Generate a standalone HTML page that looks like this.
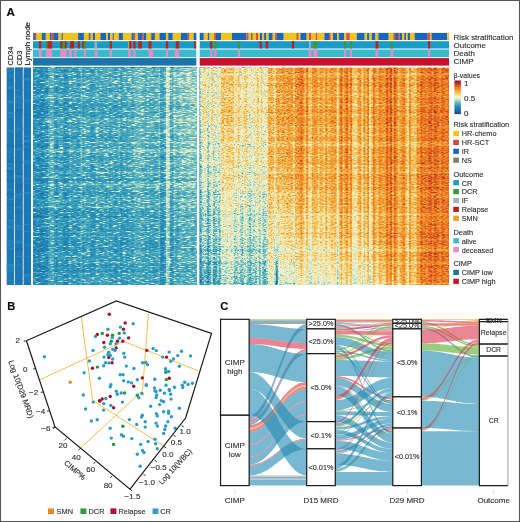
<!DOCTYPE html>
<html><head><meta charset="utf-8"><style>
html,body{margin:0;padding:0;background:#fff;width:520px;height:522px;overflow:hidden;}
svg text{font-family:"Liberation Sans", sans-serif;} .tx{opacity:0.999}
</style></head><body>
<svg width="520" height="522" viewBox="0 0 520 522" style="position:absolute;left:0;top:0" font-family="Liberation Sans, sans-serif">
<rect x="0" y="0" width="520" height="522" fill="#fff"/>
<defs><linearGradient id="l0" x1="0" y1="0" x2="0" y2="1"><stop offset="0" stop-color="#373737"/><stop offset="0.2" stop-color="#353535"/><stop offset="0.4" stop-color="#343434"/><stop offset="0.6" stop-color="#323232"/><stop offset="0.8" stop-color="#313131"/><stop offset="1.0" stop-color="#2f2f2f"/></linearGradient><linearGradient id="l1" x1="0" y1="0" x2="0" y2="1"><stop offset="0" stop-color="#3b3b3b"/><stop offset="0.2" stop-color="#393939"/><stop offset="0.4" stop-color="#383838"/><stop offset="0.6" stop-color="#363636"/><stop offset="0.8" stop-color="#353535"/><stop offset="1.0" stop-color="#333333"/></linearGradient><linearGradient id="l2" x1="0" y1="0" x2="0" y2="1"><stop offset="0" stop-color="#373737"/><stop offset="0.2" stop-color="#353535"/><stop offset="0.4" stop-color="#343434"/><stop offset="0.6" stop-color="#323232"/><stop offset="0.8" stop-color="#313131"/><stop offset="1.0" stop-color="#2f2f2f"/></linearGradient><linearGradient id="l3" x1="0" y1="0" x2="0" y2="1"><stop offset="0" stop-color="#363636"/><stop offset="0.2" stop-color="#353535"/><stop offset="0.4" stop-color="#333333"/><stop offset="0.6" stop-color="#323232"/><stop offset="0.8" stop-color="#303030"/><stop offset="1.0" stop-color="#2f2f2f"/></linearGradient><linearGradient id="l4" x1="0" y1="0" x2="0" y2="1"><stop offset="0" stop-color="#333333"/><stop offset="0.2" stop-color="#323232"/><stop offset="0.4" stop-color="#303030"/><stop offset="0.6" stop-color="#2f2f2f"/><stop offset="0.8" stop-color="#2d2d2d"/><stop offset="1.0" stop-color="#2c2c2c"/></linearGradient><linearGradient id="l5" x1="0" y1="0" x2="0" y2="1"><stop offset="0" stop-color="#373737"/><stop offset="0.2" stop-color="#353535"/><stop offset="0.4" stop-color="#343434"/><stop offset="0.6" stop-color="#323232"/><stop offset="0.8" stop-color="#313131"/><stop offset="1.0" stop-color="#2f2f2f"/></linearGradient><linearGradient id="l6" x1="0" y1="0" x2="0" y2="1"><stop offset="0" stop-color="#3e3e3e"/><stop offset="0.2" stop-color="#3c3c3c"/><stop offset="0.4" stop-color="#3b3b3b"/><stop offset="0.6" stop-color="#393939"/><stop offset="0.8" stop-color="#383838"/><stop offset="1.0" stop-color="#363636"/></linearGradient><linearGradient id="l7" x1="0" y1="0" x2="0" y2="1"><stop offset="0" stop-color="#3a3a3a"/><stop offset="0.2" stop-color="#393939"/><stop offset="0.4" stop-color="#373737"/><stop offset="0.6" stop-color="#363636"/><stop offset="0.8" stop-color="#343434"/><stop offset="1.0" stop-color="#333333"/></linearGradient><linearGradient id="l8" x1="0" y1="0" x2="0" y2="1"><stop offset="0" stop-color="#4d4d4d"/><stop offset="0.2" stop-color="#4b4b4b"/><stop offset="0.4" stop-color="#4a4a4a"/><stop offset="0.6" stop-color="#484848"/><stop offset="0.8" stop-color="#474747"/><stop offset="1.0" stop-color="#454545"/></linearGradient><linearGradient id="l9" x1="0" y1="0" x2="0" y2="1"><stop offset="0" stop-color="#535353"/><stop offset="0.2" stop-color="#515151"/><stop offset="0.4" stop-color="#505050"/><stop offset="0.6" stop-color="#4e4e4e"/><stop offset="0.8" stop-color="#4d4d4d"/><stop offset="1.0" stop-color="#4b4b4b"/></linearGradient><linearGradient id="l10" x1="0" y1="0" x2="0" y2="1"><stop offset="0" stop-color="#545454"/><stop offset="0.2" stop-color="#525252"/><stop offset="0.4" stop-color="#515151"/><stop offset="0.6" stop-color="#4f4f4f"/><stop offset="0.8" stop-color="#4d4d4d"/><stop offset="1.0" stop-color="#4c4c4c"/></linearGradient><linearGradient id="l11" x1="0" y1="0" x2="0" y2="1"><stop offset="0" stop-color="#454545"/><stop offset="0.2" stop-color="#434343"/><stop offset="0.4" stop-color="#414141"/><stop offset="0.6" stop-color="#404040"/><stop offset="0.8" stop-color="#3e3e3e"/><stop offset="1.0" stop-color="#3d3d3d"/></linearGradient><linearGradient id="l12" x1="0" y1="0" x2="0" y2="1"><stop offset="0" stop-color="#3b3b3b"/><stop offset="0.2" stop-color="#3a3a3a"/><stop offset="0.4" stop-color="#383838"/><stop offset="0.6" stop-color="#363636"/><stop offset="0.8" stop-color="#353535"/><stop offset="1.0" stop-color="#333333"/></linearGradient><linearGradient id="l13" x1="0" y1="0" x2="0" y2="1"><stop offset="0" stop-color="#484848"/><stop offset="0.2" stop-color="#464646"/><stop offset="0.4" stop-color="#454545"/><stop offset="0.6" stop-color="#434343"/><stop offset="0.8" stop-color="#424242"/><stop offset="1.0" stop-color="#404040"/></linearGradient><linearGradient id="l14" x1="0" y1="0" x2="0" y2="1"><stop offset="0" stop-color="#464646"/><stop offset="0.2" stop-color="#454545"/><stop offset="0.4" stop-color="#434343"/><stop offset="0.6" stop-color="#424242"/><stop offset="0.8" stop-color="#404040"/><stop offset="1.0" stop-color="#3f3f3f"/></linearGradient><linearGradient id="l15" x1="0" y1="0" x2="0" y2="1"><stop offset="0" stop-color="#464646"/><stop offset="0.2" stop-color="#454545"/><stop offset="0.4" stop-color="#434343"/><stop offset="0.6" stop-color="#424242"/><stop offset="0.8" stop-color="#404040"/><stop offset="1.0" stop-color="#3e3e3e"/></linearGradient><linearGradient id="l16" x1="0" y1="0" x2="0" y2="1"><stop offset="0" stop-color="#3b3b3b"/><stop offset="0.2" stop-color="#393939"/><stop offset="0.4" stop-color="#383838"/><stop offset="0.6" stop-color="#363636"/><stop offset="0.8" stop-color="#353535"/><stop offset="1.0" stop-color="#333333"/></linearGradient><linearGradient id="l17" x1="0" y1="0" x2="0" y2="1"><stop offset="0" stop-color="#3b3b3b"/><stop offset="0.2" stop-color="#393939"/><stop offset="0.4" stop-color="#383838"/><stop offset="0.6" stop-color="#363636"/><stop offset="0.8" stop-color="#353535"/><stop offset="1.0" stop-color="#333333"/></linearGradient><linearGradient id="l18" x1="0" y1="0" x2="0" y2="1"><stop offset="0" stop-color="#3f3f3f"/><stop offset="0.2" stop-color="#3e3e3e"/><stop offset="0.4" stop-color="#3c3c3c"/><stop offset="0.6" stop-color="#3a3a3a"/><stop offset="0.8" stop-color="#393939"/><stop offset="1.0" stop-color="#373737"/></linearGradient><linearGradient id="l19" x1="0" y1="0" x2="0" y2="1"><stop offset="0" stop-color="#4d4d4d"/><stop offset="0.2" stop-color="#4b4b4b"/><stop offset="0.4" stop-color="#4a4a4a"/><stop offset="0.6" stop-color="#484848"/><stop offset="0.8" stop-color="#474747"/><stop offset="1.0" stop-color="#454545"/></linearGradient><linearGradient id="l20" x1="0" y1="0" x2="0" y2="1"><stop offset="0" stop-color="#454545"/><stop offset="0.2" stop-color="#444444"/><stop offset="0.4" stop-color="#424242"/><stop offset="0.6" stop-color="#414141"/><stop offset="0.8" stop-color="#3f3f3f"/><stop offset="1.0" stop-color="#3d3d3d"/></linearGradient><linearGradient id="l21" x1="0" y1="0" x2="0" y2="1"><stop offset="0" stop-color="#434343"/><stop offset="0.2" stop-color="#424242"/><stop offset="0.4" stop-color="#404040"/><stop offset="0.6" stop-color="#3f3f3f"/><stop offset="0.8" stop-color="#3d3d3d"/><stop offset="1.0" stop-color="#3c3c3c"/></linearGradient><linearGradient id="l22" x1="0" y1="0" x2="0" y2="1"><stop offset="0" stop-color="#464646"/><stop offset="0.2" stop-color="#454545"/><stop offset="0.4" stop-color="#434343"/><stop offset="0.6" stop-color="#424242"/><stop offset="0.8" stop-color="#404040"/><stop offset="1.0" stop-color="#3f3f3f"/></linearGradient><linearGradient id="l23" x1="0" y1="0" x2="0" y2="1"><stop offset="0" stop-color="#404040"/><stop offset="0.2" stop-color="#3f3f3f"/><stop offset="0.4" stop-color="#3d3d3d"/><stop offset="0.6" stop-color="#3c3c3c"/><stop offset="0.8" stop-color="#3a3a3a"/><stop offset="1.0" stop-color="#393939"/></linearGradient><linearGradient id="l24" x1="0" y1="0" x2="0" y2="1"><stop offset="0" stop-color="#454545"/><stop offset="0.2" stop-color="#444444"/><stop offset="0.4" stop-color="#424242"/><stop offset="0.6" stop-color="#414141"/><stop offset="0.8" stop-color="#3f3f3f"/><stop offset="1.0" stop-color="#3d3d3d"/></linearGradient><linearGradient id="l25" x1="0" y1="0" x2="0" y2="1"><stop offset="0" stop-color="#545454"/><stop offset="0.2" stop-color="#525252"/><stop offset="0.4" stop-color="#515151"/><stop offset="0.6" stop-color="#4f4f4f"/><stop offset="0.8" stop-color="#4d4d4d"/><stop offset="1.0" stop-color="#4c4c4c"/></linearGradient><linearGradient id="l26" x1="0" y1="0" x2="0" y2="1"><stop offset="0" stop-color="#414141"/><stop offset="0.2" stop-color="#404040"/><stop offset="0.4" stop-color="#3e3e3e"/><stop offset="0.6" stop-color="#3d3d3d"/><stop offset="0.8" stop-color="#3b3b3b"/><stop offset="1.0" stop-color="#3a3a3a"/></linearGradient><linearGradient id="l27" x1="0" y1="0" x2="0" y2="1"><stop offset="0" stop-color="#4e4e4e"/><stop offset="0.2" stop-color="#4c4c4c"/><stop offset="0.4" stop-color="#4b4b4b"/><stop offset="0.6" stop-color="#494949"/><stop offset="0.8" stop-color="#474747"/><stop offset="1.0" stop-color="#464646"/></linearGradient><linearGradient id="l28" x1="0" y1="0" x2="0" y2="1"><stop offset="0" stop-color="#484848"/><stop offset="0.2" stop-color="#464646"/><stop offset="0.4" stop-color="#454545"/><stop offset="0.6" stop-color="#434343"/><stop offset="0.8" stop-color="#424242"/><stop offset="1.0" stop-color="#404040"/></linearGradient><linearGradient id="l29" x1="0" y1="0" x2="0" y2="1"><stop offset="0" stop-color="#4b4b4b"/><stop offset="0.2" stop-color="#494949"/><stop offset="0.4" stop-color="#484848"/><stop offset="0.6" stop-color="#464646"/><stop offset="0.8" stop-color="#454545"/><stop offset="1.0" stop-color="#434343"/></linearGradient><linearGradient id="l30" x1="0" y1="0" x2="0" y2="1"><stop offset="0" stop-color="#424242"/><stop offset="0.2" stop-color="#404040"/><stop offset="0.4" stop-color="#3f3f3f"/><stop offset="0.6" stop-color="#3d3d3d"/><stop offset="0.8" stop-color="#3c3c3c"/><stop offset="1.0" stop-color="#3a3a3a"/></linearGradient><linearGradient id="l31" x1="0" y1="0" x2="0" y2="1"><stop offset="0" stop-color="#414141"/><stop offset="0.2" stop-color="#404040"/><stop offset="0.4" stop-color="#3e3e3e"/><stop offset="0.6" stop-color="#3c3c3c"/><stop offset="0.8" stop-color="#3b3b3b"/><stop offset="1.0" stop-color="#393939"/></linearGradient><linearGradient id="l32" x1="0" y1="0" x2="0" y2="1"><stop offset="0" stop-color="#434343"/><stop offset="0.2" stop-color="#424242"/><stop offset="0.4" stop-color="#404040"/><stop offset="0.6" stop-color="#3f3f3f"/><stop offset="0.8" stop-color="#3d3d3d"/><stop offset="1.0" stop-color="#3b3b3b"/></linearGradient><linearGradient id="l33" x1="0" y1="0" x2="0" y2="1"><stop offset="0" stop-color="#515151"/><stop offset="0.2" stop-color="#505050"/><stop offset="0.4" stop-color="#4e4e4e"/><stop offset="0.6" stop-color="#4c4c4c"/><stop offset="0.8" stop-color="#4b4b4b"/><stop offset="1.0" stop-color="#494949"/></linearGradient><linearGradient id="l34" x1="0" y1="0" x2="0" y2="1"><stop offset="0" stop-color="#494949"/><stop offset="0.2" stop-color="#484848"/><stop offset="0.4" stop-color="#464646"/><stop offset="0.6" stop-color="#454545"/><stop offset="0.8" stop-color="#434343"/><stop offset="1.0" stop-color="#424242"/></linearGradient><linearGradient id="l35" x1="0" y1="0" x2="0" y2="1"><stop offset="0" stop-color="#474747"/><stop offset="0.2" stop-color="#464646"/><stop offset="0.4" stop-color="#444444"/><stop offset="0.6" stop-color="#434343"/><stop offset="0.8" stop-color="#414141"/><stop offset="1.0" stop-color="#404040"/></linearGradient><linearGradient id="l36" x1="0" y1="0" x2="0" y2="1"><stop offset="0" stop-color="#444444"/><stop offset="0.2" stop-color="#434343"/><stop offset="0.4" stop-color="#414141"/><stop offset="0.6" stop-color="#3f3f3f"/><stop offset="0.8" stop-color="#3e3e3e"/><stop offset="1.0" stop-color="#3c3c3c"/></linearGradient><linearGradient id="l37" x1="0" y1="0" x2="0" y2="1"><stop offset="0" stop-color="#4e4e4e"/><stop offset="0.2" stop-color="#4c4c4c"/><stop offset="0.4" stop-color="#4a4a4a"/><stop offset="0.6" stop-color="#484848"/><stop offset="0.8" stop-color="#474747"/><stop offset="1.0" stop-color="#454545"/></linearGradient><linearGradient id="l38" x1="0" y1="0" x2="0" y2="1"><stop offset="0" stop-color="#464646"/><stop offset="0.2" stop-color="#444444"/><stop offset="0.4" stop-color="#424242"/><stop offset="0.6" stop-color="#414141"/><stop offset="0.8" stop-color="#3f3f3f"/><stop offset="1.0" stop-color="#3d3d3d"/></linearGradient><linearGradient id="l39" x1="0" y1="0" x2="0" y2="1"><stop offset="0" stop-color="#4f4f4f"/><stop offset="0.2" stop-color="#4d4d4d"/><stop offset="0.4" stop-color="#4b4b4b"/><stop offset="0.6" stop-color="#4a4a4a"/><stop offset="0.8" stop-color="#484848"/><stop offset="1.0" stop-color="#464646"/></linearGradient><linearGradient id="l40" x1="0" y1="0" x2="0" y2="1"><stop offset="0" stop-color="#454545"/><stop offset="0.2" stop-color="#434343"/><stop offset="0.4" stop-color="#414141"/><stop offset="0.6" stop-color="#3f3f3f"/><stop offset="0.8" stop-color="#3e3e3e"/><stop offset="1.0" stop-color="#3c3c3c"/></linearGradient><linearGradient id="l41" x1="0" y1="0" x2="0" y2="1"><stop offset="0" stop-color="#4b4b4b"/><stop offset="0.2" stop-color="#494949"/><stop offset="0.4" stop-color="#474747"/><stop offset="0.6" stop-color="#454545"/><stop offset="0.8" stop-color="#434343"/><stop offset="1.0" stop-color="#414141"/></linearGradient><linearGradient id="l42" x1="0" y1="0" x2="0" y2="1"><stop offset="0" stop-color="#4c4c4c"/><stop offset="0.2" stop-color="#4a4a4a"/><stop offset="0.4" stop-color="#484848"/><stop offset="0.6" stop-color="#464646"/><stop offset="0.8" stop-color="#444444"/><stop offset="1.0" stop-color="#424242"/></linearGradient><linearGradient id="l43" x1="0" y1="0" x2="0" y2="1"><stop offset="0" stop-color="#434343"/><stop offset="0.2" stop-color="#414141"/><stop offset="0.4" stop-color="#3e3e3e"/><stop offset="0.6" stop-color="#3c3c3c"/><stop offset="0.8" stop-color="#3a3a3a"/><stop offset="1.0" stop-color="#383838"/></linearGradient><linearGradient id="l44" x1="0" y1="0" x2="0" y2="1"><stop offset="0" stop-color="#4b4b4b"/><stop offset="0.2" stop-color="#494949"/><stop offset="0.4" stop-color="#474747"/><stop offset="0.6" stop-color="#444444"/><stop offset="0.8" stop-color="#424242"/><stop offset="1.0" stop-color="#404040"/></linearGradient><linearGradient id="l45" x1="0" y1="0" x2="0" y2="1"><stop offset="0" stop-color="#525252"/><stop offset="0.2" stop-color="#4f4f4f"/><stop offset="0.4" stop-color="#4d4d4d"/><stop offset="0.6" stop-color="#4b4b4b"/><stop offset="0.8" stop-color="#494949"/><stop offset="1.0" stop-color="#464646"/></linearGradient><linearGradient id="l46" x1="0" y1="0" x2="0" y2="1"><stop offset="0" stop-color="#414141"/><stop offset="0.2" stop-color="#3f3f3f"/><stop offset="0.4" stop-color="#3c3c3c"/><stop offset="0.6" stop-color="#3a3a3a"/><stop offset="0.8" stop-color="#383838"/><stop offset="1.0" stop-color="#353535"/></linearGradient><linearGradient id="l47" x1="0" y1="0" x2="0" y2="1"><stop offset="0" stop-color="#4a4a4a"/><stop offset="0.2" stop-color="#484848"/><stop offset="0.4" stop-color="#454545"/><stop offset="0.6" stop-color="#434343"/><stop offset="0.8" stop-color="#414141"/><stop offset="1.0" stop-color="#3e3e3e"/></linearGradient><linearGradient id="l48" x1="0" y1="0" x2="0" y2="1"><stop offset="0" stop-color="#4c4c4c"/><stop offset="0.2" stop-color="#494949"/><stop offset="0.4" stop-color="#474747"/><stop offset="0.6" stop-color="#444444"/><stop offset="0.8" stop-color="#424242"/><stop offset="1.0" stop-color="#3f3f3f"/></linearGradient><linearGradient id="l49" x1="0" y1="0" x2="0" y2="1"><stop offset="0" stop-color="#484848"/><stop offset="0.2" stop-color="#464646"/><stop offset="0.4" stop-color="#434343"/><stop offset="0.6" stop-color="#414141"/><stop offset="0.8" stop-color="#3e3e3e"/><stop offset="1.0" stop-color="#3c3c3c"/></linearGradient><linearGradient id="l50" x1="0" y1="0" x2="0" y2="1"><stop offset="0" stop-color="#4f4f4f"/><stop offset="0.2" stop-color="#4d4d4d"/><stop offset="0.4" stop-color="#4a4a4a"/><stop offset="0.6" stop-color="#474747"/><stop offset="0.8" stop-color="#454545"/><stop offset="1.0" stop-color="#424242"/></linearGradient><linearGradient id="l51" x1="0" y1="0" x2="0" y2="1"><stop offset="0" stop-color="#515151"/><stop offset="0.2" stop-color="#4e4e4e"/><stop offset="0.4" stop-color="#4b4b4b"/><stop offset="0.6" stop-color="#494949"/><stop offset="0.8" stop-color="#464646"/><stop offset="1.0" stop-color="#434343"/></linearGradient><linearGradient id="l52" x1="0" y1="0" x2="0" y2="1"><stop offset="0" stop-color="#4a4a4a"/><stop offset="0.2" stop-color="#474747"/><stop offset="0.4" stop-color="#444444"/><stop offset="0.6" stop-color="#424242"/><stop offset="0.8" stop-color="#3f3f3f"/><stop offset="1.0" stop-color="#3c3c3c"/></linearGradient><linearGradient id="l53" x1="0" y1="0" x2="0" y2="1"><stop offset="0" stop-color="#565656"/><stop offset="0.2" stop-color="#535353"/><stop offset="0.4" stop-color="#505050"/><stop offset="0.6" stop-color="#4d4d4d"/><stop offset="0.8" stop-color="#4b4b4b"/><stop offset="1.0" stop-color="#484848"/></linearGradient><linearGradient id="l54" x1="0" y1="0" x2="0" y2="1"><stop offset="0" stop-color="#555555"/><stop offset="0.2" stop-color="#535353"/><stop offset="0.4" stop-color="#505050"/><stop offset="0.6" stop-color="#4d4d4d"/><stop offset="0.8" stop-color="#4a4a4a"/><stop offset="1.0" stop-color="#474747"/></linearGradient><linearGradient id="l55" x1="0" y1="0" x2="0" y2="1"><stop offset="0" stop-color="#575757"/><stop offset="0.2" stop-color="#545454"/><stop offset="0.4" stop-color="#515151"/><stop offset="0.6" stop-color="#4e4e4e"/><stop offset="0.8" stop-color="#4b4b4b"/><stop offset="1.0" stop-color="#484848"/></linearGradient><linearGradient id="l56" x1="0" y1="0" x2="0" y2="1"><stop offset="0" stop-color="#5a5a5a"/><stop offset="0.2" stop-color="#575757"/><stop offset="0.4" stop-color="#545454"/><stop offset="0.6" stop-color="#515151"/><stop offset="0.8" stop-color="#4e4e4e"/><stop offset="1.0" stop-color="#4b4b4b"/></linearGradient><linearGradient id="l57" x1="0" y1="0" x2="0" y2="1"><stop offset="0" stop-color="#555555"/><stop offset="0.2" stop-color="#525252"/><stop offset="0.4" stop-color="#4f4f4f"/><stop offset="0.6" stop-color="#4c4c4c"/><stop offset="0.8" stop-color="#494949"/><stop offset="1.0" stop-color="#454545"/></linearGradient><linearGradient id="l58" x1="0" y1="0" x2="0" y2="1"><stop offset="0" stop-color="#545454"/><stop offset="0.2" stop-color="#515151"/><stop offset="0.4" stop-color="#4e4e4e"/><stop offset="0.6" stop-color="#4b4b4b"/><stop offset="0.8" stop-color="#474747"/><stop offset="1.0" stop-color="#444444"/></linearGradient><linearGradient id="l59" x1="0" y1="0" x2="0" y2="1"><stop offset="0" stop-color="#4d4d4d"/><stop offset="0.2" stop-color="#4a4a4a"/><stop offset="0.4" stop-color="#474747"/><stop offset="0.6" stop-color="#434343"/><stop offset="0.8" stop-color="#404040"/><stop offset="1.0" stop-color="#3d3d3d"/></linearGradient><linearGradient id="l60" x1="0" y1="0" x2="0" y2="1"><stop offset="0" stop-color="#575757"/><stop offset="0.2" stop-color="#545454"/><stop offset="0.4" stop-color="#515151"/><stop offset="0.6" stop-color="#4d4d4d"/><stop offset="0.8" stop-color="#4a4a4a"/><stop offset="1.0" stop-color="#474747"/></linearGradient><linearGradient id="l61" x1="0" y1="0" x2="0" y2="1"><stop offset="0" stop-color="#515151"/><stop offset="0.2" stop-color="#4e4e4e"/><stop offset="0.4" stop-color="#4b4b4b"/><stop offset="0.6" stop-color="#474747"/><stop offset="0.8" stop-color="#444444"/><stop offset="1.0" stop-color="#404040"/></linearGradient><linearGradient id="l62" x1="0" y1="0" x2="0" y2="1"><stop offset="0" stop-color="#535353"/><stop offset="0.2" stop-color="#4f4f4f"/><stop offset="0.4" stop-color="#4c4c4c"/><stop offset="0.6" stop-color="#484848"/><stop offset="0.8" stop-color="#454545"/><stop offset="1.0" stop-color="#414141"/></linearGradient><linearGradient id="l63" x1="0" y1="0" x2="0" y2="1"><stop offset="0" stop-color="#4f4f4f"/><stop offset="0.2" stop-color="#4b4b4b"/><stop offset="0.4" stop-color="#484848"/><stop offset="0.6" stop-color="#444444"/><stop offset="0.8" stop-color="#414141"/><stop offset="1.0" stop-color="#3d3d3d"/></linearGradient><linearGradient id="l64" x1="0" y1="0" x2="0" y2="1"><stop offset="0" stop-color="#515151"/><stop offset="0.2" stop-color="#4d4d4d"/><stop offset="0.4" stop-color="#494949"/><stop offset="0.6" stop-color="#464646"/><stop offset="0.8" stop-color="#424242"/><stop offset="1.0" stop-color="#3f3f3f"/></linearGradient><linearGradient id="l65" x1="0" y1="0" x2="0" y2="1"><stop offset="0" stop-color="#535353"/><stop offset="0.2" stop-color="#505050"/><stop offset="0.4" stop-color="#4c4c4c"/><stop offset="0.6" stop-color="#484848"/><stop offset="0.8" stop-color="#454545"/><stop offset="1.0" stop-color="#414141"/></linearGradient><linearGradient id="l66" x1="0" y1="0" x2="0" y2="1"><stop offset="0" stop-color="#5d5d5d"/><stop offset="0.2" stop-color="#595959"/><stop offset="0.4" stop-color="#555555"/><stop offset="0.6" stop-color="#525252"/><stop offset="0.8" stop-color="#4e4e4e"/><stop offset="1.0" stop-color="#4a4a4a"/></linearGradient><linearGradient id="l67" x1="0" y1="0" x2="0" y2="1"><stop offset="0" stop-color="#434343"/><stop offset="0.2" stop-color="#404040"/><stop offset="0.4" stop-color="#3c3c3c"/><stop offset="0.6" stop-color="#383838"/><stop offset="0.8" stop-color="#343434"/><stop offset="1.0" stop-color="#303030"/></linearGradient><linearGradient id="l68" x1="0" y1="0" x2="0" y2="1"><stop offset="0" stop-color="#474747"/><stop offset="0.2" stop-color="#434343"/><stop offset="0.4" stop-color="#3f3f3f"/><stop offset="0.6" stop-color="#3b3b3b"/><stop offset="0.8" stop-color="#373737"/><stop offset="1.0" stop-color="#333333"/></linearGradient><linearGradient id="l69" x1="0" y1="0" x2="0" y2="1"><stop offset="0" stop-color="#505050"/><stop offset="0.2" stop-color="#4c4c4c"/><stop offset="0.4" stop-color="#484848"/><stop offset="0.6" stop-color="#444444"/><stop offset="0.8" stop-color="#404040"/><stop offset="1.0" stop-color="#3c3c3c"/></linearGradient><linearGradient id="l70" x1="0" y1="0" x2="0" y2="1"><stop offset="0" stop-color="#777777"/><stop offset="0.2" stop-color="#737373"/><stop offset="0.4" stop-color="#6f6f6f"/><stop offset="0.6" stop-color="#6b6b6b"/><stop offset="0.8" stop-color="#676767"/><stop offset="1.0" stop-color="#636363"/></linearGradient><linearGradient id="l71" x1="0" y1="0" x2="0" y2="1"><stop offset="0" stop-color="#737373"/><stop offset="0.2" stop-color="#6f6f6f"/><stop offset="0.4" stop-color="#6b6b6b"/><stop offset="0.6" stop-color="#676767"/><stop offset="0.8" stop-color="#636363"/><stop offset="1.0" stop-color="#5f5f5f"/></linearGradient><linearGradient id="l72" x1="0" y1="0" x2="0" y2="1"><stop offset="0" stop-color="#505050"/><stop offset="0.2" stop-color="#4c4c4c"/><stop offset="0.4" stop-color="#484848"/><stop offset="0.6" stop-color="#434343"/><stop offset="0.8" stop-color="#3f3f3f"/><stop offset="1.0" stop-color="#3b3b3b"/></linearGradient><linearGradient id="l73" x1="0" y1="0" x2="0" y2="1"><stop offset="0" stop-color="#4d4d4d"/><stop offset="0.2" stop-color="#494949"/><stop offset="0.4" stop-color="#454545"/><stop offset="0.6" stop-color="#404040"/><stop offset="0.8" stop-color="#3c3c3c"/><stop offset="1.0" stop-color="#383838"/></linearGradient><linearGradient id="l74" x1="0" y1="0" x2="0" y2="1"><stop offset="0" stop-color="#646464"/><stop offset="0.2" stop-color="#606060"/><stop offset="0.4" stop-color="#5b5b5b"/><stop offset="0.6" stop-color="#575757"/><stop offset="0.8" stop-color="#535353"/><stop offset="1.0" stop-color="#4e4e4e"/></linearGradient><linearGradient id="l75" x1="0" y1="0" x2="0" y2="1"><stop offset="0" stop-color="#595959"/><stop offset="0.2" stop-color="#555555"/><stop offset="0.4" stop-color="#515151"/><stop offset="0.6" stop-color="#4c4c4c"/><stop offset="0.8" stop-color="#484848"/><stop offset="1.0" stop-color="#444444"/></linearGradient><linearGradient id="l76" x1="0" y1="0" x2="0" y2="1"><stop offset="0" stop-color="#585858"/><stop offset="0.2" stop-color="#535353"/><stop offset="0.4" stop-color="#4f4f4f"/><stop offset="0.6" stop-color="#4b4b4b"/><stop offset="0.8" stop-color="#464646"/><stop offset="1.0" stop-color="#424242"/></linearGradient><linearGradient id="l77" x1="0" y1="0" x2="0" y2="1"><stop offset="0" stop-color="#636363"/><stop offset="0.2" stop-color="#5e5e5e"/><stop offset="0.4" stop-color="#5a5a5a"/><stop offset="0.6" stop-color="#555555"/><stop offset="0.8" stop-color="#515151"/><stop offset="1.0" stop-color="#4c4c4c"/></linearGradient><linearGradient id="l78" x1="0" y1="0" x2="0" y2="1"><stop offset="0" stop-color="#646464"/><stop offset="0.2" stop-color="#5f5f5f"/><stop offset="0.4" stop-color="#5b5b5b"/><stop offset="0.6" stop-color="#565656"/><stop offset="0.8" stop-color="#525252"/><stop offset="1.0" stop-color="#4d4d4d"/></linearGradient><linearGradient id="l79" x1="0" y1="0" x2="0" y2="1"><stop offset="0" stop-color="#5f5f5f"/><stop offset="0.2" stop-color="#5b5b5b"/><stop offset="0.4" stop-color="#565656"/><stop offset="0.6" stop-color="#525252"/><stop offset="0.8" stop-color="#4d4d4d"/><stop offset="1.0" stop-color="#484848"/></linearGradient><linearGradient id="l80" x1="0" y1="0" x2="0" y2="1"><stop offset="0" stop-color="#606060"/><stop offset="0.2" stop-color="#5c5c5c"/><stop offset="0.4" stop-color="#575757"/><stop offset="0.6" stop-color="#525252"/><stop offset="0.8" stop-color="#4d4d4d"/><stop offset="1.0" stop-color="#494949"/></linearGradient><linearGradient id="l81" x1="0" y1="0" x2="0" y2="1"><stop offset="0" stop-color="#626262"/><stop offset="0.2" stop-color="#5d5d5d"/><stop offset="0.4" stop-color="#585858"/><stop offset="0.6" stop-color="#535353"/><stop offset="0.8" stop-color="#4e4e4e"/><stop offset="1.0" stop-color="#4a4a4a"/></linearGradient><linearGradient id="l82" x1="0" y1="0" x2="0" y2="1"><stop offset="0" stop-color="#686868"/><stop offset="0.2" stop-color="#636363"/><stop offset="0.4" stop-color="#5e5e5e"/><stop offset="0.6" stop-color="#595959"/><stop offset="0.8" stop-color="#545454"/><stop offset="1.0" stop-color="#505050"/></linearGradient><linearGradient id="l83" x1="0" y1="0" x2="0" y2="1"><stop offset="0" stop-color="#636363"/><stop offset="0.2" stop-color="#5e5e5e"/><stop offset="0.4" stop-color="#595959"/><stop offset="0.6" stop-color="#545454"/><stop offset="0.8" stop-color="#4f4f4f"/><stop offset="1.0" stop-color="#4b4b4b"/></linearGradient><linearGradient id="l84" x1="0" y1="0" x2="0" y2="1"><stop offset="0" stop-color="#636363"/><stop offset="0.2" stop-color="#5e5e5e"/><stop offset="0.4" stop-color="#595959"/><stop offset="0.6" stop-color="#545454"/><stop offset="0.8" stop-color="#4f4f4f"/><stop offset="1.0" stop-color="#4a4a4a"/></linearGradient><linearGradient id="l85" x1="0" y1="0" x2="0" y2="1"><stop offset="0" stop-color="#646464"/><stop offset="0.2" stop-color="#5e5e5e"/><stop offset="0.4" stop-color="#595959"/><stop offset="0.6" stop-color="#545454"/><stop offset="0.8" stop-color="#4f4f4f"/><stop offset="1.0" stop-color="#4a4a4a"/></linearGradient><linearGradient id="r0" x1="0" y1="0" x2="0" y2="1"><stop offset="0" stop-color="#6c6c6c"/><stop offset="0.2" stop-color="#6a6a6a"/><stop offset="0.4" stop-color="#5c5c5c"/><stop offset="0.6" stop-color="#4e4e4e"/><stop offset="0.8" stop-color="#3f3f3f"/><stop offset="1.0" stop-color="#313131"/></linearGradient><linearGradient id="r1" x1="0" y1="0" x2="0" y2="1"><stop offset="0" stop-color="#909090"/><stop offset="0.2" stop-color="#8f8f8f"/><stop offset="0.4" stop-color="#818181"/><stop offset="0.6" stop-color="#727272"/><stop offset="0.8" stop-color="#646464"/><stop offset="1.0" stop-color="#565656"/></linearGradient><linearGradient id="r2" x1="0" y1="0" x2="0" y2="1"><stop offset="0" stop-color="#939393"/><stop offset="0.2" stop-color="#939393"/><stop offset="0.4" stop-color="#858585"/><stop offset="0.6" stop-color="#767676"/><stop offset="0.8" stop-color="#686868"/><stop offset="1.0" stop-color="#5a5a5a"/></linearGradient><linearGradient id="r3" x1="0" y1="0" x2="0" y2="1"><stop offset="0" stop-color="#8e8e8e"/><stop offset="0.2" stop-color="#8e8e8e"/><stop offset="0.4" stop-color="#808080"/><stop offset="0.6" stop-color="#717171"/><stop offset="0.8" stop-color="#636363"/><stop offset="1.0" stop-color="#555555"/></linearGradient><linearGradient id="r4" x1="0" y1="0" x2="0" y2="1"><stop offset="0" stop-color="#6e6e6e"/><stop offset="0.2" stop-color="#6e6e6e"/><stop offset="0.4" stop-color="#606060"/><stop offset="0.6" stop-color="#525252"/><stop offset="0.8" stop-color="#444444"/><stop offset="1.0" stop-color="#353535"/></linearGradient><linearGradient id="r5" x1="0" y1="0" x2="0" y2="1"><stop offset="0" stop-color="#898989"/><stop offset="0.2" stop-color="#898989"/><stop offset="0.4" stop-color="#7c7c7c"/><stop offset="0.6" stop-color="#6e6e6e"/><stop offset="0.8" stop-color="#5f5f5f"/><stop offset="1.0" stop-color="#515151"/></linearGradient><linearGradient id="r6" x1="0" y1="0" x2="0" y2="1"><stop offset="0" stop-color="#9c9c9c"/><stop offset="0.2" stop-color="#9c9c9c"/><stop offset="0.4" stop-color="#8f8f8f"/><stop offset="0.6" stop-color="#818181"/><stop offset="0.8" stop-color="#737373"/><stop offset="1.0" stop-color="#646464"/></linearGradient><linearGradient id="r7" x1="0" y1="0" x2="0" y2="1"><stop offset="0" stop-color="#7a7a7a"/><stop offset="0.2" stop-color="#7a7a7a"/><stop offset="0.4" stop-color="#6e6e6e"/><stop offset="0.6" stop-color="#5f5f5f"/><stop offset="0.8" stop-color="#515151"/><stop offset="1.0" stop-color="#434343"/></linearGradient><linearGradient id="r8" x1="0" y1="0" x2="0" y2="1"><stop offset="0" stop-color="#808080"/><stop offset="0.2" stop-color="#808080"/><stop offset="0.4" stop-color="#737373"/><stop offset="0.6" stop-color="#656565"/><stop offset="0.8" stop-color="#575757"/><stop offset="1.0" stop-color="#494949"/></linearGradient><linearGradient id="r9" x1="0" y1="0" x2="0" y2="1"><stop offset="0" stop-color="#8f8f8f"/><stop offset="0.2" stop-color="#8f8f8f"/><stop offset="0.4" stop-color="#838383"/><stop offset="0.6" stop-color="#757575"/><stop offset="0.8" stop-color="#676767"/><stop offset="1.0" stop-color="#595959"/></linearGradient><linearGradient id="r10" x1="0" y1="0" x2="0" y2="1"><stop offset="0" stop-color="#7c7c7c"/><stop offset="0.2" stop-color="#7c7c7c"/><stop offset="0.4" stop-color="#707070"/><stop offset="0.6" stop-color="#626262"/><stop offset="0.8" stop-color="#545454"/><stop offset="1.0" stop-color="#454545"/></linearGradient><linearGradient id="r11" x1="0" y1="0" x2="0" y2="1"><stop offset="0" stop-color="#a1a1a1"/><stop offset="0.2" stop-color="#a1a1a1"/><stop offset="0.4" stop-color="#969696"/><stop offset="0.6" stop-color="#888888"/><stop offset="0.8" stop-color="#797979"/><stop offset="1.0" stop-color="#6b6b6b"/></linearGradient><linearGradient id="r12" x1="0" y1="0" x2="0" y2="1"><stop offset="0" stop-color="#a5a5a5"/><stop offset="0.2" stop-color="#a5a5a5"/><stop offset="0.4" stop-color="#9b9b9b"/><stop offset="0.6" stop-color="#8c8c8c"/><stop offset="0.8" stop-color="#7e7e7e"/><stop offset="1.0" stop-color="#707070"/></linearGradient><linearGradient id="r13" x1="0" y1="0" x2="0" y2="1"><stop offset="0" stop-color="#9c9c9c"/><stop offset="0.2" stop-color="#9c9c9c"/><stop offset="0.4" stop-color="#929292"/><stop offset="0.6" stop-color="#848484"/><stop offset="0.8" stop-color="#767676"/><stop offset="1.0" stop-color="#676767"/></linearGradient><linearGradient id="r14" x1="0" y1="0" x2="0" y2="1"><stop offset="0" stop-color="#a2a2a2"/><stop offset="0.2" stop-color="#a2a2a2"/><stop offset="0.4" stop-color="#999999"/><stop offset="0.6" stop-color="#8a8a8a"/><stop offset="0.8" stop-color="#7c7c7c"/><stop offset="1.0" stop-color="#6e6e6e"/></linearGradient><linearGradient id="r15" x1="0" y1="0" x2="0" y2="1"><stop offset="0" stop-color="#a6a6a6"/><stop offset="0.2" stop-color="#a6a6a6"/><stop offset="0.4" stop-color="#9d9d9d"/><stop offset="0.6" stop-color="#8f8f8f"/><stop offset="0.8" stop-color="#818181"/><stop offset="1.0" stop-color="#737373"/></linearGradient><linearGradient id="r16" x1="0" y1="0" x2="0" y2="1"><stop offset="0" stop-color="#a0a0a0"/><stop offset="0.2" stop-color="#a0a0a0"/><stop offset="0.4" stop-color="#979797"/><stop offset="0.6" stop-color="#898989"/><stop offset="0.8" stop-color="#7a7a7a"/><stop offset="1.0" stop-color="#6c6c6c"/></linearGradient><linearGradient id="r17" x1="0" y1="0" x2="0" y2="1"><stop offset="0" stop-color="#a3a3a3"/><stop offset="0.2" stop-color="#a3a3a3"/><stop offset="0.4" stop-color="#9a9a9a"/><stop offset="0.6" stop-color="#8c8c8c"/><stop offset="0.8" stop-color="#7e7e7e"/><stop offset="1.0" stop-color="#707070"/></linearGradient><linearGradient id="r18" x1="0" y1="0" x2="0" y2="1"><stop offset="0" stop-color="#8b8b8b"/><stop offset="0.2" stop-color="#8b8b8b"/><stop offset="0.4" stop-color="#838383"/><stop offset="0.6" stop-color="#757575"/><stop offset="0.8" stop-color="#676767"/><stop offset="1.0" stop-color="#595959"/></linearGradient><linearGradient id="r19" x1="0" y1="0" x2="0" y2="1"><stop offset="0" stop-color="#8f8f8f"/><stop offset="0.2" stop-color="#8f8f8f"/><stop offset="0.4" stop-color="#878787"/><stop offset="0.6" stop-color="#797979"/><stop offset="0.8" stop-color="#6b6b6b"/><stop offset="1.0" stop-color="#5c5c5c"/></linearGradient><linearGradient id="r20" x1="0" y1="0" x2="0" y2="1"><stop offset="0" stop-color="#a1a1a1"/><stop offset="0.2" stop-color="#a1a1a1"/><stop offset="0.4" stop-color="#9a9a9a"/><stop offset="0.6" stop-color="#8c8c8c"/><stop offset="0.8" stop-color="#7e7e7e"/><stop offset="1.0" stop-color="#6f6f6f"/></linearGradient><linearGradient id="r21" x1="0" y1="0" x2="0" y2="1"><stop offset="0" stop-color="#8d8d8d"/><stop offset="0.2" stop-color="#8d8d8d"/><stop offset="0.4" stop-color="#868686"/><stop offset="0.6" stop-color="#787878"/><stop offset="0.8" stop-color="#696969"/><stop offset="1.0" stop-color="#5b5b5b"/></linearGradient><linearGradient id="r22" x1="0" y1="0" x2="0" y2="1"><stop offset="0" stop-color="#818181"/><stop offset="0.2" stop-color="#818181"/><stop offset="0.4" stop-color="#7b7b7b"/><stop offset="0.6" stop-color="#6c6c6c"/><stop offset="0.8" stop-color="#5e5e5e"/><stop offset="1.0" stop-color="#505050"/></linearGradient><linearGradient id="r23" x1="0" y1="0" x2="0" y2="1"><stop offset="0" stop-color="#989898"/><stop offset="0.2" stop-color="#989898"/><stop offset="0.4" stop-color="#929292"/><stop offset="0.6" stop-color="#848484"/><stop offset="0.8" stop-color="#767676"/><stop offset="1.0" stop-color="#686868"/></linearGradient><linearGradient id="r24" x1="0" y1="0" x2="0" y2="1"><stop offset="0" stop-color="#9f9f9f"/><stop offset="0.2" stop-color="#9f9f9f"/><stop offset="0.4" stop-color="#999999"/><stop offset="0.6" stop-color="#8b8b8b"/><stop offset="0.8" stop-color="#7d7d7d"/><stop offset="1.0" stop-color="#6f6f6f"/></linearGradient><linearGradient id="r25" x1="0" y1="0" x2="0" y2="1"><stop offset="0" stop-color="#878787"/><stop offset="0.2" stop-color="#878787"/><stop offset="0.4" stop-color="#818181"/><stop offset="0.6" stop-color="#737373"/><stop offset="0.8" stop-color="#656565"/><stop offset="1.0" stop-color="#575757"/></linearGradient><linearGradient id="r26" x1="0" y1="0" x2="0" y2="1"><stop offset="0" stop-color="#7b7b7b"/><stop offset="0.2" stop-color="#7b7b7b"/><stop offset="0.4" stop-color="#767676"/><stop offset="0.6" stop-color="#686868"/><stop offset="0.8" stop-color="#5a5a5a"/><stop offset="1.0" stop-color="#4c4c4c"/></linearGradient><linearGradient id="r27" x1="0" y1="0" x2="0" y2="1"><stop offset="0" stop-color="#8b8b8b"/><stop offset="0.2" stop-color="#8b8b8b"/><stop offset="0.4" stop-color="#868686"/><stop offset="0.6" stop-color="#787878"/><stop offset="0.8" stop-color="#6a6a6a"/><stop offset="1.0" stop-color="#5c5c5c"/></linearGradient><linearGradient id="r28" x1="0" y1="0" x2="0" y2="1"><stop offset="0" stop-color="#8a8a8a"/><stop offset="0.2" stop-color="#8a8a8a"/><stop offset="0.4" stop-color="#868686"/><stop offset="0.6" stop-color="#787878"/><stop offset="0.8" stop-color="#6a6a6a"/><stop offset="1.0" stop-color="#5c5c5c"/></linearGradient><linearGradient id="r29" x1="0" y1="0" x2="0" y2="1"><stop offset="0" stop-color="#888888"/><stop offset="0.2" stop-color="#888888"/><stop offset="0.4" stop-color="#858585"/><stop offset="0.6" stop-color="#777777"/><stop offset="0.8" stop-color="#696969"/><stop offset="1.0" stop-color="#5b5b5b"/></linearGradient><linearGradient id="r30" x1="0" y1="0" x2="0" y2="1"><stop offset="0" stop-color="#9e9e9e"/><stop offset="0.2" stop-color="#9e9e9e"/><stop offset="0.4" stop-color="#9b9b9b"/><stop offset="0.6" stop-color="#8d8d8d"/><stop offset="0.8" stop-color="#7f7f7f"/><stop offset="1.0" stop-color="#717171"/></linearGradient><linearGradient id="r31" x1="0" y1="0" x2="0" y2="1"><stop offset="0" stop-color="#7f7f7f"/><stop offset="0.2" stop-color="#7f7f7f"/><stop offset="0.4" stop-color="#7c7c7c"/><stop offset="0.6" stop-color="#6e6e6e"/><stop offset="0.8" stop-color="#606060"/><stop offset="1.0" stop-color="#525252"/></linearGradient><linearGradient id="r32" x1="0" y1="0" x2="0" y2="1"><stop offset="0" stop-color="#9c9c9c"/><stop offset="0.2" stop-color="#9c9c9c"/><stop offset="0.4" stop-color="#9a9a9a"/><stop offset="0.6" stop-color="#8c8c8c"/><stop offset="0.8" stop-color="#7e7e7e"/><stop offset="1.0" stop-color="#707070"/></linearGradient><linearGradient id="r33" x1="0" y1="0" x2="0" y2="1"><stop offset="0" stop-color="#7c7c7c"/><stop offset="0.2" stop-color="#7c7c7c"/><stop offset="0.4" stop-color="#7a7a7a"/><stop offset="0.6" stop-color="#6c6c6c"/><stop offset="0.8" stop-color="#5e5e5e"/><stop offset="1.0" stop-color="#505050"/></linearGradient><linearGradient id="r34" x1="0" y1="0" x2="0" y2="1"><stop offset="0" stop-color="#828282"/><stop offset="0.2" stop-color="#828282"/><stop offset="0.4" stop-color="#818181"/><stop offset="0.6" stop-color="#737373"/><stop offset="0.8" stop-color="#656565"/><stop offset="1.0" stop-color="#575757"/></linearGradient><linearGradient id="r35" x1="0" y1="0" x2="0" y2="1"><stop offset="0" stop-color="#8f8f8f"/><stop offset="0.2" stop-color="#8f8f8f"/><stop offset="0.4" stop-color="#8e8e8e"/><stop offset="0.6" stop-color="#808080"/><stop offset="0.8" stop-color="#727272"/><stop offset="1.0" stop-color="#646464"/></linearGradient><linearGradient id="r36" x1="0" y1="0" x2="0" y2="1"><stop offset="0" stop-color="#b2b2b2"/><stop offset="0.2" stop-color="#b2b2b2"/><stop offset="0.4" stop-color="#b1b1b1"/><stop offset="0.6" stop-color="#a3a3a3"/><stop offset="0.8" stop-color="#959595"/><stop offset="1.0" stop-color="#878787"/></linearGradient><linearGradient id="r37" x1="0" y1="0" x2="0" y2="1"><stop offset="0" stop-color="#aeaeae"/><stop offset="0.2" stop-color="#aeaeae"/><stop offset="0.4" stop-color="#aeaeae"/><stop offset="0.6" stop-color="#a0a0a0"/><stop offset="0.8" stop-color="#929292"/><stop offset="1.0" stop-color="#848484"/></linearGradient><linearGradient id="r38" x1="0" y1="0" x2="0" y2="1"><stop offset="0" stop-color="#a8a8a8"/><stop offset="0.2" stop-color="#a8a8a8"/><stop offset="0.4" stop-color="#a8a8a8"/><stop offset="0.6" stop-color="#9a9a9a"/><stop offset="0.8" stop-color="#8c8c8c"/><stop offset="1.0" stop-color="#7e7e7e"/></linearGradient><linearGradient id="r39" x1="0" y1="0" x2="0" y2="1"><stop offset="0" stop-color="#969696"/><stop offset="0.2" stop-color="#969696"/><stop offset="0.4" stop-color="#969696"/><stop offset="0.6" stop-color="#888888"/><stop offset="0.8" stop-color="#7a7a7a"/><stop offset="1.0" stop-color="#6c6c6c"/></linearGradient><linearGradient id="r40" x1="0" y1="0" x2="0" y2="1"><stop offset="0" stop-color="#b7b7b7"/><stop offset="0.2" stop-color="#b2b2b2"/><stop offset="0.4" stop-color="#aeaeae"/><stop offset="0.6" stop-color="#9c9c9c"/><stop offset="0.8" stop-color="#787878"/><stop offset="1.0" stop-color="#1e1e1e"/></linearGradient><linearGradient id="r41" x1="0" y1="0" x2="0" y2="1"><stop offset="0" stop-color="#bcbcbc"/><stop offset="0.2" stop-color="#b8b8b8"/><stop offset="0.4" stop-color="#b3b3b3"/><stop offset="0.6" stop-color="#a2a2a2"/><stop offset="0.8" stop-color="#8f8f8f"/><stop offset="1.0" stop-color="#7d7d7d"/></linearGradient><linearGradient id="r42" x1="0" y1="0" x2="0" y2="1"><stop offset="0" stop-color="#b3b3b3"/><stop offset="0.2" stop-color="#aeaeae"/><stop offset="0.4" stop-color="#aaaaaa"/><stop offset="0.6" stop-color="#999999"/><stop offset="0.8" stop-color="#868686"/><stop offset="1.0" stop-color="#747474"/></linearGradient><linearGradient id="r43" x1="0" y1="0" x2="0" y2="1"><stop offset="0" stop-color="#b9b9b9"/><stop offset="0.2" stop-color="#b4b4b4"/><stop offset="0.4" stop-color="#afafaf"/><stop offset="0.6" stop-color="#9f9f9f"/><stop offset="0.8" stop-color="#8c8c8c"/><stop offset="1.0" stop-color="#7a7a7a"/></linearGradient><linearGradient id="r44" x1="0" y1="0" x2="0" y2="1"><stop offset="0" stop-color="#bcbcbc"/><stop offset="0.2" stop-color="#b8b8b8"/><stop offset="0.4" stop-color="#b3b3b3"/><stop offset="0.6" stop-color="#a3a3a3"/><stop offset="0.8" stop-color="#919191"/><stop offset="1.0" stop-color="#7e7e7e"/></linearGradient><linearGradient id="r45" x1="0" y1="0" x2="0" y2="1"><stop offset="0" stop-color="#b5b5b5"/><stop offset="0.2" stop-color="#b0b0b0"/><stop offset="0.4" stop-color="#acacac"/><stop offset="0.6" stop-color="#9c9c9c"/><stop offset="0.8" stop-color="#8a8a8a"/><stop offset="1.0" stop-color="#777777"/></linearGradient><linearGradient id="r46" x1="0" y1="0" x2="0" y2="1"><stop offset="0" stop-color="#bfbfbf"/><stop offset="0.2" stop-color="#bababa"/><stop offset="0.4" stop-color="#b6b6b6"/><stop offset="0.6" stop-color="#a6a6a6"/><stop offset="0.8" stop-color="#949494"/><stop offset="1.0" stop-color="#818181"/></linearGradient><linearGradient id="r47" x1="0" y1="0" x2="0" y2="1"><stop offset="0" stop-color="#bcbcbc"/><stop offset="0.2" stop-color="#b8b8b8"/><stop offset="0.4" stop-color="#b3b3b3"/><stop offset="0.6" stop-color="#a4a4a4"/><stop offset="0.8" stop-color="#929292"/><stop offset="1.0" stop-color="#7f7f7f"/></linearGradient><linearGradient id="r48" x1="0" y1="0" x2="0" y2="1"><stop offset="0" stop-color="#bdbdbd"/><stop offset="0.2" stop-color="#b8b8b8"/><stop offset="0.4" stop-color="#b4b4b4"/><stop offset="0.6" stop-color="#a5a5a5"/><stop offset="0.8" stop-color="#939393"/><stop offset="1.0" stop-color="#808080"/></linearGradient><linearGradient id="r49" x1="0" y1="0" x2="0" y2="1"><stop offset="0" stop-color="#a7a7a7"/><stop offset="0.2" stop-color="#a3a3a3"/><stop offset="0.4" stop-color="#9e9e9e"/><stop offset="0.6" stop-color="#909090"/><stop offset="0.8" stop-color="#7e7e7e"/><stop offset="1.0" stop-color="#6b6b6b"/></linearGradient><linearGradient id="r50" x1="0" y1="0" x2="0" y2="1"><stop offset="0" stop-color="#c1c1c1"/><stop offset="0.2" stop-color="#bdbdbd"/><stop offset="0.4" stop-color="#b8b8b8"/><stop offset="0.6" stop-color="#ababab"/><stop offset="0.8" stop-color="#989898"/><stop offset="1.0" stop-color="#868686"/></linearGradient><linearGradient id="r51" x1="0" y1="0" x2="0" y2="1"><stop offset="0" stop-color="#c2c2c2"/><stop offset="0.2" stop-color="#bebebe"/><stop offset="0.4" stop-color="#b9b9b9"/><stop offset="0.6" stop-color="#acacac"/><stop offset="0.8" stop-color="#999999"/><stop offset="1.0" stop-color="#878787"/></linearGradient><linearGradient id="r52" x1="0" y1="0" x2="0" y2="1"><stop offset="0" stop-color="#c7c7c7"/><stop offset="0.2" stop-color="#c2c2c2"/><stop offset="0.4" stop-color="#bebebe"/><stop offset="0.6" stop-color="#b1b1b1"/><stop offset="0.8" stop-color="#9e9e9e"/><stop offset="1.0" stop-color="#8c8c8c"/></linearGradient><linearGradient id="r53" x1="0" y1="0" x2="0" y2="1"><stop offset="0" stop-color="#d6d6d6"/><stop offset="0.2" stop-color="#d1d1d1"/><stop offset="0.4" stop-color="#cdcdcd"/><stop offset="0.6" stop-color="#c0c0c0"/><stop offset="0.8" stop-color="#aeaeae"/><stop offset="1.0" stop-color="#9c9c9c"/></linearGradient><linearGradient id="r54" x1="0" y1="0" x2="0" y2="1"><stop offset="0" stop-color="#c1c1c1"/><stop offset="0.2" stop-color="#bdbdbd"/><stop offset="0.4" stop-color="#b8b8b8"/><stop offset="0.6" stop-color="#acacac"/><stop offset="0.8" stop-color="#9a9a9a"/><stop offset="1.0" stop-color="#888888"/></linearGradient><linearGradient id="r55" x1="0" y1="0" x2="0" y2="1"><stop offset="0" stop-color="#acacac"/><stop offset="0.2" stop-color="#a7a7a7"/><stop offset="0.4" stop-color="#a3a3a3"/><stop offset="0.6" stop-color="#979797"/><stop offset="0.8" stop-color="#858585"/><stop offset="1.0" stop-color="#737373"/></linearGradient><linearGradient id="r56" x1="0" y1="0" x2="0" y2="1"><stop offset="0" stop-color="#cfcfcf"/><stop offset="0.2" stop-color="#cacaca"/><stop offset="0.4" stop-color="#c5c5c5"/><stop offset="0.6" stop-color="#bababa"/><stop offset="0.8" stop-color="#a8a8a8"/><stop offset="1.0" stop-color="#969696"/></linearGradient><linearGradient id="r57" x1="0" y1="0" x2="0" y2="1"><stop offset="0" stop-color="#a6a6a6"/><stop offset="0.2" stop-color="#a1a1a1"/><stop offset="0.4" stop-color="#9d9d9d"/><stop offset="0.6" stop-color="#929292"/><stop offset="0.8" stop-color="#7f7f7f"/><stop offset="1.0" stop-color="#6d6d6d"/></linearGradient><linearGradient id="r58" x1="0" y1="0" x2="0" y2="1"><stop offset="0" stop-color="#a8a8a8"/><stop offset="0.2" stop-color="#a3a3a3"/><stop offset="0.4" stop-color="#9f9f9f"/><stop offset="0.6" stop-color="#949494"/><stop offset="0.8" stop-color="#828282"/><stop offset="1.0" stop-color="#707070"/></linearGradient><linearGradient id="r59" x1="0" y1="0" x2="0" y2="1"><stop offset="0" stop-color="#bebebe"/><stop offset="0.2" stop-color="#bababa"/><stop offset="0.4" stop-color="#b5b5b5"/><stop offset="0.6" stop-color="#ababab"/><stop offset="0.8" stop-color="#999999"/><stop offset="1.0" stop-color="#878787"/></linearGradient><linearGradient id="r60" x1="0" y1="0" x2="0" y2="1"><stop offset="0" stop-color="#c1c1c1"/><stop offset="0.2" stop-color="#bcbcbc"/><stop offset="0.4" stop-color="#b7b7b7"/><stop offset="0.6" stop-color="#aeaeae"/><stop offset="0.8" stop-color="#9c9c9c"/><stop offset="1.0" stop-color="#898989"/></linearGradient><linearGradient id="r61" x1="0" y1="0" x2="0" y2="1"><stop offset="0" stop-color="#bebebe"/><stop offset="0.2" stop-color="#b9b9b9"/><stop offset="0.4" stop-color="#b5b5b5"/><stop offset="0.6" stop-color="#acacac"/><stop offset="0.8" stop-color="#999999"/><stop offset="1.0" stop-color="#878787"/></linearGradient><linearGradient id="r62" x1="0" y1="0" x2="0" y2="1"><stop offset="0" stop-color="#ababab"/><stop offset="0.2" stop-color="#a7a7a7"/><stop offset="0.4" stop-color="#a2a2a2"/><stop offset="0.6" stop-color="#999999"/><stop offset="0.8" stop-color="#878787"/><stop offset="1.0" stop-color="#757575"/></linearGradient><linearGradient id="r63" x1="0" y1="0" x2="0" y2="1"><stop offset="0" stop-color="#bdbdbd"/><stop offset="0.2" stop-color="#b9b9b9"/><stop offset="0.4" stop-color="#b4b4b4"/><stop offset="0.6" stop-color="#acacac"/><stop offset="0.8" stop-color="#999999"/><stop offset="1.0" stop-color="#878787"/></linearGradient><linearGradient id="r64" x1="0" y1="0" x2="0" y2="1"><stop offset="0" stop-color="#b7b7b7"/><stop offset="0.2" stop-color="#b3b3b3"/><stop offset="0.4" stop-color="#aeaeae"/><stop offset="0.6" stop-color="#a6a6a6"/><stop offset="0.8" stop-color="#949494"/><stop offset="1.0" stop-color="#828282"/></linearGradient><linearGradient id="r65" x1="0" y1="0" x2="0" y2="1"><stop offset="0" stop-color="#aaaaaa"/><stop offset="0.2" stop-color="#a5a5a5"/><stop offset="0.4" stop-color="#a1a1a1"/><stop offset="0.6" stop-color="#999999"/><stop offset="0.8" stop-color="#878787"/><stop offset="1.0" stop-color="#757575"/></linearGradient><linearGradient id="r66" x1="0" y1="0" x2="0" y2="1"><stop offset="0" stop-color="#c7c7c7"/><stop offset="0.2" stop-color="#c2c2c2"/><stop offset="0.4" stop-color="#bebebe"/><stop offset="0.6" stop-color="#b6b6b6"/><stop offset="0.8" stop-color="#a4a4a4"/><stop offset="1.0" stop-color="#929292"/></linearGradient><linearGradient id="r67" x1="0" y1="0" x2="0" y2="1"><stop offset="0" stop-color="#aeaeae"/><stop offset="0.2" stop-color="#aaaaaa"/><stop offset="0.4" stop-color="#a5a5a5"/><stop offset="0.6" stop-color="#9e9e9e"/><stop offset="0.8" stop-color="#8c8c8c"/><stop offset="1.0" stop-color="#7a7a7a"/></linearGradient><linearGradient id="r68" x1="0" y1="0" x2="0" y2="1"><stop offset="0" stop-color="#b9b9b9"/><stop offset="0.2" stop-color="#b4b4b4"/><stop offset="0.4" stop-color="#b0b0b0"/><stop offset="0.6" stop-color="#a9a9a9"/><stop offset="0.8" stop-color="#979797"/><stop offset="1.0" stop-color="#858585"/></linearGradient><linearGradient id="r69" x1="0" y1="0" x2="0" y2="1"><stop offset="0" stop-color="#c0c0c0"/><stop offset="0.2" stop-color="#bcbcbc"/><stop offset="0.4" stop-color="#b7b7b7"/><stop offset="0.6" stop-color="#b1b1b1"/><stop offset="0.8" stop-color="#9f9f9f"/><stop offset="1.0" stop-color="#8d8d8d"/></linearGradient><linearGradient id="r70" x1="0" y1="0" x2="0" y2="1"><stop offset="0" stop-color="#bebebe"/><stop offset="0.2" stop-color="#bababa"/><stop offset="0.4" stop-color="#b5b5b5"/><stop offset="0.6" stop-color="#afafaf"/><stop offset="0.8" stop-color="#9d9d9d"/><stop offset="1.0" stop-color="#8b8b8b"/></linearGradient><linearGradient id="r71" x1="0" y1="0" x2="0" y2="1"><stop offset="0" stop-color="#c1c1c1"/><stop offset="0.2" stop-color="#bcbcbc"/><stop offset="0.4" stop-color="#b8b8b8"/><stop offset="0.6" stop-color="#b2b2b2"/><stop offset="0.8" stop-color="#a0a0a0"/><stop offset="1.0" stop-color="#8e8e8e"/></linearGradient><linearGradient id="r72" x1="0" y1="0" x2="0" y2="1"><stop offset="0" stop-color="#999999"/><stop offset="0.2" stop-color="#8f8f8f"/><stop offset="0.4" stop-color="#8b8b8b"/><stop offset="0.6" stop-color="#868686"/><stop offset="0.8" stop-color="#747474"/><stop offset="1.0" stop-color="#626262"/></linearGradient><linearGradient id="r73" x1="0" y1="0" x2="0" y2="1"><stop offset="0" stop-color="#bfbfbf"/><stop offset="0.2" stop-color="#bababa"/><stop offset="0.4" stop-color="#b6b6b6"/><stop offset="0.6" stop-color="#b1b1b1"/><stop offset="0.8" stop-color="#9f9f9f"/><stop offset="1.0" stop-color="#8d8d8d"/></linearGradient><linearGradient id="r74" x1="0" y1="0" x2="0" y2="1"><stop offset="0" stop-color="#d7d7d7"/><stop offset="0.2" stop-color="#d3d3d3"/><stop offset="0.4" stop-color="#cecece"/><stop offset="0.6" stop-color="#cacaca"/><stop offset="0.8" stop-color="#b8b8b8"/><stop offset="1.0" stop-color="#a6a6a6"/></linearGradient><linearGradient id="r75" x1="0" y1="0" x2="0" y2="1"><stop offset="0" stop-color="#b4b4b4"/><stop offset="0.2" stop-color="#afafaf"/><stop offset="0.4" stop-color="#ababab"/><stop offset="0.6" stop-color="#a6a6a6"/><stop offset="0.8" stop-color="#959595"/><stop offset="1.0" stop-color="#838383"/></linearGradient><linearGradient id="r76" x1="0" y1="0" x2="0" y2="1"><stop offset="0" stop-color="#c6c6c6"/><stop offset="0.2" stop-color="#c1c1c1"/><stop offset="0.4" stop-color="#bdbdbd"/><stop offset="0.6" stop-color="#b8b8b8"/><stop offset="0.8" stop-color="#a7a7a7"/><stop offset="1.0" stop-color="#969696"/></linearGradient><linearGradient id="r77" x1="0" y1="0" x2="0" y2="1"><stop offset="0" stop-color="#d6d6d6"/><stop offset="0.2" stop-color="#d2d2d2"/><stop offset="0.4" stop-color="#cdcdcd"/><stop offset="0.6" stop-color="#c9c9c9"/><stop offset="0.8" stop-color="#b8b8b8"/><stop offset="1.0" stop-color="#a7a7a7"/></linearGradient><linearGradient id="r78" x1="0" y1="0" x2="0" y2="1"><stop offset="0" stop-color="#b6b6b6"/><stop offset="0.2" stop-color="#b2b2b2"/><stop offset="0.4" stop-color="#adadad"/><stop offset="0.6" stop-color="#a9a9a9"/><stop offset="0.8" stop-color="#999999"/><stop offset="1.0" stop-color="#878787"/></linearGradient><linearGradient id="r79" x1="0" y1="0" x2="0" y2="1"><stop offset="0" stop-color="#cfcfcf"/><stop offset="0.2" stop-color="#cacaca"/><stop offset="0.4" stop-color="#c5c5c5"/><stop offset="0.6" stop-color="#c1c1c1"/><stop offset="0.8" stop-color="#b1b1b1"/><stop offset="1.0" stop-color="#a0a0a0"/></linearGradient><linearGradient id="r80" x1="0" y1="0" x2="0" y2="1"><stop offset="0" stop-color="#a6a6a6"/><stop offset="0.2" stop-color="#a1a1a1"/><stop offset="0.4" stop-color="#9d9d9d"/><stop offset="0.6" stop-color="#989898"/><stop offset="0.8" stop-color="#898989"/><stop offset="1.0" stop-color="#777777"/></linearGradient><linearGradient id="r81" x1="0" y1="0" x2="0" y2="1"><stop offset="0" stop-color="#a3a3a3"/><stop offset="0.2" stop-color="#9e9e9e"/><stop offset="0.4" stop-color="#999999"/><stop offset="0.6" stop-color="#959595"/><stop offset="0.8" stop-color="#868686"/><stop offset="1.0" stop-color="#757575"/></linearGradient><linearGradient id="r82" x1="0" y1="0" x2="0" y2="1"><stop offset="0" stop-color="#a3a3a3"/><stop offset="0.2" stop-color="#9e9e9e"/><stop offset="0.4" stop-color="#9a9a9a"/><stop offset="0.6" stop-color="#959595"/><stop offset="0.8" stop-color="#878787"/><stop offset="1.0" stop-color="#757575"/></linearGradient><linearGradient id="r83" x1="0" y1="0" x2="0" y2="1"><stop offset="0" stop-color="#bababa"/><stop offset="0.2" stop-color="#b6b6b6"/><stop offset="0.4" stop-color="#b1b1b1"/><stop offset="0.6" stop-color="#acacac"/><stop offset="0.8" stop-color="#9f9f9f"/><stop offset="1.0" stop-color="#8d8d8d"/></linearGradient><linearGradient id="r84" x1="0" y1="0" x2="0" y2="1"><stop offset="0" stop-color="#c2c2c2"/><stop offset="0.2" stop-color="#bdbdbd"/><stop offset="0.4" stop-color="#b9b9b9"/><stop offset="0.6" stop-color="#b4b4b4"/><stop offset="0.8" stop-color="#a7a7a7"/><stop offset="1.0" stop-color="#959595"/></linearGradient><linearGradient id="r85" x1="0" y1="0" x2="0" y2="1"><stop offset="0" stop-color="#9c9c9c"/><stop offset="0.2" stop-color="#979797"/><stop offset="0.4" stop-color="#929292"/><stop offset="0.6" stop-color="#8e8e8e"/><stop offset="0.8" stop-color="#818181"/><stop offset="1.0" stop-color="#6f6f6f"/></linearGradient><linearGradient id="r86" x1="0" y1="0" x2="0" y2="1"><stop offset="0" stop-color="#c4c4c4"/><stop offset="0.2" stop-color="#c0c0c0"/><stop offset="0.4" stop-color="#bbbbbb"/><stop offset="0.6" stop-color="#b6b6b6"/><stop offset="0.8" stop-color="#aaaaaa"/><stop offset="1.0" stop-color="#989898"/></linearGradient><linearGradient id="r87" x1="0" y1="0" x2="0" y2="1"><stop offset="0" stop-color="#adadad"/><stop offset="0.2" stop-color="#a9a9a9"/><stop offset="0.4" stop-color="#a4a4a4"/><stop offset="0.6" stop-color="#a0a0a0"/><stop offset="0.8" stop-color="#939393"/><stop offset="1.0" stop-color="#828282"/></linearGradient><linearGradient id="r88" x1="0" y1="0" x2="0" y2="1"><stop offset="0" stop-color="#cdcdcd"/><stop offset="0.2" stop-color="#c8c8c8"/><stop offset="0.4" stop-color="#c4c4c4"/><stop offset="0.6" stop-color="#bfbfbf"/><stop offset="0.8" stop-color="#b3b3b3"/><stop offset="1.0" stop-color="#a2a2a2"/></linearGradient><linearGradient id="r89" x1="0" y1="0" x2="0" y2="1"><stop offset="0" stop-color="#999999"/><stop offset="0.2" stop-color="#929292"/><stop offset="0.4" stop-color="#8d8d8d"/><stop offset="0.6" stop-color="#898989"/><stop offset="0.8" stop-color="#7d7d7d"/><stop offset="1.0" stop-color="#6c6c6c"/></linearGradient><linearGradient id="r90" x1="0" y1="0" x2="0" y2="1"><stop offset="0" stop-color="#aeaeae"/><stop offset="0.2" stop-color="#a9a9a9"/><stop offset="0.4" stop-color="#a5a5a5"/><stop offset="0.6" stop-color="#a0a0a0"/><stop offset="0.8" stop-color="#959595"/><stop offset="1.0" stop-color="#848484"/></linearGradient><linearGradient id="r91" x1="0" y1="0" x2="0" y2="1"><stop offset="0" stop-color="#d3d3d3"/><stop offset="0.2" stop-color="#cecece"/><stop offset="0.4" stop-color="#cacaca"/><stop offset="0.6" stop-color="#c6c6c6"/><stop offset="0.8" stop-color="#bbbbbb"/><stop offset="1.0" stop-color="#ababab"/></linearGradient><linearGradient id="r92" x1="0" y1="0" x2="0" y2="1"><stop offset="0" stop-color="#bdbdbd"/><stop offset="0.2" stop-color="#b9b9b9"/><stop offset="0.4" stop-color="#b5b5b5"/><stop offset="0.6" stop-color="#b0b0b0"/><stop offset="0.8" stop-color="#a6a6a6"/><stop offset="1.0" stop-color="#969696"/></linearGradient><linearGradient id="r93" x1="0" y1="0" x2="0" y2="1"><stop offset="0" stop-color="#aeaeae"/><stop offset="0.2" stop-color="#aaaaaa"/><stop offset="0.4" stop-color="#a6a6a6"/><stop offset="0.6" stop-color="#a2a2a2"/><stop offset="0.8" stop-color="#999999"/><stop offset="1.0" stop-color="#888888"/></linearGradient><linearGradient id="r94" x1="0" y1="0" x2="0" y2="1"><stop offset="0" stop-color="#cccccc"/><stop offset="0.2" stop-color="#c8c8c8"/><stop offset="0.4" stop-color="#c5c5c5"/><stop offset="0.6" stop-color="#c1c1c1"/><stop offset="0.8" stop-color="#b8b8b8"/><stop offset="1.0" stop-color="#a8a8a8"/></linearGradient><linearGradient id="r95" x1="0" y1="0" x2="0" y2="1"><stop offset="0" stop-color="#c2c2c2"/><stop offset="0.2" stop-color="#bebebe"/><stop offset="0.4" stop-color="#bababa"/><stop offset="0.6" stop-color="#b6b6b6"/><stop offset="0.8" stop-color="#aeaeae"/><stop offset="1.0" stop-color="#9e9e9e"/></linearGradient><linearGradient id="r96" x1="0" y1="0" x2="0" y2="1"><stop offset="0" stop-color="#bebebe"/><stop offset="0.2" stop-color="#bababa"/><stop offset="0.4" stop-color="#b7b7b7"/><stop offset="0.6" stop-color="#b3b3b3"/><stop offset="0.8" stop-color="#ababab"/><stop offset="1.0" stop-color="#9b9b9b"/></linearGradient><linearGradient id="r97" x1="0" y1="0" x2="0" y2="1"><stop offset="0" stop-color="#bfbfbf"/><stop offset="0.2" stop-color="#bcbcbc"/><stop offset="0.4" stop-color="#b8b8b8"/><stop offset="0.6" stop-color="#b5b5b5"/><stop offset="0.8" stop-color="#aeaeae"/><stop offset="1.0" stop-color="#9e9e9e"/></linearGradient><linearGradient id="r98" x1="0" y1="0" x2="0" y2="1"><stop offset="0" stop-color="#dddddd"/><stop offset="0.2" stop-color="#dadada"/><stop offset="0.4" stop-color="#d7d7d7"/><stop offset="0.6" stop-color="#d3d3d3"/><stop offset="0.8" stop-color="#cdcdcd"/><stop offset="1.0" stop-color="#bdbdbd"/></linearGradient><linearGradient id="r99" x1="0" y1="0" x2="0" y2="1"><stop offset="0" stop-color="#c7c7c7"/><stop offset="0.2" stop-color="#c4c4c4"/><stop offset="0.4" stop-color="#c1c1c1"/><stop offset="0.6" stop-color="#bebebe"/><stop offset="0.8" stop-color="#b8b8b8"/><stop offset="1.0" stop-color="#a8a8a8"/></linearGradient><linearGradient id="r100" x1="0" y1="0" x2="0" y2="1"><stop offset="0" stop-color="#e0e0e0"/><stop offset="0.2" stop-color="#dddddd"/><stop offset="0.4" stop-color="#dadada"/><stop offset="0.6" stop-color="#d7d7d7"/><stop offset="0.8" stop-color="#d2d2d2"/><stop offset="1.0" stop-color="#c3c3c3"/></linearGradient><linearGradient id="r101" x1="0" y1="0" x2="0" y2="1"><stop offset="0" stop-color="#b9b9b9"/><stop offset="0.2" stop-color="#b6b6b6"/><stop offset="0.4" stop-color="#b4b4b4"/><stop offset="0.6" stop-color="#b1b1b1"/><stop offset="0.8" stop-color="#acacac"/><stop offset="1.0" stop-color="#9d9d9d"/></linearGradient><linearGradient id="r102" x1="0" y1="0" x2="0" y2="1"><stop offset="0" stop-color="#dbdbdb"/><stop offset="0.2" stop-color="#d8d8d8"/><stop offset="0.4" stop-color="#d6d6d6"/><stop offset="0.6" stop-color="#d3d3d3"/><stop offset="0.8" stop-color="#cecece"/><stop offset="1.0" stop-color="#c0c0c0"/></linearGradient><linearGradient id="r103" x1="0" y1="0" x2="0" y2="1"><stop offset="0" stop-color="#c8c8c8"/><stop offset="0.2" stop-color="#c5c5c5"/><stop offset="0.4" stop-color="#c3c3c3"/><stop offset="0.6" stop-color="#c0c0c0"/><stop offset="0.8" stop-color="#bcbcbc"/><stop offset="1.0" stop-color="#adadad"/></linearGradient><linearGradient id="r104" x1="0" y1="0" x2="0" y2="1"><stop offset="0" stop-color="#adadad"/><stop offset="0.2" stop-color="#ababab"/><stop offset="0.4" stop-color="#a8a8a8"/><stop offset="0.6" stop-color="#a6a6a6"/><stop offset="0.8" stop-color="#a2a2a2"/><stop offset="1.0" stop-color="#949494"/></linearGradient><linearGradient id="r105" x1="0" y1="0" x2="0" y2="1"><stop offset="0" stop-color="#b6b6b6"/><stop offset="0.2" stop-color="#b4b4b4"/><stop offset="0.4" stop-color="#b2b2b2"/><stop offset="0.6" stop-color="#b0b0b0"/><stop offset="0.8" stop-color="#adadad"/><stop offset="1.0" stop-color="#ababab"/></linearGradient><linearGradient id="r106" x1="0" y1="0" x2="0" y2="1"><stop offset="0" stop-color="#c3c3c3"/><stop offset="0.2" stop-color="#c1c1c1"/><stop offset="0.4" stop-color="#bfbfbf"/><stop offset="0.6" stop-color="#bdbdbd"/><stop offset="0.8" stop-color="#bababa"/><stop offset="1.0" stop-color="#b8b8b8"/></linearGradient><linearGradient id="r107" x1="0" y1="0" x2="0" y2="1"><stop offset="0" stop-color="#cacaca"/><stop offset="0.2" stop-color="#c8c8c8"/><stop offset="0.4" stop-color="#c6c6c6"/><stop offset="0.6" stop-color="#c4c4c4"/><stop offset="0.8" stop-color="#c2c2c2"/><stop offset="1.0" stop-color="#c0c0c0"/></linearGradient><linearGradient id="r108" x1="0" y1="0" x2="0" y2="1"><stop offset="0" stop-color="#ababab"/><stop offset="0.2" stop-color="#a9a9a9"/><stop offset="0.4" stop-color="#a7a7a7"/><stop offset="0.6" stop-color="#a5a5a5"/><stop offset="0.8" stop-color="#a4a4a4"/><stop offset="1.0" stop-color="#a2a2a2"/></linearGradient><linearGradient id="r109" x1="0" y1="0" x2="0" y2="1"><stop offset="0" stop-color="#999999"/><stop offset="0.2" stop-color="#979797"/><stop offset="0.4" stop-color="#969696"/><stop offset="0.6" stop-color="#949494"/><stop offset="0.8" stop-color="#929292"/><stop offset="1.0" stop-color="#919191"/></linearGradient><linearGradient id="r110" x1="0" y1="0" x2="0" y2="1"><stop offset="0" stop-color="#c2c2c2"/><stop offset="0.2" stop-color="#c0c0c0"/><stop offset="0.4" stop-color="#bfbfbf"/><stop offset="0.6" stop-color="#bdbdbd"/><stop offset="0.8" stop-color="#bcbcbc"/><stop offset="1.0" stop-color="#bababa"/></linearGradient><linearGradient id="r111" x1="0" y1="0" x2="0" y2="1"><stop offset="0" stop-color="#a8a8a8"/><stop offset="0.2" stop-color="#a6a6a6"/><stop offset="0.4" stop-color="#a5a5a5"/><stop offset="0.6" stop-color="#a4a4a4"/><stop offset="0.8" stop-color="#a2a2a2"/><stop offset="1.0" stop-color="#a1a1a1"/></linearGradient><linearGradient id="r112" x1="0" y1="0" x2="0" y2="1"><stop offset="0" stop-color="#a7a7a7"/><stop offset="0.2" stop-color="#a6a6a6"/><stop offset="0.4" stop-color="#a4a4a4"/><stop offset="0.6" stop-color="#a3a3a3"/><stop offset="0.8" stop-color="#a2a2a2"/><stop offset="1.0" stop-color="#a1a1a1"/></linearGradient><linearGradient id="r113" x1="0" y1="0" x2="0" y2="1"><stop offset="0" stop-color="#a3a3a3"/><stop offset="0.2" stop-color="#a2a2a2"/><stop offset="0.4" stop-color="#a1a1a1"/><stop offset="0.6" stop-color="#a0a0a0"/><stop offset="0.8" stop-color="#9f9f9f"/><stop offset="1.0" stop-color="#9e9e9e"/></linearGradient><linearGradient id="r114" x1="0" y1="0" x2="0" y2="1"><stop offset="0" stop-color="#c2c2c2"/><stop offset="0.2" stop-color="#c1c1c1"/><stop offset="0.4" stop-color="#c0c0c0"/><stop offset="0.6" stop-color="#bfbfbf"/><stop offset="0.8" stop-color="#bebebe"/><stop offset="1.0" stop-color="#bdbdbd"/></linearGradient><linearGradient id="r115" x1="0" y1="0" x2="0" y2="1"><stop offset="0" stop-color="#bababa"/><stop offset="0.2" stop-color="#b9b9b9"/><stop offset="0.4" stop-color="#b8b8b8"/><stop offset="0.6" stop-color="#b7b7b7"/><stop offset="0.8" stop-color="#b6b6b6"/><stop offset="1.0" stop-color="#b6b6b6"/></linearGradient><linearGradient id="r116" x1="0" y1="0" x2="0" y2="1"><stop offset="0" stop-color="#d5d5d5"/><stop offset="0.2" stop-color="#d5d5d5"/><stop offset="0.4" stop-color="#d5d5d5"/><stop offset="0.6" stop-color="#d5d5d5"/><stop offset="0.8" stop-color="#d5d5d5"/><stop offset="1.0" stop-color="#d5d5d5"/></linearGradient><linearGradient id="r117" x1="0" y1="0" x2="0" y2="1"><stop offset="0" stop-color="#c6c6c6"/><stop offset="0.2" stop-color="#c6c6c6"/><stop offset="0.4" stop-color="#c6c6c6"/><stop offset="0.6" stop-color="#c6c6c6"/><stop offset="0.8" stop-color="#c6c6c6"/><stop offset="1.0" stop-color="#c6c6c6"/></linearGradient><linearGradient id="r118" x1="0" y1="0" x2="0" y2="1"><stop offset="0" stop-color="#cccccc"/><stop offset="0.2" stop-color="#cccccc"/><stop offset="0.4" stop-color="#cccccc"/><stop offset="0.6" stop-color="#cccccc"/><stop offset="0.8" stop-color="#cccccc"/><stop offset="1.0" stop-color="#cccccc"/></linearGradient><linearGradient id="r119" x1="0" y1="0" x2="0" y2="1"><stop offset="0" stop-color="#c5c5c5"/><stop offset="0.2" stop-color="#c5c5c5"/><stop offset="0.4" stop-color="#c5c5c5"/><stop offset="0.6" stop-color="#c5c5c5"/><stop offset="0.8" stop-color="#c5c5c5"/><stop offset="1.0" stop-color="#c5c5c5"/></linearGradient><linearGradient id="r120" x1="0" y1="0" x2="0" y2="1"><stop offset="0" stop-color="#d1d1d1"/><stop offset="0.2" stop-color="#d1d1d1"/><stop offset="0.4" stop-color="#d1d1d1"/><stop offset="0.6" stop-color="#d1d1d1"/><stop offset="0.8" stop-color="#d1d1d1"/><stop offset="1.0" stop-color="#d1d1d1"/></linearGradient><linearGradient id="r121" x1="0" y1="0" x2="0" y2="1"><stop offset="0" stop-color="#d6d6d6"/><stop offset="0.2" stop-color="#d6d6d6"/><stop offset="0.4" stop-color="#d6d6d6"/><stop offset="0.6" stop-color="#d6d6d6"/><stop offset="0.8" stop-color="#d6d6d6"/><stop offset="1.0" stop-color="#d6d6d6"/></linearGradient><linearGradient id="r122" x1="0" y1="0" x2="0" y2="1"><stop offset="0" stop-color="#c7c7c7"/><stop offset="0.2" stop-color="#c7c7c7"/><stop offset="0.4" stop-color="#c7c7c7"/><stop offset="0.6" stop-color="#c7c7c7"/><stop offset="0.8" stop-color="#c7c7c7"/><stop offset="1.0" stop-color="#c7c7c7"/></linearGradient><linearGradient id="r123" x1="0" y1="0" x2="0" y2="1"><stop offset="0" stop-color="#d6d6d6"/><stop offset="0.2" stop-color="#d6d6d6"/><stop offset="0.4" stop-color="#d6d6d6"/><stop offset="0.6" stop-color="#d6d6d6"/><stop offset="0.8" stop-color="#d6d6d6"/><stop offset="1.0" stop-color="#d6d6d6"/></linearGradient><linearGradient id="r124" x1="0" y1="0" x2="0" y2="1"><stop offset="0" stop-color="#d2d2d2"/><stop offset="0.2" stop-color="#d2d2d2"/><stop offset="0.4" stop-color="#d2d2d2"/><stop offset="0.6" stop-color="#d2d2d2"/><stop offset="0.8" stop-color="#d2d2d2"/><stop offset="1.0" stop-color="#d2d2d2"/></linearGradient><linearGradient id="r125" x1="0" y1="0" x2="0" y2="1"><stop offset="0" stop-color="#cbcbcb"/><stop offset="0.2" stop-color="#cbcbcb"/><stop offset="0.4" stop-color="#cbcbcb"/><stop offset="0.6" stop-color="#cbcbcb"/><stop offset="0.8" stop-color="#cbcbcb"/><stop offset="1.0" stop-color="#cbcbcb"/></linearGradient><linearGradient id="r126" x1="0" y1="0" x2="0" y2="1"><stop offset="0" stop-color="#c0c0c0"/><stop offset="0.2" stop-color="#c0c0c0"/><stop offset="0.4" stop-color="#c0c0c0"/><stop offset="0.6" stop-color="#c0c0c0"/><stop offset="0.8" stop-color="#c0c0c0"/><stop offset="1.0" stop-color="#c0c0c0"/></linearGradient><linearGradient id="r127" x1="0" y1="0" x2="0" y2="1"><stop offset="0" stop-color="#d5d5d5"/><stop offset="0.2" stop-color="#d5d5d5"/><stop offset="0.4" stop-color="#d5d5d5"/><stop offset="0.6" stop-color="#d5d5d5"/><stop offset="0.8" stop-color="#d5d5d5"/><stop offset="1.0" stop-color="#d5d5d5"/></linearGradient><linearGradient id="r128" x1="0" y1="0" x2="0" y2="1"><stop offset="0" stop-color="#cbcbcb"/><stop offset="0.2" stop-color="#cbcbcb"/><stop offset="0.4" stop-color="#cbcbcb"/><stop offset="0.6" stop-color="#cbcbcb"/><stop offset="0.8" stop-color="#cbcbcb"/><stop offset="1.0" stop-color="#cbcbcb"/></linearGradient><linearGradient id="r129" x1="0" y1="0" x2="0" y2="1"><stop offset="0" stop-color="#c8c8c8"/><stop offset="0.2" stop-color="#c8c8c8"/><stop offset="0.4" stop-color="#c8c8c8"/><stop offset="0.6" stop-color="#c8c8c8"/><stop offset="0.8" stop-color="#c8c8c8"/><stop offset="1.0" stop-color="#c8c8c8"/></linearGradient><linearGradient id="r130" x1="0" y1="0" x2="0" y2="1"><stop offset="0" stop-color="#cecece"/><stop offset="0.2" stop-color="#cecece"/><stop offset="0.4" stop-color="#cecece"/><stop offset="0.6" stop-color="#cecece"/><stop offset="0.8" stop-color="#cecece"/><stop offset="1.0" stop-color="#cecece"/></linearGradient><filter id="hmL" filterUnits="userSpaceOnUse" x="33.0" y="67.5" width="163.3" height="217.5" color-interpolation-filters="sRGB"><feTurbulence type="fractalNoise" baseFrequency="0.22 1.2" numOctaves="2" seed="3" result="n"/><feColorMatrix in="n" type="matrix" values="1 0 0 0 0  1 0 0 0 0  1 0 0 0 0  0 0 0 0 1" result="ng"/><feComponentTransfer in="ng" result="ng2"><feFuncR type="table" tableValues="0.3 0.33 0.37 0.5 0.8 1"/><feFuncG type="table" tableValues="0.3 0.33 0.37 0.5 0.8 1"/><feFuncB type="table" tableValues="0.3 0.33 0.37 0.5 0.8 1"/></feComponentTransfer><feComposite in="SourceGraphic" in2="ng2" operator="arithmetic" k1="0" k2="1" k3="0.6" k4="-0.252" result="s"/><feComponentTransfer in="s"><feFuncR type="table" tableValues="0.188 0.165 0.141 0.114 0.118 0.122 0.129 0.153 0.188 0.247 0.322 0.412 0.541 0.671 0.784 0.875 0.949 0.957 0.965 0.969 0.965 0.961 0.953 0.945 0.941 0.922 0.894 0.863 0.808 0.749 0.675 0.604 0.529"/><feFuncG type="table" tableValues="0.204 0.271 0.333 0.400 0.439 0.475 0.510 0.553 0.596 0.639 0.686 0.737 0.792 0.847 0.898 0.933 0.957 0.925 0.886 0.835 0.776 0.718 0.659 0.604 0.549 0.486 0.420 0.349 0.271 0.196 0.149 0.106 0.059"/><feFuncB type="table" tableValues="0.541 0.573 0.608 0.639 0.667 0.690 0.714 0.729 0.737 0.741 0.745 0.753 0.765 0.780 0.808 0.820 0.824 0.722 0.616 0.510 0.400 0.302 0.239 0.192 0.157 0.141 0.133 0.125 0.133 0.145 0.161 0.180 0.196"/></feComponentTransfer><feGaussianBlur stdDeviation="0.45 0.3"/></filter><filter id="hmR" filterUnits="userSpaceOnUse" x="300.0" y="67.5" width="149.0" height="217.5" color-interpolation-filters="sRGB"><feTurbulence type="fractalNoise" baseFrequency="0.35 1.1" numOctaves="2" seed="9" result="n"/><feColorMatrix in="n" type="matrix" values="1 0 0 0 0  1 0 0 0 0  1 0 0 0 0  0 0 0 0 1" result="ng"/><feComposite in="SourceGraphic" in2="ng" operator="arithmetic" k1="0" k2="1" k3="0.36" k4="-0.18" result="s"/><feComponentTransfer in="s"><feFuncR type="table" tableValues="0.188 0.165 0.141 0.114 0.118 0.122 0.129 0.153 0.188 0.247 0.322 0.412 0.541 0.671 0.784 0.875 0.949 0.957 0.965 0.969 0.965 0.961 0.953 0.945 0.941 0.922 0.894 0.863 0.808 0.749 0.675 0.604 0.529"/><feFuncG type="table" tableValues="0.204 0.271 0.333 0.400 0.439 0.475 0.510 0.553 0.596 0.639 0.686 0.737 0.792 0.847 0.898 0.933 0.957 0.925 0.886 0.835 0.776 0.718 0.659 0.604 0.549 0.486 0.420 0.349 0.271 0.196 0.149 0.106 0.059"/><feFuncB type="table" tableValues="0.541 0.573 0.608 0.639 0.667 0.690 0.714 0.729 0.737 0.741 0.745 0.753 0.765 0.780 0.808 0.820 0.824 0.722 0.616 0.510 0.400 0.302 0.239 0.192 0.157 0.141 0.133 0.125 0.133 0.145 0.161 0.180 0.196"/></feComponentTransfer><feGaussianBlur stdDeviation="0.45 0.3"/></filter><filter id="hmR1" filterUnits="userSpaceOnUse" x="199.7" y="67.5" width="100.30000000000001" height="217.5" color-interpolation-filters="sRGB"><feTurbulence type="fractalNoise" baseFrequency="0.45 1.1" numOctaves="2" seed="4" result="n"/><feColorMatrix in="n" type="matrix" values="1 0 0 0 0  1 0 0 0 0  1 0 0 0 0  0 0 0 0 1" result="ng"/><feComposite in="SourceGraphic" in2="ng" operator="arithmetic" k1="0" k2="1" k3="0.48" k4="-0.24" result="s"/><feComponentTransfer in="s"><feFuncR type="table" tableValues="0.188 0.165 0.141 0.114 0.118 0.122 0.129 0.153 0.188 0.247 0.322 0.412 0.541 0.671 0.784 0.875 0.949 0.957 0.965 0.969 0.965 0.961 0.953 0.945 0.941 0.922 0.894 0.863 0.808 0.749 0.675 0.604 0.529"/><feFuncG type="table" tableValues="0.204 0.271 0.333 0.400 0.439 0.475 0.510 0.553 0.596 0.639 0.686 0.737 0.792 0.847 0.898 0.933 0.957 0.925 0.886 0.835 0.776 0.718 0.659 0.604 0.549 0.486 0.420 0.349 0.271 0.196 0.149 0.106 0.059"/><feFuncB type="table" tableValues="0.541 0.573 0.608 0.639 0.667 0.690 0.714 0.729 0.737 0.741 0.745 0.753 0.765 0.780 0.808 0.820 0.824 0.722 0.616 0.510 0.400 0.302 0.239 0.192 0.157 0.141 0.133 0.125 0.133 0.145 0.161 0.180 0.196"/></feComponentTransfer><feGaussianBlur stdDeviation="0.45 0.3"/></filter></defs>
<g filter="url(#hmL)"><rect x="33.00" y="67.5" width="2.90" height="217.5" fill="url(#l0)"/><rect x="34.90" y="67.5" width="2.90" height="217.5" fill="url(#l1)"/><rect x="36.80" y="67.5" width="2.90" height="217.5" fill="url(#l2)"/><rect x="38.70" y="67.5" width="2.90" height="217.5" fill="url(#l3)"/><rect x="40.60" y="67.5" width="2.90" height="217.5" fill="url(#l4)"/><rect x="42.49" y="67.5" width="2.90" height="217.5" fill="url(#l5)"/><rect x="44.39" y="67.5" width="2.90" height="217.5" fill="url(#l6)"/><rect x="46.29" y="67.5" width="2.90" height="217.5" fill="url(#l7)"/><rect x="48.19" y="67.5" width="2.90" height="217.5" fill="url(#l8)"/><rect x="50.09" y="67.5" width="2.90" height="217.5" fill="url(#l9)"/><rect x="51.99" y="67.5" width="2.90" height="217.5" fill="url(#l10)"/><rect x="53.89" y="67.5" width="2.90" height="217.5" fill="url(#l11)"/><rect x="55.79" y="67.5" width="2.90" height="217.5" fill="url(#l12)"/><rect x="57.68" y="67.5" width="2.90" height="217.5" fill="url(#l13)"/><rect x="59.58" y="67.5" width="2.90" height="217.5" fill="url(#l14)"/><rect x="61.48" y="67.5" width="2.90" height="217.5" fill="url(#l15)"/><rect x="63.38" y="67.5" width="2.90" height="217.5" fill="url(#l16)"/><rect x="65.28" y="67.5" width="2.90" height="217.5" fill="url(#l17)"/><rect x="67.18" y="67.5" width="2.90" height="217.5" fill="url(#l18)"/><rect x="69.08" y="67.5" width="2.90" height="217.5" fill="url(#l19)"/><rect x="70.98" y="67.5" width="2.90" height="217.5" fill="url(#l20)"/><rect x="72.88" y="67.5" width="2.90" height="217.5" fill="url(#l21)"/><rect x="74.77" y="67.5" width="2.90" height="217.5" fill="url(#l22)"/><rect x="76.67" y="67.5" width="2.90" height="217.5" fill="url(#l23)"/><rect x="78.57" y="67.5" width="2.90" height="217.5" fill="url(#l24)"/><rect x="80.47" y="67.5" width="2.90" height="217.5" fill="url(#l25)"/><rect x="82.37" y="67.5" width="2.90" height="217.5" fill="url(#l26)"/><rect x="84.27" y="67.5" width="2.90" height="217.5" fill="url(#l27)"/><rect x="86.17" y="67.5" width="2.90" height="217.5" fill="url(#l28)"/><rect x="88.07" y="67.5" width="2.90" height="217.5" fill="url(#l29)"/><rect x="89.97" y="67.5" width="2.90" height="217.5" fill="url(#l30)"/><rect x="91.86" y="67.5" width="2.90" height="217.5" fill="url(#l31)"/><rect x="93.76" y="67.5" width="2.90" height="217.5" fill="url(#l32)"/><rect x="95.66" y="67.5" width="2.90" height="217.5" fill="url(#l33)"/><rect x="97.56" y="67.5" width="2.90" height="217.5" fill="url(#l34)"/><rect x="99.46" y="67.5" width="2.90" height="217.5" fill="url(#l35)"/><rect x="101.36" y="67.5" width="2.90" height="217.5" fill="url(#l36)"/><rect x="103.26" y="67.5" width="2.90" height="217.5" fill="url(#l37)"/><rect x="105.16" y="67.5" width="2.90" height="217.5" fill="url(#l38)"/><rect x="107.05" y="67.5" width="2.90" height="217.5" fill="url(#l39)"/><rect x="108.95" y="67.5" width="2.90" height="217.5" fill="url(#l40)"/><rect x="110.85" y="67.5" width="2.90" height="217.5" fill="url(#l41)"/><rect x="112.75" y="67.5" width="2.90" height="217.5" fill="url(#l42)"/><rect x="114.65" y="67.5" width="2.90" height="217.5" fill="url(#l43)"/><rect x="116.55" y="67.5" width="2.90" height="217.5" fill="url(#l44)"/><rect x="118.45" y="67.5" width="2.90" height="217.5" fill="url(#l45)"/><rect x="120.35" y="67.5" width="2.90" height="217.5" fill="url(#l46)"/><rect x="122.25" y="67.5" width="2.90" height="217.5" fill="url(#l47)"/><rect x="124.14" y="67.5" width="2.90" height="217.5" fill="url(#l48)"/><rect x="126.04" y="67.5" width="2.90" height="217.5" fill="url(#l49)"/><rect x="127.94" y="67.5" width="2.90" height="217.5" fill="url(#l50)"/><rect x="129.84" y="67.5" width="2.90" height="217.5" fill="url(#l51)"/><rect x="131.74" y="67.5" width="2.90" height="217.5" fill="url(#l52)"/><rect x="133.64" y="67.5" width="2.90" height="217.5" fill="url(#l53)"/><rect x="135.54" y="67.5" width="2.90" height="217.5" fill="url(#l54)"/><rect x="137.44" y="67.5" width="2.90" height="217.5" fill="url(#l55)"/><rect x="139.33" y="67.5" width="2.90" height="217.5" fill="url(#l56)"/><rect x="141.23" y="67.5" width="2.90" height="217.5" fill="url(#l57)"/><rect x="143.13" y="67.5" width="2.90" height="217.5" fill="url(#l58)"/><rect x="145.03" y="67.5" width="2.90" height="217.5" fill="url(#l59)"/><rect x="146.93" y="67.5" width="2.90" height="217.5" fill="url(#l60)"/><rect x="148.83" y="67.5" width="2.90" height="217.5" fill="url(#l61)"/><rect x="150.73" y="67.5" width="2.90" height="217.5" fill="url(#l62)"/><rect x="152.63" y="67.5" width="2.90" height="217.5" fill="url(#l63)"/><rect x="154.53" y="67.5" width="2.90" height="217.5" fill="url(#l64)"/><rect x="156.42" y="67.5" width="2.90" height="217.5" fill="url(#l65)"/><rect x="158.32" y="67.5" width="2.90" height="217.5" fill="url(#l66)"/><rect x="160.22" y="67.5" width="2.90" height="217.5" fill="url(#l67)"/><rect x="162.12" y="67.5" width="2.90" height="217.5" fill="url(#l68)"/><rect x="164.02" y="67.5" width="2.90" height="217.5" fill="url(#l69)"/><rect x="165.92" y="67.5" width="2.90" height="217.5" fill="url(#l70)"/><rect x="167.82" y="67.5" width="2.90" height="217.5" fill="url(#l71)"/><rect x="169.72" y="67.5" width="2.90" height="217.5" fill="url(#l72)"/><rect x="171.62" y="67.5" width="2.90" height="217.5" fill="url(#l73)"/><rect x="173.51" y="67.5" width="2.90" height="217.5" fill="url(#l74)"/><rect x="175.41" y="67.5" width="2.90" height="217.5" fill="url(#l75)"/><rect x="177.31" y="67.5" width="2.90" height="217.5" fill="url(#l76)"/><rect x="179.21" y="67.5" width="2.90" height="217.5" fill="url(#l77)"/><rect x="181.11" y="67.5" width="2.90" height="217.5" fill="url(#l78)"/><rect x="183.01" y="67.5" width="2.90" height="217.5" fill="url(#l79)"/><rect x="184.91" y="67.5" width="2.90" height="217.5" fill="url(#l80)"/><rect x="186.81" y="67.5" width="2.90" height="217.5" fill="url(#l81)"/><rect x="188.70" y="67.5" width="2.90" height="217.5" fill="url(#l82)"/><rect x="190.60" y="67.5" width="2.90" height="217.5" fill="url(#l83)"/><rect x="192.50" y="67.5" width="2.90" height="217.5" fill="url(#l84)"/><rect x="194.40" y="67.5" width="2.90" height="217.5" fill="url(#l85)"/><rect x="33.0" y="67.5" width="163.30" height="2" fill="#fff" fill-opacity="0.025"/><rect x="33.0" y="69.5" width="163.30" height="1" fill="#000" fill-opacity="0.062"/><rect x="33.0" y="70.5" width="163.30" height="2" fill="#000" fill-opacity="0.052"/><rect x="33.0" y="72.5" width="163.30" height="1" fill="#fff" fill-opacity="0.042"/><rect x="33.0" y="73.5" width="163.30" height="1" fill="#fff" fill-opacity="0.063"/><rect x="33.0" y="74.5" width="163.30" height="1" fill="#fff" fill-opacity="0.029"/><rect x="33.0" y="75.5" width="163.30" height="1" fill="#000" fill-opacity="0.092"/><rect x="33.0" y="76.5" width="163.30" height="1" fill="#000" fill-opacity="0.111"/><rect x="33.0" y="77.5" width="163.30" height="1" fill="#fff" fill-opacity="0.049"/><rect x="33.0" y="79.5" width="163.30" height="1" fill="#fff" fill-opacity="0.050"/><rect x="33.0" y="81.5" width="163.30" height="1" fill="#fff" fill-opacity="0.062"/><rect x="33.0" y="82.5" width="163.30" height="1" fill="#fff" fill-opacity="0.047"/><rect x="33.0" y="83.5" width="163.30" height="2" fill="#000" fill-opacity="0.030"/><rect x="33.0" y="85.5" width="163.30" height="2" fill="#fff" fill-opacity="0.057"/><rect x="33.0" y="87.5" width="163.30" height="1" fill="#000" fill-opacity="0.109"/><rect x="33.0" y="88.5" width="163.30" height="1" fill="#000" fill-opacity="0.012"/><rect x="33.0" y="91.5" width="163.30" height="1" fill="#000" fill-opacity="0.081"/><rect x="33.0" y="92.5" width="163.30" height="1" fill="#000" fill-opacity="0.065"/><rect x="33.0" y="93.5" width="163.30" height="1" fill="#fff" fill-opacity="0.053"/><rect x="33.0" y="94.5" width="163.30" height="1" fill="#fff" fill-opacity="0.065"/><rect x="33.0" y="95.5" width="163.30" height="1" fill="#000" fill-opacity="0.033"/><rect x="33.0" y="96.5" width="163.30" height="2" fill="#fff" fill-opacity="0.064"/><rect x="33.0" y="98.5" width="163.30" height="1" fill="#fff" fill-opacity="0.015"/><rect x="33.0" y="99.5" width="163.30" height="1" fill="#000" fill-opacity="0.014"/><rect x="33.0" y="100.5" width="163.30" height="1" fill="#fff" fill-opacity="0.026"/><rect x="33.0" y="104.5" width="163.30" height="2" fill="#000" fill-opacity="0.120"/><rect x="33.0" y="106.5" width="163.30" height="1" fill="#000" fill-opacity="0.054"/><rect x="33.0" y="107.5" width="163.30" height="1" fill="#000" fill-opacity="0.046"/><rect x="33.0" y="108.5" width="163.30" height="1" fill="#000" fill-opacity="0.071"/><rect x="33.0" y="109.5" width="163.30" height="2" fill="#fff" fill-opacity="0.022"/><rect x="33.0" y="111.5" width="163.30" height="1" fill="#000" fill-opacity="0.038"/><rect x="33.0" y="112.5" width="163.30" height="1" fill="#000" fill-opacity="0.117"/><rect x="33.0" y="113.5" width="163.30" height="1" fill="#fff" fill-opacity="0.017"/><rect x="33.0" y="114.5" width="163.30" height="1" fill="#000" fill-opacity="0.028"/><rect x="33.0" y="115.5" width="163.30" height="2" fill="#000" fill-opacity="0.022"/><rect x="33.0" y="118.5" width="163.30" height="2" fill="#fff" fill-opacity="0.080"/><rect x="33.0" y="120.5" width="163.30" height="1" fill="#fff" fill-opacity="0.040"/><rect x="33.0" y="121.5" width="163.30" height="1" fill="#fff" fill-opacity="0.080"/><rect x="33.0" y="122.5" width="163.30" height="1" fill="#000" fill-opacity="0.032"/><rect x="33.0" y="124.5" width="163.30" height="2" fill="#fff" fill-opacity="0.033"/><rect x="33.0" y="127.5" width="163.30" height="2" fill="#000" fill-opacity="0.027"/><rect x="33.0" y="129.5" width="163.30" height="1" fill="#fff" fill-opacity="0.113"/><rect x="33.0" y="131.5" width="163.30" height="2" fill="#fff" fill-opacity="0.061"/><rect x="33.0" y="135.5" width="163.30" height="1" fill="#000" fill-opacity="0.016"/><rect x="33.0" y="136.5" width="163.30" height="1" fill="#fff" fill-opacity="0.021"/><rect x="33.0" y="137.5" width="163.30" height="1" fill="#000" fill-opacity="0.035"/><rect x="33.0" y="138.5" width="163.30" height="1" fill="#fff" fill-opacity="0.057"/><rect x="33.0" y="139.5" width="163.30" height="2" fill="#000" fill-opacity="0.041"/><rect x="33.0" y="141.5" width="163.30" height="1" fill="#fff" fill-opacity="0.073"/><rect x="33.0" y="142.5" width="163.30" height="1" fill="#fff" fill-opacity="0.105"/><rect x="33.0" y="145.5" width="163.30" height="1" fill="#fff" fill-opacity="0.017"/><rect x="33.0" y="147.5" width="163.30" height="1" fill="#000" fill-opacity="0.111"/><rect x="33.0" y="148.5" width="163.30" height="2" fill="#fff" fill-opacity="0.080"/><rect x="33.0" y="150.5" width="163.30" height="2" fill="#fff" fill-opacity="0.109"/><rect x="33.0" y="152.5" width="163.30" height="1" fill="#fff" fill-opacity="0.017"/><rect x="33.0" y="153.5" width="163.30" height="1" fill="#fff" fill-opacity="0.011"/><rect x="33.0" y="154.5" width="163.30" height="2" fill="#fff" fill-opacity="0.038"/><rect x="33.0" y="156.5" width="163.30" height="1" fill="#000" fill-opacity="0.029"/><rect x="33.0" y="158.5" width="163.30" height="1" fill="#000" fill-opacity="0.024"/><rect x="33.0" y="160.5" width="163.30" height="1" fill="#fff" fill-opacity="0.030"/><rect x="33.0" y="161.5" width="163.30" height="1" fill="#fff" fill-opacity="0.062"/><rect x="33.0" y="163.5" width="163.30" height="1" fill="#fff" fill-opacity="0.091"/><rect x="33.0" y="164.5" width="163.30" height="1" fill="#fff" fill-opacity="0.025"/><rect x="33.0" y="166.5" width="163.30" height="1" fill="#fff" fill-opacity="0.038"/><rect x="33.0" y="167.5" width="163.30" height="1" fill="#000" fill-opacity="0.040"/><rect x="33.0" y="170.5" width="163.30" height="1" fill="#000" fill-opacity="0.014"/><rect x="33.0" y="171.5" width="163.30" height="1" fill="#fff" fill-opacity="0.107"/><rect x="33.0" y="172.5" width="163.30" height="1" fill="#fff" fill-opacity="0.097"/><rect x="33.0" y="176.5" width="163.30" height="2" fill="#fff" fill-opacity="0.065"/><rect x="33.0" y="178.5" width="163.30" height="2" fill="#000" fill-opacity="0.120"/><rect x="33.0" y="180.5" width="163.30" height="1" fill="#000" fill-opacity="0.036"/><rect x="33.0" y="181.5" width="163.30" height="1" fill="#fff" fill-opacity="0.055"/><rect x="33.0" y="183.5" width="163.30" height="2" fill="#fff" fill-opacity="0.120"/><rect x="33.0" y="185.5" width="163.30" height="1" fill="#000" fill-opacity="0.011"/><rect x="33.0" y="186.5" width="163.30" height="1" fill="#fff" fill-opacity="0.089"/><rect x="33.0" y="187.5" width="163.30" height="1" fill="#fff" fill-opacity="0.042"/><rect x="33.0" y="188.5" width="163.30" height="2" fill="#fff" fill-opacity="0.013"/><rect x="33.0" y="190.5" width="163.30" height="2" fill="#fff" fill-opacity="0.022"/><rect x="33.0" y="192.5" width="163.30" height="1" fill="#000" fill-opacity="0.075"/><rect x="33.0" y="193.5" width="163.30" height="1" fill="#000" fill-opacity="0.054"/><rect x="33.0" y="194.5" width="163.30" height="2" fill="#fff" fill-opacity="0.019"/><rect x="33.0" y="196.5" width="163.30" height="1" fill="#fff" fill-opacity="0.044"/><rect x="33.0" y="197.5" width="163.30" height="1" fill="#000" fill-opacity="0.035"/><rect x="33.0" y="198.5" width="163.30" height="1" fill="#fff" fill-opacity="0.040"/><rect x="33.0" y="199.5" width="163.30" height="1" fill="#fff" fill-opacity="0.120"/><rect x="33.0" y="200.5" width="163.30" height="1" fill="#fff" fill-opacity="0.027"/><rect x="33.0" y="201.5" width="163.30" height="1" fill="#fff" fill-opacity="0.022"/><rect x="33.0" y="202.5" width="163.30" height="1" fill="#fff" fill-opacity="0.049"/><rect x="33.0" y="203.5" width="163.30" height="2" fill="#000" fill-opacity="0.016"/><rect x="33.0" y="205.5" width="163.30" height="1" fill="#fff" fill-opacity="0.086"/><rect x="33.0" y="206.5" width="163.30" height="1" fill="#fff" fill-opacity="0.093"/><rect x="33.0" y="207.5" width="163.30" height="1" fill="#fff" fill-opacity="0.060"/><rect x="33.0" y="208.5" width="163.30" height="2" fill="#000" fill-opacity="0.051"/><rect x="33.0" y="210.5" width="163.30" height="1" fill="#000" fill-opacity="0.031"/><rect x="33.0" y="211.5" width="163.30" height="1" fill="#000" fill-opacity="0.017"/><rect x="33.0" y="212.5" width="163.30" height="1" fill="#000" fill-opacity="0.018"/><rect x="33.0" y="215.5" width="163.30" height="2" fill="#000" fill-opacity="0.095"/><rect x="33.0" y="217.5" width="163.30" height="1" fill="#000" fill-opacity="0.018"/><rect x="33.0" y="218.5" width="163.30" height="1" fill="#fff" fill-opacity="0.081"/><rect x="33.0" y="219.5" width="163.30" height="1" fill="#fff" fill-opacity="0.043"/><rect x="33.0" y="220.5" width="163.30" height="2" fill="#000" fill-opacity="0.085"/><rect x="33.0" y="222.5" width="163.30" height="1" fill="#fff" fill-opacity="0.085"/><rect x="33.0" y="223.5" width="163.30" height="1" fill="#000" fill-opacity="0.054"/><rect x="33.0" y="224.5" width="163.30" height="1" fill="#fff" fill-opacity="0.015"/><rect x="33.0" y="226.5" width="163.30" height="1" fill="#000" fill-opacity="0.047"/><rect x="33.0" y="227.5" width="163.30" height="1" fill="#fff" fill-opacity="0.046"/><rect x="33.0" y="228.5" width="163.30" height="1" fill="#000" fill-opacity="0.064"/><rect x="33.0" y="229.5" width="163.30" height="2" fill="#000" fill-opacity="0.065"/><rect x="33.0" y="231.5" width="163.30" height="1" fill="#fff" fill-opacity="0.107"/><rect x="33.0" y="234.5" width="163.30" height="1" fill="#000" fill-opacity="0.068"/><rect x="33.0" y="236.5" width="163.30" height="1" fill="#fff" fill-opacity="0.100"/><rect x="33.0" y="237.5" width="163.30" height="2" fill="#000" fill-opacity="0.059"/><rect x="33.0" y="242.5" width="163.30" height="1" fill="#000" fill-opacity="0.083"/><rect x="33.0" y="243.5" width="163.30" height="1" fill="#000" fill-opacity="0.044"/><rect x="33.0" y="244.5" width="163.30" height="1" fill="#000" fill-opacity="0.032"/><rect x="33.0" y="245.5" width="163.30" height="1" fill="#fff" fill-opacity="0.021"/><rect x="33.0" y="247.5" width="163.30" height="1" fill="#000" fill-opacity="0.032"/><rect x="33.0" y="248.5" width="163.30" height="1" fill="#000" fill-opacity="0.084"/><rect x="33.0" y="249.5" width="163.30" height="1" fill="#000" fill-opacity="0.066"/><rect x="33.0" y="250.5" width="163.30" height="1" fill="#fff" fill-opacity="0.015"/><rect x="33.0" y="252.5" width="163.30" height="2" fill="#fff" fill-opacity="0.024"/><rect x="33.0" y="255.5" width="163.30" height="2" fill="#fff" fill-opacity="0.023"/><rect x="33.0" y="257.5" width="163.30" height="1" fill="#000" fill-opacity="0.101"/><rect x="33.0" y="258.5" width="163.30" height="1" fill="#fff" fill-opacity="0.087"/><rect x="33.0" y="259.5" width="163.30" height="1" fill="#000" fill-opacity="0.029"/><rect x="33.0" y="260.5" width="163.30" height="1" fill="#000" fill-opacity="0.016"/><rect x="33.0" y="261.5" width="163.30" height="1" fill="#fff" fill-opacity="0.075"/><rect x="33.0" y="262.5" width="163.30" height="1" fill="#fff" fill-opacity="0.082"/><rect x="33.0" y="263.5" width="163.30" height="1" fill="#000" fill-opacity="0.013"/><rect x="33.0" y="264.5" width="163.30" height="2" fill="#000" fill-opacity="0.042"/><rect x="33.0" y="270.5" width="163.30" height="2" fill="#000" fill-opacity="0.080"/><rect x="33.0" y="272.5" width="163.30" height="2" fill="#fff" fill-opacity="0.054"/><rect x="33.0" y="274.5" width="163.30" height="1" fill="#000" fill-opacity="0.022"/><rect x="33.0" y="275.5" width="163.30" height="1" fill="#fff" fill-opacity="0.021"/><rect x="33.0" y="276.5" width="163.30" height="1" fill="#000" fill-opacity="0.025"/><rect x="33.0" y="277.5" width="163.30" height="2" fill="#fff" fill-opacity="0.049"/><rect x="33.0" y="279.5" width="163.30" height="1" fill="#fff" fill-opacity="0.037"/><rect x="33.0" y="280.5" width="163.30" height="1" fill="#000" fill-opacity="0.015"/><rect x="33.0" y="282.5" width="163.30" height="2" fill="#fff" fill-opacity="0.022"/><rect x="33.0" y="284.5" width="163.30" height="1" fill="#000" fill-opacity="0.041"/></g>
<g filter="url(#hmR1)"><rect x="199.70" y="67.5" width="2.90" height="217.5" fill="url(#r0)"/><rect x="201.60" y="67.5" width="2.90" height="217.5" fill="url(#r1)"/><rect x="203.51" y="67.5" width="2.90" height="217.5" fill="url(#r2)"/><rect x="205.41" y="67.5" width="2.90" height="217.5" fill="url(#r3)"/><rect x="207.31" y="67.5" width="2.90" height="217.5" fill="url(#r4)"/><rect x="209.22" y="67.5" width="2.90" height="217.5" fill="url(#r5)"/><rect x="211.12" y="67.5" width="2.90" height="217.5" fill="url(#r6)"/><rect x="213.02" y="67.5" width="2.90" height="217.5" fill="url(#r7)"/><rect x="214.92" y="67.5" width="2.90" height="217.5" fill="url(#r8)"/><rect x="216.83" y="67.5" width="2.90" height="217.5" fill="url(#r9)"/><rect x="218.73" y="67.5" width="2.90" height="217.5" fill="url(#r10)"/><rect x="220.63" y="67.5" width="2.90" height="217.5" fill="url(#r11)"/><rect x="222.54" y="67.5" width="2.90" height="217.5" fill="url(#r12)"/><rect x="224.44" y="67.5" width="2.90" height="217.5" fill="url(#r13)"/><rect x="226.34" y="67.5" width="2.90" height="217.5" fill="url(#r14)"/><rect x="228.25" y="67.5" width="2.90" height="217.5" fill="url(#r15)"/><rect x="230.15" y="67.5" width="2.90" height="217.5" fill="url(#r16)"/><rect x="232.05" y="67.5" width="2.90" height="217.5" fill="url(#r17)"/><rect x="233.95" y="67.5" width="2.90" height="217.5" fill="url(#r18)"/><rect x="235.86" y="67.5" width="2.90" height="217.5" fill="url(#r19)"/><rect x="237.76" y="67.5" width="2.90" height="217.5" fill="url(#r20)"/><rect x="239.66" y="67.5" width="2.90" height="217.5" fill="url(#r21)"/><rect x="241.57" y="67.5" width="2.90" height="217.5" fill="url(#r22)"/><rect x="243.47" y="67.5" width="2.90" height="217.5" fill="url(#r23)"/><rect x="245.37" y="67.5" width="2.90" height="217.5" fill="url(#r24)"/><rect x="247.28" y="67.5" width="2.90" height="217.5" fill="url(#r25)"/><rect x="249.18" y="67.5" width="2.90" height="217.5" fill="url(#r26)"/><rect x="251.08" y="67.5" width="2.90" height="217.5" fill="url(#r27)"/><rect x="252.99" y="67.5" width="2.90" height="217.5" fill="url(#r28)"/><rect x="254.89" y="67.5" width="2.90" height="217.5" fill="url(#r29)"/><rect x="256.79" y="67.5" width="2.90" height="217.5" fill="url(#r30)"/><rect x="258.69" y="67.5" width="2.90" height="217.5" fill="url(#r31)"/><rect x="260.60" y="67.5" width="2.90" height="217.5" fill="url(#r32)"/><rect x="262.50" y="67.5" width="2.90" height="217.5" fill="url(#r33)"/><rect x="264.40" y="67.5" width="2.90" height="217.5" fill="url(#r34)"/><rect x="266.31" y="67.5" width="2.90" height="217.5" fill="url(#r35)"/><rect x="268.21" y="67.5" width="2.90" height="217.5" fill="url(#r36)"/><rect x="270.11" y="67.5" width="2.90" height="217.5" fill="url(#r37)"/><rect x="272.02" y="67.5" width="2.90" height="217.5" fill="url(#r38)"/><rect x="273.92" y="67.5" width="2.90" height="217.5" fill="url(#r39)"/><rect x="275.82" y="67.5" width="2.90" height="217.5" fill="url(#r40)"/><rect x="277.73" y="67.5" width="2.90" height="217.5" fill="url(#r41)"/><rect x="279.63" y="67.5" width="2.90" height="217.5" fill="url(#r42)"/><rect x="281.53" y="67.5" width="2.90" height="217.5" fill="url(#r43)"/><rect x="283.43" y="67.5" width="2.90" height="217.5" fill="url(#r44)"/><rect x="285.34" y="67.5" width="2.90" height="217.5" fill="url(#r45)"/><rect x="287.24" y="67.5" width="2.90" height="217.5" fill="url(#r46)"/><rect x="289.14" y="67.5" width="2.90" height="217.5" fill="url(#r47)"/><rect x="291.05" y="67.5" width="2.90" height="217.5" fill="url(#r48)"/><rect x="292.95" y="67.5" width="2.90" height="217.5" fill="url(#r49)"/><rect x="294.85" y="67.5" width="2.90" height="217.5" fill="url(#r50)"/><rect x="296.76" y="67.5" width="2.90" height="217.5" fill="url(#r51)"/><rect x="298.66" y="67.5" width="2.90" height="217.5" fill="url(#r52)"/><rect x="300.56" y="67.5" width="2.90" height="217.5" fill="url(#r53)"/><rect x="302.46" y="67.5" width="2.90" height="217.5" fill="url(#r54)"/><rect x="304.37" y="67.5" width="2.90" height="217.5" fill="url(#r55)"/><rect x="306.27" y="67.5" width="2.90" height="217.5" fill="url(#r56)"/><rect x="308.17" y="67.5" width="2.90" height="217.5" fill="url(#r57)"/><rect x="310.08" y="67.5" width="2.90" height="217.5" fill="url(#r58)"/><rect x="311.98" y="67.5" width="2.90" height="217.5" fill="url(#r59)"/><rect x="313.88" y="67.5" width="2.90" height="217.5" fill="url(#r60)"/><rect x="315.79" y="67.5" width="2.90" height="217.5" fill="url(#r61)"/><rect x="317.69" y="67.5" width="2.90" height="217.5" fill="url(#r62)"/><rect x="319.59" y="67.5" width="2.90" height="217.5" fill="url(#r63)"/><rect x="321.50" y="67.5" width="2.90" height="217.5" fill="url(#r64)"/><rect x="323.40" y="67.5" width="2.90" height="217.5" fill="url(#r65)"/><rect x="325.30" y="67.5" width="2.90" height="217.5" fill="url(#r66)"/><rect x="327.20" y="67.5" width="2.90" height="217.5" fill="url(#r67)"/><rect x="329.11" y="67.5" width="2.90" height="217.5" fill="url(#r68)"/><rect x="331.01" y="67.5" width="2.90" height="217.5" fill="url(#r69)"/><rect x="332.91" y="67.5" width="2.90" height="217.5" fill="url(#r70)"/><rect x="334.82" y="67.5" width="2.90" height="217.5" fill="url(#r71)"/><rect x="336.72" y="67.5" width="2.90" height="217.5" fill="url(#r72)"/><rect x="338.62" y="67.5" width="2.90" height="217.5" fill="url(#r73)"/><rect x="340.53" y="67.5" width="2.90" height="217.5" fill="url(#r74)"/><rect x="342.43" y="67.5" width="2.90" height="217.5" fill="url(#r75)"/><rect x="344.33" y="67.5" width="2.90" height="217.5" fill="url(#r76)"/><rect x="346.24" y="67.5" width="2.90" height="217.5" fill="url(#r77)"/><rect x="348.14" y="67.5" width="2.90" height="217.5" fill="url(#r78)"/><rect x="350.04" y="67.5" width="2.90" height="217.5" fill="url(#r79)"/><rect x="351.94" y="67.5" width="2.90" height="217.5" fill="url(#r80)"/><rect x="353.85" y="67.5" width="2.90" height="217.5" fill="url(#r81)"/><rect x="355.75" y="67.5" width="2.90" height="217.5" fill="url(#r82)"/><rect x="357.65" y="67.5" width="2.90" height="217.5" fill="url(#r83)"/><rect x="359.56" y="67.5" width="2.90" height="217.5" fill="url(#r84)"/><rect x="361.46" y="67.5" width="2.90" height="217.5" fill="url(#r85)"/><rect x="363.36" y="67.5" width="2.90" height="217.5" fill="url(#r86)"/><rect x="365.27" y="67.5" width="2.90" height="217.5" fill="url(#r87)"/><rect x="367.17" y="67.5" width="2.90" height="217.5" fill="url(#r88)"/><rect x="369.07" y="67.5" width="2.90" height="217.5" fill="url(#r89)"/><rect x="370.97" y="67.5" width="2.90" height="217.5" fill="url(#r90)"/><rect x="372.88" y="67.5" width="2.90" height="217.5" fill="url(#r91)"/><rect x="374.78" y="67.5" width="2.90" height="217.5" fill="url(#r92)"/><rect x="376.68" y="67.5" width="2.90" height="217.5" fill="url(#r93)"/><rect x="378.59" y="67.5" width="2.90" height="217.5" fill="url(#r94)"/><rect x="380.49" y="67.5" width="2.90" height="217.5" fill="url(#r95)"/><rect x="382.39" y="67.5" width="2.90" height="217.5" fill="url(#r96)"/><rect x="384.30" y="67.5" width="2.90" height="217.5" fill="url(#r97)"/><rect x="386.20" y="67.5" width="2.90" height="217.5" fill="url(#r98)"/><rect x="388.10" y="67.5" width="2.90" height="217.5" fill="url(#r99)"/><rect x="390.01" y="67.5" width="2.90" height="217.5" fill="url(#r100)"/><rect x="391.91" y="67.5" width="2.90" height="217.5" fill="url(#r101)"/><rect x="393.81" y="67.5" width="2.90" height="217.5" fill="url(#r102)"/><rect x="395.71" y="67.5" width="2.90" height="217.5" fill="url(#r103)"/><rect x="397.62" y="67.5" width="2.90" height="217.5" fill="url(#r104)"/><rect x="399.52" y="67.5" width="2.90" height="217.5" fill="url(#r105)"/><rect x="401.42" y="67.5" width="2.90" height="217.5" fill="url(#r106)"/><rect x="403.33" y="67.5" width="2.90" height="217.5" fill="url(#r107)"/><rect x="405.23" y="67.5" width="2.90" height="217.5" fill="url(#r108)"/><rect x="407.13" y="67.5" width="2.90" height="217.5" fill="url(#r109)"/><rect x="409.04" y="67.5" width="2.90" height="217.5" fill="url(#r110)"/><rect x="410.94" y="67.5" width="2.90" height="217.5" fill="url(#r111)"/><rect x="412.84" y="67.5" width="2.90" height="217.5" fill="url(#r112)"/><rect x="414.75" y="67.5" width="2.90" height="217.5" fill="url(#r113)"/><rect x="416.65" y="67.5" width="2.90" height="217.5" fill="url(#r114)"/><rect x="418.55" y="67.5" width="2.90" height="217.5" fill="url(#r115)"/><rect x="420.45" y="67.5" width="2.90" height="217.5" fill="url(#r116)"/><rect x="422.36" y="67.5" width="2.90" height="217.5" fill="url(#r117)"/><rect x="424.26" y="67.5" width="2.90" height="217.5" fill="url(#r118)"/><rect x="426.16" y="67.5" width="2.90" height="217.5" fill="url(#r119)"/><rect x="428.07" y="67.5" width="2.90" height="217.5" fill="url(#r120)"/><rect x="429.97" y="67.5" width="2.90" height="217.5" fill="url(#r121)"/><rect x="431.87" y="67.5" width="2.90" height="217.5" fill="url(#r122)"/><rect x="433.78" y="67.5" width="2.90" height="217.5" fill="url(#r123)"/><rect x="435.68" y="67.5" width="2.90" height="217.5" fill="url(#r124)"/><rect x="437.58" y="67.5" width="2.90" height="217.5" fill="url(#r125)"/><rect x="439.48" y="67.5" width="2.90" height="217.5" fill="url(#r126)"/><rect x="441.39" y="67.5" width="2.90" height="217.5" fill="url(#r127)"/><rect x="443.29" y="67.5" width="2.90" height="217.5" fill="url(#r128)"/><rect x="445.19" y="67.5" width="2.90" height="217.5" fill="url(#r129)"/><rect x="447.10" y="67.5" width="2.90" height="217.5" fill="url(#r130)"/><rect x="199.7" y="67.5" width="249.30" height="1" fill="#fff" fill-opacity="0.049"/><rect x="199.7" y="69.5" width="249.30" height="1" fill="#fff" fill-opacity="0.019"/><rect x="199.7" y="71.5" width="249.30" height="1" fill="#fff" fill-opacity="0.047"/><rect x="199.7" y="72.5" width="249.30" height="1" fill="#fff" fill-opacity="0.015"/><rect x="199.7" y="73.5" width="249.30" height="2" fill="#000" fill-opacity="0.104"/><rect x="199.7" y="75.5" width="249.30" height="1" fill="#fff" fill-opacity="0.032"/><rect x="199.7" y="76.5" width="249.30" height="1" fill="#000" fill-opacity="0.078"/><rect x="199.7" y="77.5" width="249.30" height="1" fill="#fff" fill-opacity="0.093"/><rect x="199.7" y="78.5" width="249.30" height="2" fill="#fff" fill-opacity="0.030"/><rect x="199.7" y="80.5" width="249.30" height="1" fill="#000" fill-opacity="0.030"/><rect x="199.7" y="81.5" width="249.30" height="1" fill="#000" fill-opacity="0.039"/><rect x="199.7" y="82.5" width="249.30" height="1" fill="#fff" fill-opacity="0.030"/><rect x="199.7" y="83.5" width="249.30" height="1" fill="#fff" fill-opacity="0.055"/><rect x="199.7" y="85.5" width="249.30" height="1" fill="#fff" fill-opacity="0.098"/><rect x="199.7" y="86.5" width="249.30" height="2" fill="#000" fill-opacity="0.028"/><rect x="199.7" y="88.5" width="249.30" height="2" fill="#000" fill-opacity="0.042"/><rect x="199.7" y="90.5" width="249.30" height="1" fill="#fff" fill-opacity="0.018"/><rect x="199.7" y="91.5" width="249.30" height="1" fill="#fff" fill-opacity="0.031"/><rect x="199.7" y="92.5" width="249.30" height="2" fill="#000" fill-opacity="0.063"/><rect x="199.7" y="94.5" width="249.30" height="1" fill="#000" fill-opacity="0.021"/><rect x="199.7" y="95.5" width="249.30" height="2" fill="#000" fill-opacity="0.068"/><rect x="199.7" y="97.5" width="249.30" height="1" fill="#fff" fill-opacity="0.033"/><rect x="199.7" y="98.5" width="249.30" height="1" fill="#fff" fill-opacity="0.035"/><rect x="199.7" y="99.5" width="249.30" height="1" fill="#fff" fill-opacity="0.068"/><rect x="199.7" y="100.5" width="249.30" height="1" fill="#000" fill-opacity="0.074"/><rect x="199.7" y="101.5" width="249.30" height="1" fill="#fff" fill-opacity="0.080"/><rect x="199.7" y="103.5" width="249.30" height="2" fill="#000" fill-opacity="0.062"/><rect x="199.7" y="105.5" width="249.30" height="1" fill="#000" fill-opacity="0.039"/><rect x="199.7" y="106.5" width="249.30" height="1" fill="#fff" fill-opacity="0.038"/><rect x="199.7" y="107.5" width="249.30" height="2" fill="#000" fill-opacity="0.027"/><rect x="199.7" y="109.5" width="249.30" height="1" fill="#fff" fill-opacity="0.120"/><rect x="199.7" y="110.5" width="249.30" height="1" fill="#fff" fill-opacity="0.107"/><rect x="199.7" y="111.5" width="249.30" height="2" fill="#fff" fill-opacity="0.070"/><rect x="199.7" y="113.5" width="249.30" height="2" fill="#000" fill-opacity="0.039"/><rect x="199.7" y="115.5" width="249.30" height="1" fill="#000" fill-opacity="0.051"/><rect x="199.7" y="116.5" width="249.30" height="1" fill="#fff" fill-opacity="0.044"/><rect x="199.7" y="117.5" width="249.30" height="2" fill="#fff" fill-opacity="0.045"/><rect x="199.7" y="119.5" width="249.30" height="2" fill="#fff" fill-opacity="0.060"/><rect x="199.7" y="125.5" width="249.30" height="1" fill="#fff" fill-opacity="0.029"/><rect x="199.7" y="126.5" width="249.30" height="1" fill="#000" fill-opacity="0.090"/><rect x="199.7" y="127.5" width="249.30" height="2" fill="#000" fill-opacity="0.013"/><rect x="199.7" y="129.5" width="249.30" height="1" fill="#000" fill-opacity="0.016"/><rect x="199.7" y="131.5" width="249.30" height="1" fill="#000" fill-opacity="0.015"/><rect x="199.7" y="133.5" width="249.30" height="1" fill="#000" fill-opacity="0.052"/><rect x="199.7" y="134.5" width="249.30" height="2" fill="#000" fill-opacity="0.052"/><rect x="199.7" y="136.5" width="249.30" height="1" fill="#fff" fill-opacity="0.041"/><rect x="199.7" y="137.5" width="249.30" height="1" fill="#fff" fill-opacity="0.030"/><rect x="199.7" y="140.5" width="249.30" height="1" fill="#fff" fill-opacity="0.106"/><rect x="199.7" y="141.5" width="249.30" height="1" fill="#000" fill-opacity="0.120"/><rect x="199.7" y="142.5" width="249.30" height="1" fill="#000" fill-opacity="0.047"/><rect x="199.7" y="143.5" width="249.30" height="1" fill="#000" fill-opacity="0.077"/><rect x="199.7" y="144.5" width="249.30" height="2" fill="#000" fill-opacity="0.098"/><rect x="199.7" y="146.5" width="249.30" height="1" fill="#000" fill-opacity="0.014"/><rect x="199.7" y="149.5" width="249.30" height="1" fill="#fff" fill-opacity="0.037"/><rect x="199.7" y="150.5" width="249.30" height="2" fill="#fff" fill-opacity="0.013"/><rect x="199.7" y="153.5" width="249.30" height="1" fill="#fff" fill-opacity="0.089"/><rect x="199.7" y="154.5" width="249.30" height="1" fill="#000" fill-opacity="0.092"/><rect x="199.7" y="157.5" width="249.30" height="1" fill="#000" fill-opacity="0.016"/><rect x="199.7" y="158.5" width="249.30" height="1" fill="#000" fill-opacity="0.036"/><rect x="199.7" y="159.5" width="249.30" height="1" fill="#fff" fill-opacity="0.044"/><rect x="199.7" y="160.5" width="249.30" height="1" fill="#fff" fill-opacity="0.120"/><rect x="199.7" y="162.5" width="249.30" height="1" fill="#fff" fill-opacity="0.042"/><rect x="199.7" y="163.5" width="249.30" height="1" fill="#fff" fill-opacity="0.067"/><rect x="199.7" y="164.5" width="249.30" height="1" fill="#000" fill-opacity="0.021"/><rect x="199.7" y="165.5" width="249.30" height="1" fill="#000" fill-opacity="0.120"/><rect x="199.7" y="166.5" width="249.30" height="1" fill="#fff" fill-opacity="0.012"/><rect x="199.7" y="167.5" width="249.30" height="1" fill="#fff" fill-opacity="0.018"/><rect x="199.7" y="169.5" width="249.30" height="1" fill="#000" fill-opacity="0.081"/><rect x="199.7" y="170.5" width="249.30" height="1" fill="#fff" fill-opacity="0.048"/><rect x="199.7" y="171.5" width="249.30" height="2" fill="#000" fill-opacity="0.090"/><rect x="199.7" y="173.5" width="249.30" height="1" fill="#fff" fill-opacity="0.029"/><rect x="199.7" y="174.5" width="249.30" height="1" fill="#fff" fill-opacity="0.120"/><rect x="199.7" y="176.5" width="249.30" height="1" fill="#fff" fill-opacity="0.055"/><rect x="199.7" y="177.5" width="249.30" height="2" fill="#fff" fill-opacity="0.120"/><rect x="199.7" y="179.5" width="249.30" height="1" fill="#000" fill-opacity="0.037"/><rect x="199.7" y="180.5" width="249.30" height="1" fill="#fff" fill-opacity="0.089"/><rect x="199.7" y="181.5" width="249.30" height="1" fill="#000" fill-opacity="0.027"/><rect x="199.7" y="182.5" width="249.30" height="1" fill="#fff" fill-opacity="0.010"/><rect x="199.7" y="183.5" width="249.30" height="1" fill="#fff" fill-opacity="0.055"/><rect x="199.7" y="184.5" width="249.30" height="1" fill="#fff" fill-opacity="0.030"/><rect x="199.7" y="185.5" width="249.30" height="1" fill="#000" fill-opacity="0.075"/><rect x="199.7" y="186.5" width="249.30" height="1" fill="#fff" fill-opacity="0.070"/><rect x="199.7" y="187.5" width="249.30" height="2" fill="#fff" fill-opacity="0.080"/><rect x="199.7" y="189.5" width="249.30" height="1" fill="#fff" fill-opacity="0.049"/><rect x="199.7" y="190.5" width="249.30" height="1" fill="#000" fill-opacity="0.063"/><rect x="199.7" y="191.5" width="249.30" height="1" fill="#000" fill-opacity="0.017"/><rect x="199.7" y="193.5" width="249.30" height="2" fill="#000" fill-opacity="0.068"/><rect x="199.7" y="195.5" width="249.30" height="1" fill="#fff" fill-opacity="0.039"/><rect x="199.7" y="196.5" width="249.30" height="1" fill="#000" fill-opacity="0.095"/><rect x="199.7" y="197.5" width="249.30" height="2" fill="#fff" fill-opacity="0.021"/><rect x="199.7" y="201.5" width="249.30" height="1" fill="#fff" fill-opacity="0.020"/><rect x="199.7" y="202.5" width="249.30" height="1" fill="#000" fill-opacity="0.021"/><rect x="199.7" y="203.5" width="249.30" height="1" fill="#fff" fill-opacity="0.120"/><rect x="199.7" y="205.5" width="249.30" height="1" fill="#000" fill-opacity="0.092"/><rect x="199.7" y="206.5" width="249.30" height="1" fill="#fff" fill-opacity="0.101"/><rect x="199.7" y="208.5" width="249.30" height="1" fill="#fff" fill-opacity="0.013"/><rect x="199.7" y="209.5" width="249.30" height="2" fill="#000" fill-opacity="0.025"/><rect x="199.7" y="211.5" width="249.30" height="2" fill="#fff" fill-opacity="0.033"/><rect x="199.7" y="213.5" width="249.30" height="2" fill="#000" fill-opacity="0.120"/><rect x="199.7" y="215.5" width="249.30" height="1" fill="#fff" fill-opacity="0.034"/><rect x="199.7" y="216.5" width="249.30" height="1" fill="#000" fill-opacity="0.017"/><rect x="199.7" y="217.5" width="249.30" height="1" fill="#000" fill-opacity="0.042"/><rect x="199.7" y="218.5" width="249.30" height="1" fill="#000" fill-opacity="0.033"/><rect x="199.7" y="219.5" width="249.30" height="2" fill="#000" fill-opacity="0.068"/><rect x="199.7" y="221.5" width="249.30" height="1" fill="#fff" fill-opacity="0.080"/><rect x="199.7" y="222.5" width="249.30" height="1" fill="#000" fill-opacity="0.028"/><rect x="199.7" y="223.5" width="249.30" height="2" fill="#fff" fill-opacity="0.022"/><rect x="199.7" y="225.5" width="249.30" height="1" fill="#000" fill-opacity="0.041"/><rect x="199.7" y="226.5" width="249.30" height="1" fill="#000" fill-opacity="0.056"/><rect x="199.7" y="227.5" width="249.30" height="1" fill="#fff" fill-opacity="0.120"/><rect x="199.7" y="228.5" width="249.30" height="1" fill="#000" fill-opacity="0.015"/><rect x="199.7" y="229.5" width="249.30" height="1" fill="#000" fill-opacity="0.029"/><rect x="199.7" y="230.5" width="249.30" height="2" fill="#000" fill-opacity="0.029"/><rect x="199.7" y="232.5" width="249.30" height="2" fill="#fff" fill-opacity="0.120"/><rect x="199.7" y="234.5" width="249.30" height="1" fill="#000" fill-opacity="0.012"/><rect x="199.7" y="235.5" width="249.30" height="1" fill="#fff" fill-opacity="0.045"/><rect x="199.7" y="236.5" width="249.30" height="1" fill="#fff" fill-opacity="0.049"/><rect x="199.7" y="238.5" width="249.30" height="1" fill="#000" fill-opacity="0.049"/><rect x="199.7" y="239.5" width="249.30" height="1" fill="#000" fill-opacity="0.069"/><rect x="199.7" y="240.5" width="249.30" height="1" fill="#fff" fill-opacity="0.070"/><rect x="199.7" y="243.5" width="249.30" height="1" fill="#fff" fill-opacity="0.045"/><rect x="199.7" y="244.5" width="249.30" height="1" fill="#fff" fill-opacity="0.059"/><rect x="199.7" y="245.5" width="249.30" height="1" fill="#000" fill-opacity="0.052"/><rect x="199.7" y="246.5" width="249.30" height="1" fill="#000" fill-opacity="0.120"/><rect x="199.7" y="247.5" width="249.30" height="1" fill="#fff" fill-opacity="0.114"/><rect x="199.7" y="248.5" width="249.30" height="1" fill="#000" fill-opacity="0.105"/><rect x="199.7" y="249.5" width="249.30" height="1" fill="#000" fill-opacity="0.120"/><rect x="199.7" y="250.5" width="249.30" height="1" fill="#000" fill-opacity="0.110"/><rect x="199.7" y="251.5" width="249.30" height="2" fill="#fff" fill-opacity="0.018"/><rect x="199.7" y="253.5" width="249.30" height="1" fill="#fff" fill-opacity="0.048"/><rect x="199.7" y="254.5" width="249.30" height="1" fill="#fff" fill-opacity="0.013"/><rect x="199.7" y="255.5" width="249.30" height="1" fill="#fff" fill-opacity="0.060"/><rect x="199.7" y="256.5" width="249.30" height="1" fill="#fff" fill-opacity="0.120"/><rect x="199.7" y="257.5" width="249.30" height="1" fill="#000" fill-opacity="0.084"/><rect x="199.7" y="258.5" width="249.30" height="2" fill="#fff" fill-opacity="0.087"/><rect x="199.7" y="260.5" width="249.30" height="1" fill="#fff" fill-opacity="0.014"/><rect x="199.7" y="261.5" width="249.30" height="1" fill="#000" fill-opacity="0.088"/><rect x="199.7" y="262.5" width="249.30" height="1" fill="#000" fill-opacity="0.061"/><rect x="199.7" y="263.5" width="249.30" height="1" fill="#000" fill-opacity="0.072"/><rect x="199.7" y="264.5" width="249.30" height="1" fill="#fff" fill-opacity="0.053"/><rect x="199.7" y="265.5" width="249.30" height="1" fill="#fff" fill-opacity="0.013"/><rect x="199.7" y="266.5" width="249.30" height="1" fill="#fff" fill-opacity="0.017"/><rect x="199.7" y="268.5" width="249.30" height="1" fill="#fff" fill-opacity="0.026"/><rect x="199.7" y="269.5" width="249.30" height="1" fill="#000" fill-opacity="0.056"/><rect x="199.7" y="270.5" width="249.30" height="1" fill="#000" fill-opacity="0.018"/><rect x="199.7" y="271.5" width="249.30" height="1" fill="#000" fill-opacity="0.017"/><rect x="199.7" y="272.5" width="249.30" height="2" fill="#000" fill-opacity="0.021"/><rect x="199.7" y="275.5" width="249.30" height="2" fill="#000" fill-opacity="0.018"/><rect x="199.7" y="277.5" width="249.30" height="1" fill="#000" fill-opacity="0.030"/><rect x="199.7" y="278.5" width="249.30" height="1" fill="#000" fill-opacity="0.038"/><rect x="199.7" y="279.5" width="249.30" height="1" fill="#fff" fill-opacity="0.029"/><rect x="199.7" y="280.5" width="249.30" height="1" fill="#000" fill-opacity="0.017"/><rect x="199.7" y="282.5" width="249.30" height="2" fill="#000" fill-opacity="0.104"/><rect x="199.7" y="284.5" width="249.30" height="1" fill="#fff" fill-opacity="0.060"/></g>
<g filter="url(#hmR)"><rect x="199.70" y="67.5" width="2.90" height="217.5" fill="url(#r0)"/><rect x="201.60" y="67.5" width="2.90" height="217.5" fill="url(#r1)"/><rect x="203.51" y="67.5" width="2.90" height="217.5" fill="url(#r2)"/><rect x="205.41" y="67.5" width="2.90" height="217.5" fill="url(#r3)"/><rect x="207.31" y="67.5" width="2.90" height="217.5" fill="url(#r4)"/><rect x="209.22" y="67.5" width="2.90" height="217.5" fill="url(#r5)"/><rect x="211.12" y="67.5" width="2.90" height="217.5" fill="url(#r6)"/><rect x="213.02" y="67.5" width="2.90" height="217.5" fill="url(#r7)"/><rect x="214.92" y="67.5" width="2.90" height="217.5" fill="url(#r8)"/><rect x="216.83" y="67.5" width="2.90" height="217.5" fill="url(#r9)"/><rect x="218.73" y="67.5" width="2.90" height="217.5" fill="url(#r10)"/><rect x="220.63" y="67.5" width="2.90" height="217.5" fill="url(#r11)"/><rect x="222.54" y="67.5" width="2.90" height="217.5" fill="url(#r12)"/><rect x="224.44" y="67.5" width="2.90" height="217.5" fill="url(#r13)"/><rect x="226.34" y="67.5" width="2.90" height="217.5" fill="url(#r14)"/><rect x="228.25" y="67.5" width="2.90" height="217.5" fill="url(#r15)"/><rect x="230.15" y="67.5" width="2.90" height="217.5" fill="url(#r16)"/><rect x="232.05" y="67.5" width="2.90" height="217.5" fill="url(#r17)"/><rect x="233.95" y="67.5" width="2.90" height="217.5" fill="url(#r18)"/><rect x="235.86" y="67.5" width="2.90" height="217.5" fill="url(#r19)"/><rect x="237.76" y="67.5" width="2.90" height="217.5" fill="url(#r20)"/><rect x="239.66" y="67.5" width="2.90" height="217.5" fill="url(#r21)"/><rect x="241.57" y="67.5" width="2.90" height="217.5" fill="url(#r22)"/><rect x="243.47" y="67.5" width="2.90" height="217.5" fill="url(#r23)"/><rect x="245.37" y="67.5" width="2.90" height="217.5" fill="url(#r24)"/><rect x="247.28" y="67.5" width="2.90" height="217.5" fill="url(#r25)"/><rect x="249.18" y="67.5" width="2.90" height="217.5" fill="url(#r26)"/><rect x="251.08" y="67.5" width="2.90" height="217.5" fill="url(#r27)"/><rect x="252.99" y="67.5" width="2.90" height="217.5" fill="url(#r28)"/><rect x="254.89" y="67.5" width="2.90" height="217.5" fill="url(#r29)"/><rect x="256.79" y="67.5" width="2.90" height="217.5" fill="url(#r30)"/><rect x="258.69" y="67.5" width="2.90" height="217.5" fill="url(#r31)"/><rect x="260.60" y="67.5" width="2.90" height="217.5" fill="url(#r32)"/><rect x="262.50" y="67.5" width="2.90" height="217.5" fill="url(#r33)"/><rect x="264.40" y="67.5" width="2.90" height="217.5" fill="url(#r34)"/><rect x="266.31" y="67.5" width="2.90" height="217.5" fill="url(#r35)"/><rect x="268.21" y="67.5" width="2.90" height="217.5" fill="url(#r36)"/><rect x="270.11" y="67.5" width="2.90" height="217.5" fill="url(#r37)"/><rect x="272.02" y="67.5" width="2.90" height="217.5" fill="url(#r38)"/><rect x="273.92" y="67.5" width="2.90" height="217.5" fill="url(#r39)"/><rect x="275.82" y="67.5" width="2.90" height="217.5" fill="url(#r40)"/><rect x="277.73" y="67.5" width="2.90" height="217.5" fill="url(#r41)"/><rect x="279.63" y="67.5" width="2.90" height="217.5" fill="url(#r42)"/><rect x="281.53" y="67.5" width="2.90" height="217.5" fill="url(#r43)"/><rect x="283.43" y="67.5" width="2.90" height="217.5" fill="url(#r44)"/><rect x="285.34" y="67.5" width="2.90" height="217.5" fill="url(#r45)"/><rect x="287.24" y="67.5" width="2.90" height="217.5" fill="url(#r46)"/><rect x="289.14" y="67.5" width="2.90" height="217.5" fill="url(#r47)"/><rect x="291.05" y="67.5" width="2.90" height="217.5" fill="url(#r48)"/><rect x="292.95" y="67.5" width="2.90" height="217.5" fill="url(#r49)"/><rect x="294.85" y="67.5" width="2.90" height="217.5" fill="url(#r50)"/><rect x="296.76" y="67.5" width="2.90" height="217.5" fill="url(#r51)"/><rect x="298.66" y="67.5" width="2.90" height="217.5" fill="url(#r52)"/><rect x="300.56" y="67.5" width="2.90" height="217.5" fill="url(#r53)"/><rect x="302.46" y="67.5" width="2.90" height="217.5" fill="url(#r54)"/><rect x="304.37" y="67.5" width="2.90" height="217.5" fill="url(#r55)"/><rect x="306.27" y="67.5" width="2.90" height="217.5" fill="url(#r56)"/><rect x="308.17" y="67.5" width="2.90" height="217.5" fill="url(#r57)"/><rect x="310.08" y="67.5" width="2.90" height="217.5" fill="url(#r58)"/><rect x="311.98" y="67.5" width="2.90" height="217.5" fill="url(#r59)"/><rect x="313.88" y="67.5" width="2.90" height="217.5" fill="url(#r60)"/><rect x="315.79" y="67.5" width="2.90" height="217.5" fill="url(#r61)"/><rect x="317.69" y="67.5" width="2.90" height="217.5" fill="url(#r62)"/><rect x="319.59" y="67.5" width="2.90" height="217.5" fill="url(#r63)"/><rect x="321.50" y="67.5" width="2.90" height="217.5" fill="url(#r64)"/><rect x="323.40" y="67.5" width="2.90" height="217.5" fill="url(#r65)"/><rect x="325.30" y="67.5" width="2.90" height="217.5" fill="url(#r66)"/><rect x="327.20" y="67.5" width="2.90" height="217.5" fill="url(#r67)"/><rect x="329.11" y="67.5" width="2.90" height="217.5" fill="url(#r68)"/><rect x="331.01" y="67.5" width="2.90" height="217.5" fill="url(#r69)"/><rect x="332.91" y="67.5" width="2.90" height="217.5" fill="url(#r70)"/><rect x="334.82" y="67.5" width="2.90" height="217.5" fill="url(#r71)"/><rect x="336.72" y="67.5" width="2.90" height="217.5" fill="url(#r72)"/><rect x="338.62" y="67.5" width="2.90" height="217.5" fill="url(#r73)"/><rect x="340.53" y="67.5" width="2.90" height="217.5" fill="url(#r74)"/><rect x="342.43" y="67.5" width="2.90" height="217.5" fill="url(#r75)"/><rect x="344.33" y="67.5" width="2.90" height="217.5" fill="url(#r76)"/><rect x="346.24" y="67.5" width="2.90" height="217.5" fill="url(#r77)"/><rect x="348.14" y="67.5" width="2.90" height="217.5" fill="url(#r78)"/><rect x="350.04" y="67.5" width="2.90" height="217.5" fill="url(#r79)"/><rect x="351.94" y="67.5" width="2.90" height="217.5" fill="url(#r80)"/><rect x="353.85" y="67.5" width="2.90" height="217.5" fill="url(#r81)"/><rect x="355.75" y="67.5" width="2.90" height="217.5" fill="url(#r82)"/><rect x="357.65" y="67.5" width="2.90" height="217.5" fill="url(#r83)"/><rect x="359.56" y="67.5" width="2.90" height="217.5" fill="url(#r84)"/><rect x="361.46" y="67.5" width="2.90" height="217.5" fill="url(#r85)"/><rect x="363.36" y="67.5" width="2.90" height="217.5" fill="url(#r86)"/><rect x="365.27" y="67.5" width="2.90" height="217.5" fill="url(#r87)"/><rect x="367.17" y="67.5" width="2.90" height="217.5" fill="url(#r88)"/><rect x="369.07" y="67.5" width="2.90" height="217.5" fill="url(#r89)"/><rect x="370.97" y="67.5" width="2.90" height="217.5" fill="url(#r90)"/><rect x="372.88" y="67.5" width="2.90" height="217.5" fill="url(#r91)"/><rect x="374.78" y="67.5" width="2.90" height="217.5" fill="url(#r92)"/><rect x="376.68" y="67.5" width="2.90" height="217.5" fill="url(#r93)"/><rect x="378.59" y="67.5" width="2.90" height="217.5" fill="url(#r94)"/><rect x="380.49" y="67.5" width="2.90" height="217.5" fill="url(#r95)"/><rect x="382.39" y="67.5" width="2.90" height="217.5" fill="url(#r96)"/><rect x="384.30" y="67.5" width="2.90" height="217.5" fill="url(#r97)"/><rect x="386.20" y="67.5" width="2.90" height="217.5" fill="url(#r98)"/><rect x="388.10" y="67.5" width="2.90" height="217.5" fill="url(#r99)"/><rect x="390.01" y="67.5" width="2.90" height="217.5" fill="url(#r100)"/><rect x="391.91" y="67.5" width="2.90" height="217.5" fill="url(#r101)"/><rect x="393.81" y="67.5" width="2.90" height="217.5" fill="url(#r102)"/><rect x="395.71" y="67.5" width="2.90" height="217.5" fill="url(#r103)"/><rect x="397.62" y="67.5" width="2.90" height="217.5" fill="url(#r104)"/><rect x="399.52" y="67.5" width="2.90" height="217.5" fill="url(#r105)"/><rect x="401.42" y="67.5" width="2.90" height="217.5" fill="url(#r106)"/><rect x="403.33" y="67.5" width="2.90" height="217.5" fill="url(#r107)"/><rect x="405.23" y="67.5" width="2.90" height="217.5" fill="url(#r108)"/><rect x="407.13" y="67.5" width="2.90" height="217.5" fill="url(#r109)"/><rect x="409.04" y="67.5" width="2.90" height="217.5" fill="url(#r110)"/><rect x="410.94" y="67.5" width="2.90" height="217.5" fill="url(#r111)"/><rect x="412.84" y="67.5" width="2.90" height="217.5" fill="url(#r112)"/><rect x="414.75" y="67.5" width="2.90" height="217.5" fill="url(#r113)"/><rect x="416.65" y="67.5" width="2.90" height="217.5" fill="url(#r114)"/><rect x="418.55" y="67.5" width="2.90" height="217.5" fill="url(#r115)"/><rect x="420.45" y="67.5" width="2.90" height="217.5" fill="url(#r116)"/><rect x="422.36" y="67.5" width="2.90" height="217.5" fill="url(#r117)"/><rect x="424.26" y="67.5" width="2.90" height="217.5" fill="url(#r118)"/><rect x="426.16" y="67.5" width="2.90" height="217.5" fill="url(#r119)"/><rect x="428.07" y="67.5" width="2.90" height="217.5" fill="url(#r120)"/><rect x="429.97" y="67.5" width="2.90" height="217.5" fill="url(#r121)"/><rect x="431.87" y="67.5" width="2.90" height="217.5" fill="url(#r122)"/><rect x="433.78" y="67.5" width="2.90" height="217.5" fill="url(#r123)"/><rect x="435.68" y="67.5" width="2.90" height="217.5" fill="url(#r124)"/><rect x="437.58" y="67.5" width="2.90" height="217.5" fill="url(#r125)"/><rect x="439.48" y="67.5" width="2.90" height="217.5" fill="url(#r126)"/><rect x="441.39" y="67.5" width="2.90" height="217.5" fill="url(#r127)"/><rect x="443.29" y="67.5" width="2.90" height="217.5" fill="url(#r128)"/><rect x="445.19" y="67.5" width="2.90" height="217.5" fill="url(#r129)"/><rect x="447.10" y="67.5" width="2.90" height="217.5" fill="url(#r130)"/><rect x="199.7" y="67.5" width="249.30" height="1" fill="#fff" fill-opacity="0.049"/><rect x="199.7" y="69.5" width="249.30" height="1" fill="#fff" fill-opacity="0.019"/><rect x="199.7" y="71.5" width="249.30" height="1" fill="#fff" fill-opacity="0.047"/><rect x="199.7" y="72.5" width="249.30" height="1" fill="#fff" fill-opacity="0.015"/><rect x="199.7" y="73.5" width="249.30" height="2" fill="#000" fill-opacity="0.104"/><rect x="199.7" y="75.5" width="249.30" height="1" fill="#fff" fill-opacity="0.032"/><rect x="199.7" y="76.5" width="249.30" height="1" fill="#000" fill-opacity="0.078"/><rect x="199.7" y="77.5" width="249.30" height="1" fill="#fff" fill-opacity="0.093"/><rect x="199.7" y="78.5" width="249.30" height="2" fill="#fff" fill-opacity="0.030"/><rect x="199.7" y="80.5" width="249.30" height="1" fill="#000" fill-opacity="0.030"/><rect x="199.7" y="81.5" width="249.30" height="1" fill="#000" fill-opacity="0.039"/><rect x="199.7" y="82.5" width="249.30" height="1" fill="#fff" fill-opacity="0.030"/><rect x="199.7" y="83.5" width="249.30" height="1" fill="#fff" fill-opacity="0.055"/><rect x="199.7" y="85.5" width="249.30" height="1" fill="#fff" fill-opacity="0.098"/><rect x="199.7" y="86.5" width="249.30" height="2" fill="#000" fill-opacity="0.028"/><rect x="199.7" y="88.5" width="249.30" height="2" fill="#000" fill-opacity="0.042"/><rect x="199.7" y="90.5" width="249.30" height="1" fill="#fff" fill-opacity="0.018"/><rect x="199.7" y="91.5" width="249.30" height="1" fill="#fff" fill-opacity="0.031"/><rect x="199.7" y="92.5" width="249.30" height="2" fill="#000" fill-opacity="0.063"/><rect x="199.7" y="94.5" width="249.30" height="1" fill="#000" fill-opacity="0.021"/><rect x="199.7" y="95.5" width="249.30" height="2" fill="#000" fill-opacity="0.068"/><rect x="199.7" y="97.5" width="249.30" height="1" fill="#fff" fill-opacity="0.033"/><rect x="199.7" y="98.5" width="249.30" height="1" fill="#fff" fill-opacity="0.035"/><rect x="199.7" y="99.5" width="249.30" height="1" fill="#fff" fill-opacity="0.068"/><rect x="199.7" y="100.5" width="249.30" height="1" fill="#000" fill-opacity="0.074"/><rect x="199.7" y="101.5" width="249.30" height="1" fill="#fff" fill-opacity="0.080"/><rect x="199.7" y="103.5" width="249.30" height="2" fill="#000" fill-opacity="0.062"/><rect x="199.7" y="105.5" width="249.30" height="1" fill="#000" fill-opacity="0.039"/><rect x="199.7" y="106.5" width="249.30" height="1" fill="#fff" fill-opacity="0.038"/><rect x="199.7" y="107.5" width="249.30" height="2" fill="#000" fill-opacity="0.027"/><rect x="199.7" y="109.5" width="249.30" height="1" fill="#fff" fill-opacity="0.120"/><rect x="199.7" y="110.5" width="249.30" height="1" fill="#fff" fill-opacity="0.107"/><rect x="199.7" y="111.5" width="249.30" height="2" fill="#fff" fill-opacity="0.070"/><rect x="199.7" y="113.5" width="249.30" height="2" fill="#000" fill-opacity="0.039"/><rect x="199.7" y="115.5" width="249.30" height="1" fill="#000" fill-opacity="0.051"/><rect x="199.7" y="116.5" width="249.30" height="1" fill="#fff" fill-opacity="0.044"/><rect x="199.7" y="117.5" width="249.30" height="2" fill="#fff" fill-opacity="0.045"/><rect x="199.7" y="119.5" width="249.30" height="2" fill="#fff" fill-opacity="0.060"/><rect x="199.7" y="125.5" width="249.30" height="1" fill="#fff" fill-opacity="0.029"/><rect x="199.7" y="126.5" width="249.30" height="1" fill="#000" fill-opacity="0.090"/><rect x="199.7" y="127.5" width="249.30" height="2" fill="#000" fill-opacity="0.013"/><rect x="199.7" y="129.5" width="249.30" height="1" fill="#000" fill-opacity="0.016"/><rect x="199.7" y="131.5" width="249.30" height="1" fill="#000" fill-opacity="0.015"/><rect x="199.7" y="133.5" width="249.30" height="1" fill="#000" fill-opacity="0.052"/><rect x="199.7" y="134.5" width="249.30" height="2" fill="#000" fill-opacity="0.052"/><rect x="199.7" y="136.5" width="249.30" height="1" fill="#fff" fill-opacity="0.041"/><rect x="199.7" y="137.5" width="249.30" height="1" fill="#fff" fill-opacity="0.030"/><rect x="199.7" y="140.5" width="249.30" height="1" fill="#fff" fill-opacity="0.106"/><rect x="199.7" y="141.5" width="249.30" height="1" fill="#000" fill-opacity="0.120"/><rect x="199.7" y="142.5" width="249.30" height="1" fill="#000" fill-opacity="0.047"/><rect x="199.7" y="143.5" width="249.30" height="1" fill="#000" fill-opacity="0.077"/><rect x="199.7" y="144.5" width="249.30" height="2" fill="#000" fill-opacity="0.098"/><rect x="199.7" y="146.5" width="249.30" height="1" fill="#000" fill-opacity="0.014"/><rect x="199.7" y="149.5" width="249.30" height="1" fill="#fff" fill-opacity="0.037"/><rect x="199.7" y="150.5" width="249.30" height="2" fill="#fff" fill-opacity="0.013"/><rect x="199.7" y="153.5" width="249.30" height="1" fill="#fff" fill-opacity="0.089"/><rect x="199.7" y="154.5" width="249.30" height="1" fill="#000" fill-opacity="0.092"/><rect x="199.7" y="157.5" width="249.30" height="1" fill="#000" fill-opacity="0.016"/><rect x="199.7" y="158.5" width="249.30" height="1" fill="#000" fill-opacity="0.036"/><rect x="199.7" y="159.5" width="249.30" height="1" fill="#fff" fill-opacity="0.044"/><rect x="199.7" y="160.5" width="249.30" height="1" fill="#fff" fill-opacity="0.120"/><rect x="199.7" y="162.5" width="249.30" height="1" fill="#fff" fill-opacity="0.042"/><rect x="199.7" y="163.5" width="249.30" height="1" fill="#fff" fill-opacity="0.067"/><rect x="199.7" y="164.5" width="249.30" height="1" fill="#000" fill-opacity="0.021"/><rect x="199.7" y="165.5" width="249.30" height="1" fill="#000" fill-opacity="0.120"/><rect x="199.7" y="166.5" width="249.30" height="1" fill="#fff" fill-opacity="0.012"/><rect x="199.7" y="167.5" width="249.30" height="1" fill="#fff" fill-opacity="0.018"/><rect x="199.7" y="169.5" width="249.30" height="1" fill="#000" fill-opacity="0.081"/><rect x="199.7" y="170.5" width="249.30" height="1" fill="#fff" fill-opacity="0.048"/><rect x="199.7" y="171.5" width="249.30" height="2" fill="#000" fill-opacity="0.090"/><rect x="199.7" y="173.5" width="249.30" height="1" fill="#fff" fill-opacity="0.029"/><rect x="199.7" y="174.5" width="249.30" height="1" fill="#fff" fill-opacity="0.120"/><rect x="199.7" y="176.5" width="249.30" height="1" fill="#fff" fill-opacity="0.055"/><rect x="199.7" y="177.5" width="249.30" height="2" fill="#fff" fill-opacity="0.120"/><rect x="199.7" y="179.5" width="249.30" height="1" fill="#000" fill-opacity="0.037"/><rect x="199.7" y="180.5" width="249.30" height="1" fill="#fff" fill-opacity="0.089"/><rect x="199.7" y="181.5" width="249.30" height="1" fill="#000" fill-opacity="0.027"/><rect x="199.7" y="182.5" width="249.30" height="1" fill="#fff" fill-opacity="0.010"/><rect x="199.7" y="183.5" width="249.30" height="1" fill="#fff" fill-opacity="0.055"/><rect x="199.7" y="184.5" width="249.30" height="1" fill="#fff" fill-opacity="0.030"/><rect x="199.7" y="185.5" width="249.30" height="1" fill="#000" fill-opacity="0.075"/><rect x="199.7" y="186.5" width="249.30" height="1" fill="#fff" fill-opacity="0.070"/><rect x="199.7" y="187.5" width="249.30" height="2" fill="#fff" fill-opacity="0.080"/><rect x="199.7" y="189.5" width="249.30" height="1" fill="#fff" fill-opacity="0.049"/><rect x="199.7" y="190.5" width="249.30" height="1" fill="#000" fill-opacity="0.063"/><rect x="199.7" y="191.5" width="249.30" height="1" fill="#000" fill-opacity="0.017"/><rect x="199.7" y="193.5" width="249.30" height="2" fill="#000" fill-opacity="0.068"/><rect x="199.7" y="195.5" width="249.30" height="1" fill="#fff" fill-opacity="0.039"/><rect x="199.7" y="196.5" width="249.30" height="1" fill="#000" fill-opacity="0.095"/><rect x="199.7" y="197.5" width="249.30" height="2" fill="#fff" fill-opacity="0.021"/><rect x="199.7" y="201.5" width="249.30" height="1" fill="#fff" fill-opacity="0.020"/><rect x="199.7" y="202.5" width="249.30" height="1" fill="#000" fill-opacity="0.021"/><rect x="199.7" y="203.5" width="249.30" height="1" fill="#fff" fill-opacity="0.120"/><rect x="199.7" y="205.5" width="249.30" height="1" fill="#000" fill-opacity="0.092"/><rect x="199.7" y="206.5" width="249.30" height="1" fill="#fff" fill-opacity="0.101"/><rect x="199.7" y="208.5" width="249.30" height="1" fill="#fff" fill-opacity="0.013"/><rect x="199.7" y="209.5" width="249.30" height="2" fill="#000" fill-opacity="0.025"/><rect x="199.7" y="211.5" width="249.30" height="2" fill="#fff" fill-opacity="0.033"/><rect x="199.7" y="213.5" width="249.30" height="2" fill="#000" fill-opacity="0.120"/><rect x="199.7" y="215.5" width="249.30" height="1" fill="#fff" fill-opacity="0.034"/><rect x="199.7" y="216.5" width="249.30" height="1" fill="#000" fill-opacity="0.017"/><rect x="199.7" y="217.5" width="249.30" height="1" fill="#000" fill-opacity="0.042"/><rect x="199.7" y="218.5" width="249.30" height="1" fill="#000" fill-opacity="0.033"/><rect x="199.7" y="219.5" width="249.30" height="2" fill="#000" fill-opacity="0.068"/><rect x="199.7" y="221.5" width="249.30" height="1" fill="#fff" fill-opacity="0.080"/><rect x="199.7" y="222.5" width="249.30" height="1" fill="#000" fill-opacity="0.028"/><rect x="199.7" y="223.5" width="249.30" height="2" fill="#fff" fill-opacity="0.022"/><rect x="199.7" y="225.5" width="249.30" height="1" fill="#000" fill-opacity="0.041"/><rect x="199.7" y="226.5" width="249.30" height="1" fill="#000" fill-opacity="0.056"/><rect x="199.7" y="227.5" width="249.30" height="1" fill="#fff" fill-opacity="0.120"/><rect x="199.7" y="228.5" width="249.30" height="1" fill="#000" fill-opacity="0.015"/><rect x="199.7" y="229.5" width="249.30" height="1" fill="#000" fill-opacity="0.029"/><rect x="199.7" y="230.5" width="249.30" height="2" fill="#000" fill-opacity="0.029"/><rect x="199.7" y="232.5" width="249.30" height="2" fill="#fff" fill-opacity="0.120"/><rect x="199.7" y="234.5" width="249.30" height="1" fill="#000" fill-opacity="0.012"/><rect x="199.7" y="235.5" width="249.30" height="1" fill="#fff" fill-opacity="0.045"/><rect x="199.7" y="236.5" width="249.30" height="1" fill="#fff" fill-opacity="0.049"/><rect x="199.7" y="238.5" width="249.30" height="1" fill="#000" fill-opacity="0.049"/><rect x="199.7" y="239.5" width="249.30" height="1" fill="#000" fill-opacity="0.069"/><rect x="199.7" y="240.5" width="249.30" height="1" fill="#fff" fill-opacity="0.070"/><rect x="199.7" y="243.5" width="249.30" height="1" fill="#fff" fill-opacity="0.045"/><rect x="199.7" y="244.5" width="249.30" height="1" fill="#fff" fill-opacity="0.059"/><rect x="199.7" y="245.5" width="249.30" height="1" fill="#000" fill-opacity="0.052"/><rect x="199.7" y="246.5" width="249.30" height="1" fill="#000" fill-opacity="0.120"/><rect x="199.7" y="247.5" width="249.30" height="1" fill="#fff" fill-opacity="0.114"/><rect x="199.7" y="248.5" width="249.30" height="1" fill="#000" fill-opacity="0.105"/><rect x="199.7" y="249.5" width="249.30" height="1" fill="#000" fill-opacity="0.120"/><rect x="199.7" y="250.5" width="249.30" height="1" fill="#000" fill-opacity="0.110"/><rect x="199.7" y="251.5" width="249.30" height="2" fill="#fff" fill-opacity="0.018"/><rect x="199.7" y="253.5" width="249.30" height="1" fill="#fff" fill-opacity="0.048"/><rect x="199.7" y="254.5" width="249.30" height="1" fill="#fff" fill-opacity="0.013"/><rect x="199.7" y="255.5" width="249.30" height="1" fill="#fff" fill-opacity="0.060"/><rect x="199.7" y="256.5" width="249.30" height="1" fill="#fff" fill-opacity="0.120"/><rect x="199.7" y="257.5" width="249.30" height="1" fill="#000" fill-opacity="0.084"/><rect x="199.7" y="258.5" width="249.30" height="2" fill="#fff" fill-opacity="0.087"/><rect x="199.7" y="260.5" width="249.30" height="1" fill="#fff" fill-opacity="0.014"/><rect x="199.7" y="261.5" width="249.30" height="1" fill="#000" fill-opacity="0.088"/><rect x="199.7" y="262.5" width="249.30" height="1" fill="#000" fill-opacity="0.061"/><rect x="199.7" y="263.5" width="249.30" height="1" fill="#000" fill-opacity="0.072"/><rect x="199.7" y="264.5" width="249.30" height="1" fill="#fff" fill-opacity="0.053"/><rect x="199.7" y="265.5" width="249.30" height="1" fill="#fff" fill-opacity="0.013"/><rect x="199.7" y="266.5" width="249.30" height="1" fill="#fff" fill-opacity="0.017"/><rect x="199.7" y="268.5" width="249.30" height="1" fill="#fff" fill-opacity="0.026"/><rect x="199.7" y="269.5" width="249.30" height="1" fill="#000" fill-opacity="0.056"/><rect x="199.7" y="270.5" width="249.30" height="1" fill="#000" fill-opacity="0.018"/><rect x="199.7" y="271.5" width="249.30" height="1" fill="#000" fill-opacity="0.017"/><rect x="199.7" y="272.5" width="249.30" height="2" fill="#000" fill-opacity="0.021"/><rect x="199.7" y="275.5" width="249.30" height="2" fill="#000" fill-opacity="0.018"/><rect x="199.7" y="277.5" width="249.30" height="1" fill="#000" fill-opacity="0.030"/><rect x="199.7" y="278.5" width="249.30" height="1" fill="#000" fill-opacity="0.038"/><rect x="199.7" y="279.5" width="249.30" height="1" fill="#fff" fill-opacity="0.029"/><rect x="199.7" y="280.5" width="249.30" height="1" fill="#000" fill-opacity="0.017"/><rect x="199.7" y="282.5" width="249.30" height="2" fill="#000" fill-opacity="0.104"/><rect x="199.7" y="284.5" width="249.30" height="1" fill="#fff" fill-opacity="0.060"/></g>
<rect x="6.7" y="67.5" width="7.5" height="217.5" fill="#1e78b4"/>
<rect x="6.7" y="69.0" width="7.5" height="3" fill="#2a86bd" opacity="0.6"/>
<rect x="6.7" y="75.0" width="7.5" height="3" fill="#2a86bd" opacity="0.6"/>
<rect x="6.7" y="83.0" width="7.5" height="1.5" fill="#2a86bd" opacity="0.6"/>
<rect x="6.7" y="86.0" width="7.5" height="3" fill="#2e8fc2" opacity="0.6"/>
<rect x="6.7" y="91.0" width="7.5" height="1.5" fill="#1c6fab" opacity="0.6"/>
<rect x="6.7" y="94.0" width="7.5" height="1" fill="#1c6fab" opacity="0.6"/>
<rect x="6.7" y="100.5" width="7.5" height="3" fill="#2e8fc2" opacity="0.6"/>
<rect x="6.7" y="112.0" width="7.5" height="1" fill="#2e8fc2" opacity="0.6"/>
<rect x="6.7" y="113.0" width="7.5" height="1.5" fill="#2e8fc2" opacity="0.6"/>
<rect x="6.7" y="115.5" width="7.5" height="2" fill="#2e8fc2" opacity="0.6"/>
<rect x="6.7" y="129.5" width="7.5" height="3" fill="#2a86bd" opacity="0.6"/>
<rect x="6.7" y="144.5" width="7.5" height="1" fill="#1c6fab" opacity="0.6"/>
<rect x="6.7" y="145.5" width="7.5" height="2" fill="#1c6fab" opacity="0.6"/>
<rect x="6.7" y="147.5" width="7.5" height="1" fill="#2a86bd" opacity="0.6"/>
<rect x="6.7" y="151.5" width="7.5" height="1" fill="#2e8fc2" opacity="0.6"/>
<rect x="6.7" y="155.5" width="7.5" height="1.5" fill="#2a86bd" opacity="0.6"/>
<rect x="6.7" y="157.0" width="7.5" height="1" fill="#1c6fab" opacity="0.6"/>
<rect x="6.7" y="161.5" width="7.5" height="1.5" fill="#1c6fab" opacity="0.6"/>
<rect x="6.7" y="163.0" width="7.5" height="2" fill="#2e8fc2" opacity="0.6"/>
<rect x="6.7" y="167.0" width="7.5" height="3" fill="#2e8fc2" opacity="0.6"/>
<rect x="6.7" y="170.0" width="7.5" height="3" fill="#1c6fab" opacity="0.6"/>
<rect x="6.7" y="174.5" width="7.5" height="1" fill="#1c6fab" opacity="0.6"/>
<rect x="6.7" y="179.0" width="7.5" height="3" fill="#1c6fab" opacity="0.6"/>
<rect x="6.7" y="189.0" width="7.5" height="1" fill="#2e8fc2" opacity="0.6"/>
<rect x="6.7" y="193.0" width="7.5" height="2" fill="#1c6fab" opacity="0.6"/>
<rect x="6.7" y="199.0" width="7.5" height="1" fill="#2e8fc2" opacity="0.6"/>
<rect x="6.7" y="204.0" width="7.5" height="1" fill="#1c6fab" opacity="0.6"/>
<rect x="6.7" y="211.5" width="7.5" height="1" fill="#2a86bd" opacity="0.6"/>
<rect x="6.7" y="219.5" width="7.5" height="1.5" fill="#2e8fc2" opacity="0.6"/>
<rect x="6.7" y="221.0" width="7.5" height="3" fill="#2a86bd" opacity="0.6"/>
<rect x="6.7" y="225.5" width="7.5" height="3" fill="#2e8fc2" opacity="0.6"/>
<rect x="6.7" y="240.0" width="7.5" height="3" fill="#2a86bd" opacity="0.6"/>
<rect x="6.7" y="243.0" width="7.5" height="1" fill="#2a86bd" opacity="0.6"/>
<rect x="6.7" y="244.0" width="7.5" height="3" fill="#2a86bd" opacity="0.6"/>
<rect x="6.7" y="248.0" width="7.5" height="1" fill="#2e8fc2" opacity="0.6"/>
<rect x="6.7" y="249.0" width="7.5" height="1.5" fill="#2a86bd" opacity="0.6"/>
<rect x="6.7" y="264.0" width="7.5" height="3" fill="#2e8fc2" opacity="0.6"/>
<rect x="6.7" y="267.0" width="7.5" height="3" fill="#2a86bd" opacity="0.6"/>
<rect x="6.7" y="270.0" width="7.5" height="2" fill="#2a86bd" opacity="0.6"/>
<rect x="6.7" y="280.0" width="7.5" height="2" fill="#2a86bd" opacity="0.6"/>
<rect x="6.7" y="283.0" width="7.5" height="1" fill="#2a86bd" opacity="0.6"/>
<rect x="15.0" y="67.5" width="7.8" height="217.5" fill="#1e78b4"/>
<rect x="15.0" y="67.5" width="7.8" height="2" fill="#1c6fab" opacity="0.6"/>
<rect x="15.0" y="89.0" width="7.8" height="1.5" fill="#2a86bd" opacity="0.6"/>
<rect x="15.0" y="90.5" width="7.8" height="1" fill="#2a86bd" opacity="0.6"/>
<rect x="15.0" y="93.5" width="7.8" height="1" fill="#2a86bd" opacity="0.6"/>
<rect x="15.0" y="95.5" width="7.8" height="1" fill="#2e8fc2" opacity="0.6"/>
<rect x="15.0" y="96.5" width="7.8" height="2" fill="#2e8fc2" opacity="0.6"/>
<rect x="15.0" y="99.5" width="7.8" height="3" fill="#2a86bd" opacity="0.6"/>
<rect x="15.0" y="102.5" width="7.8" height="1.5" fill="#2a86bd" opacity="0.6"/>
<rect x="15.0" y="107.0" width="7.8" height="1.5" fill="#2e8fc2" opacity="0.6"/>
<rect x="15.0" y="108.5" width="7.8" height="1.5" fill="#1c6fab" opacity="0.6"/>
<rect x="15.0" y="110.0" width="7.8" height="3" fill="#1c6fab" opacity="0.6"/>
<rect x="15.0" y="127.5" width="7.8" height="2" fill="#2a86bd" opacity="0.6"/>
<rect x="15.0" y="129.5" width="7.8" height="1.5" fill="#2a86bd" opacity="0.6"/>
<rect x="15.0" y="138.5" width="7.8" height="1.5" fill="#2a86bd" opacity="0.6"/>
<rect x="15.0" y="144.5" width="7.8" height="2" fill="#1c6fab" opacity="0.6"/>
<rect x="15.0" y="148.5" width="7.8" height="2" fill="#2e8fc2" opacity="0.6"/>
<rect x="15.0" y="161.0" width="7.8" height="2" fill="#1c6fab" opacity="0.6"/>
<rect x="15.0" y="173.0" width="7.8" height="2" fill="#1c6fab" opacity="0.6"/>
<rect x="15.0" y="175.0" width="7.8" height="1.5" fill="#2e8fc2" opacity="0.6"/>
<rect x="15.0" y="176.5" width="7.8" height="1" fill="#2e8fc2" opacity="0.6"/>
<rect x="15.0" y="177.5" width="7.8" height="1" fill="#2a86bd" opacity="0.6"/>
<rect x="15.0" y="182.0" width="7.8" height="1.5" fill="#2a86bd" opacity="0.6"/>
<rect x="15.0" y="183.5" width="7.8" height="2" fill="#1c6fab" opacity="0.6"/>
<rect x="15.0" y="185.5" width="7.8" height="3" fill="#1c6fab" opacity="0.6"/>
<rect x="15.0" y="193.5" width="7.8" height="1.5" fill="#2e8fc2" opacity="0.6"/>
<rect x="15.0" y="195.0" width="7.8" height="3" fill="#2a86bd" opacity="0.6"/>
<rect x="15.0" y="206.5" width="7.8" height="2" fill="#2e8fc2" opacity="0.6"/>
<rect x="15.0" y="211.0" width="7.8" height="1.5" fill="#1c6fab" opacity="0.6"/>
<rect x="15.0" y="225.0" width="7.8" height="1" fill="#2e8fc2" opacity="0.6"/>
<rect x="15.0" y="226.0" width="7.8" height="1.5" fill="#2a86bd" opacity="0.6"/>
<rect x="15.0" y="227.5" width="7.8" height="2" fill="#2e8fc2" opacity="0.6"/>
<rect x="15.0" y="240.5" width="7.8" height="3" fill="#2e8fc2" opacity="0.6"/>
<rect x="15.0" y="248.0" width="7.8" height="2" fill="#1c6fab" opacity="0.6"/>
<rect x="15.0" y="250.0" width="7.8" height="1" fill="#1c6fab" opacity="0.6"/>
<rect x="15.0" y="256.0" width="7.8" height="1" fill="#2e8fc2" opacity="0.6"/>
<rect x="15.0" y="264.5" width="7.8" height="1.5" fill="#2a86bd" opacity="0.6"/>
<rect x="15.0" y="280.0" width="7.8" height="1.5" fill="#1c6fab" opacity="0.6"/>
<rect x="23.6" y="67.5" width="7.4" height="217.5" fill="#1e78b4"/>
<rect x="23.6" y="75.5" width="7.4" height="2" fill="#1c6fab" opacity="0.6"/>
<rect x="23.6" y="77.5" width="7.4" height="3" fill="#2e8fc2" opacity="0.6"/>
<rect x="23.6" y="88.5" width="7.4" height="2" fill="#2a86bd" opacity="0.6"/>
<rect x="23.6" y="99.5" width="7.4" height="2" fill="#2e8fc2" opacity="0.6"/>
<rect x="23.6" y="114.5" width="7.4" height="1" fill="#1c6fab" opacity="0.6"/>
<rect x="23.6" y="127.5" width="7.4" height="1" fill="#1c6fab" opacity="0.6"/>
<rect x="23.6" y="128.5" width="7.4" height="1" fill="#2a86bd" opacity="0.6"/>
<rect x="23.6" y="135.5" width="7.4" height="1.5" fill="#2e8fc2" opacity="0.6"/>
<rect x="23.6" y="140.0" width="7.4" height="2" fill="#2e8fc2" opacity="0.6"/>
<rect x="23.6" y="144.0" width="7.4" height="1.5" fill="#1c6fab" opacity="0.6"/>
<rect x="23.6" y="145.5" width="7.4" height="3" fill="#2a86bd" opacity="0.6"/>
<rect x="23.6" y="148.5" width="7.4" height="2" fill="#1c6fab" opacity="0.6"/>
<rect x="23.6" y="160.5" width="7.4" height="2" fill="#2e8fc2" opacity="0.6"/>
<rect x="23.6" y="162.5" width="7.4" height="2" fill="#2e8fc2" opacity="0.6"/>
<rect x="23.6" y="170.5" width="7.4" height="1" fill="#2a86bd" opacity="0.6"/>
<rect x="23.6" y="178.5" width="7.4" height="1" fill="#2e8fc2" opacity="0.6"/>
<rect x="23.6" y="182.5" width="7.4" height="1.5" fill="#2a86bd" opacity="0.6"/>
<rect x="23.6" y="192.0" width="7.4" height="2" fill="#2e8fc2" opacity="0.6"/>
<rect x="23.6" y="213.0" width="7.4" height="1" fill="#2a86bd" opacity="0.6"/>
<rect x="23.6" y="224.0" width="7.4" height="1" fill="#2e8fc2" opacity="0.6"/>
<rect x="23.6" y="231.0" width="7.4" height="1" fill="#2e8fc2" opacity="0.6"/>
<rect x="23.6" y="244.5" width="7.4" height="1.5" fill="#2a86bd" opacity="0.6"/>
<rect x="23.6" y="255.5" width="7.4" height="2" fill="#2a86bd" opacity="0.6"/>
<rect x="23.6" y="270.5" width="7.4" height="2" fill="#1c6fab" opacity="0.6"/>
<rect x="23.6" y="274.0" width="7.4" height="1" fill="#2a86bd" opacity="0.6"/>
<rect x="23.6" y="275.0" width="7.4" height="1.5" fill="#2e8fc2" opacity="0.6"/>
<rect x="33.0" y="41.2" width="163.3" height="7.3" fill="#1a9bc6"/>
<rect x="33.0" y="49.5" width="163.3" height="7.7" fill="#38bccb"/>
<rect x="33.0" y="58.1" width="163.3" height="7.5" fill="#1b73a9"/>
<rect x="199.7" y="41.2" width="249.3" height="7.3" fill="#1a9bc6"/>
<rect x="199.7" y="49.5" width="249.3" height="7.7" fill="#38bccb"/>
<rect x="199.7" y="58.1" width="249.3" height="7.5" fill="#c8102e"/>
<rect x="33.2" y="32.9" width="1.75" height="7.1" fill="#1b66bd"/>
<rect x="34.9" y="32.9" width="1.75" height="7.1" fill="#d9503a"/>
<rect x="36.6" y="32.9" width="5.25" height="7.1" fill="#f2c21c"/>
<rect x="41.8" y="32.9" width="4.05" height="7.1" fill="#1b66bd"/>
<rect x="45.8" y="32.9" width="4.15" height="7.1" fill="#f2c21c"/>
<rect x="49.9" y="32.9" width="1.75" height="7.1" fill="#1b66bd"/>
<rect x="51.6" y="32.9" width="2.35" height="7.1" fill="#d9503a"/>
<rect x="53.9" y="32.9" width="4.65" height="7.1" fill="#1b66bd"/>
<rect x="58.5" y="32.9" width="2.95" height="7.1" fill="#f2c21c"/>
<rect x="61.4" y="32.9" width="1.75" height="7.1" fill="#6f7866"/>
<rect x="63.1" y="32.9" width="15.05" height="7.1" fill="#f2c21c"/>
<rect x="78.1" y="32.9" width="5.85" height="7.1" fill="#1b66bd"/>
<rect x="83.9" y="32.9" width="4.65" height="7.1" fill="#f2c21c"/>
<rect x="88.5" y="32.9" width="2.35" height="7.1" fill="#6f7866"/>
<rect x="90.8" y="32.9" width="2.15" height="7.1" fill="#f2c21c"/>
<rect x="92.9" y="32.9" width="2.35" height="7.1" fill="#1b66bd"/>
<rect x="95.2" y="32.9" width="5.25" height="7.1" fill="#f2c21c"/>
<rect x="100.4" y="32.9" width="5.75" height="7.1" fill="#1b66bd"/>
<rect x="106.1" y="32.9" width="1.85" height="7.1" fill="#f2c21c"/>
<rect x="107.9" y="32.9" width="2.35" height="7.1" fill="#1b66bd"/>
<rect x="110.2" y="32.9" width="2.35" height="7.1" fill="#f2c21c"/>
<rect x="112.5" y="32.9" width="1.75" height="7.1" fill="#6f7866"/>
<rect x="114.2" y="32.9" width="4.65" height="7.1" fill="#f2c21c"/>
<rect x="118.8" y="32.9" width="4.15" height="7.1" fill="#1b66bd"/>
<rect x="122.9" y="32.9" width="8.65" height="7.1" fill="#f2c21c"/>
<rect x="131.5" y="32.9" width="2.35" height="7.1" fill="#1b66bd"/>
<rect x="133.8" y="32.9" width="1.85" height="7.1" fill="#d9503a"/>
<rect x="135.6" y="32.9" width="2.35" height="7.1" fill="#f2c21c"/>
<rect x="137.9" y="32.9" width="4.05" height="7.1" fill="#1b66bd"/>
<rect x="141.9" y="32.9" width="1.75" height="7.1" fill="#d9503a"/>
<rect x="143.6" y="32.9" width="2.95" height="7.1" fill="#1b66bd"/>
<rect x="146.5" y="32.9" width="4.45" height="7.1" fill="#f2c21c"/>
<rect x="150.9" y="32.9" width="1.15" height="7.1" fill="#6f7866"/>
<rect x="152.0" y="32.9" width="2.95" height="7.1" fill="#1b66bd"/>
<rect x="154.9" y="32.9" width="4.65" height="7.1" fill="#f2c21c"/>
<rect x="159.5" y="32.9" width="6.45" height="7.1" fill="#1b66bd"/>
<rect x="165.9" y="32.9" width="2.35" height="7.1" fill="#f2c21c"/>
<rect x="168.2" y="32.9" width="4.65" height="7.1" fill="#1b66bd"/>
<rect x="172.8" y="32.9" width="8.15" height="7.1" fill="#f2c21c"/>
<rect x="180.9" y="32.9" width="6.95" height="7.1" fill="#1b66bd"/>
<rect x="187.8" y="32.9" width="1.75" height="7.1" fill="#d9503a"/>
<rect x="189.5" y="32.9" width="4.15" height="7.1" fill="#f2c21c"/>
<rect x="193.6" y="32.9" width="2.75" height="7.1" fill="#1b66bd"/>
<rect x="199.7" y="32.9" width="4.15" height="7.1" fill="#1b66bd"/>
<rect x="203.8" y="32.9" width="4.05" height="7.1" fill="#f2c21c"/>
<rect x="207.8" y="32.9" width="1.75" height="7.1" fill="#1b66bd"/>
<rect x="209.5" y="32.9" width="4.65" height="7.1" fill="#f2c21c"/>
<rect x="214.1" y="32.9" width="1.85" height="7.1" fill="#d9503a"/>
<rect x="215.9" y="32.9" width="5.25" height="7.1" fill="#1b66bd"/>
<rect x="221.1" y="32.9" width="10.95" height="7.1" fill="#f2c21c"/>
<rect x="232.0" y="32.9" width="14.45" height="7.1" fill="#1b66bd"/>
<rect x="246.4" y="32.9" width="2.35" height="7.1" fill="#d9503a"/>
<rect x="248.7" y="32.9" width="2.35" height="7.1" fill="#f2c21c"/>
<rect x="251.0" y="32.9" width="1.85" height="7.1" fill="#6f7866"/>
<rect x="252.8" y="32.9" width="3.25" height="7.1" fill="#f2c21c"/>
<rect x="256.0" y="32.9" width="2.35" height="7.1" fill="#d9503a"/>
<rect x="258.3" y="32.9" width="1.75" height="7.1" fill="#f2c21c"/>
<rect x="260.0" y="32.9" width="2.35" height="7.1" fill="#1b66bd"/>
<rect x="262.3" y="32.9" width="1.85" height="7.1" fill="#f2c21c"/>
<rect x="264.1" y="32.9" width="2.35" height="7.1" fill="#1b66bd"/>
<rect x="266.4" y="32.9" width="2.35" height="7.1" fill="#f2c21c"/>
<rect x="268.7" y="32.9" width="4.05" height="7.1" fill="#1b66bd"/>
<rect x="272.7" y="32.9" width="2.35" height="7.1" fill="#f2c21c"/>
<rect x="275.0" y="32.9" width="1.85" height="7.1" fill="#d9503a"/>
<rect x="276.8" y="32.9" width="6.95" height="7.1" fill="#1b66bd"/>
<rect x="283.7" y="32.9" width="12.75" height="7.1" fill="#f2c21c"/>
<rect x="296.4" y="32.9" width="2.35" height="7.1" fill="#d9503a"/>
<rect x="298.7" y="32.9" width="1.75" height="7.1" fill="#f2c21c"/>
<rect x="300.4" y="32.9" width="6.35" height="7.1" fill="#1b66bd"/>
<rect x="306.7" y="32.9" width="2.35" height="7.1" fill="#f2c21c"/>
<rect x="309.0" y="32.9" width="2.45" height="7.1" fill="#d9503a"/>
<rect x="311.4" y="32.9" width="4.35" height="7.1" fill="#f2c21c"/>
<rect x="315.7" y="32.9" width="1.85" height="7.1" fill="#d9503a"/>
<rect x="317.5" y="32.9" width="6.95" height="7.1" fill="#f2c21c"/>
<rect x="324.4" y="32.9" width="4.65" height="7.1" fill="#1b66bd"/>
<rect x="329.0" y="32.9" width="1.75" height="7.1" fill="#d9503a"/>
<rect x="330.7" y="32.9" width="2.35" height="7.1" fill="#f2c21c"/>
<rect x="333.0" y="32.9" width="4.15" height="7.1" fill="#1b66bd"/>
<rect x="337.1" y="32.9" width="1.75" height="7.1" fill="#f2c21c"/>
<rect x="338.8" y="32.9" width="5.25" height="7.1" fill="#1b66bd"/>
<rect x="344.0" y="32.9" width="2.35" height="7.1" fill="#f2c21c"/>
<rect x="346.3" y="32.9" width="3.55" height="7.1" fill="#d9503a"/>
<rect x="349.8" y="32.9" width="6.95" height="7.1" fill="#f2c21c"/>
<rect x="356.7" y="32.9" width="8.05" height="7.1" fill="#1b66bd"/>
<rect x="364.7" y="32.9" width="2.45" height="7.1" fill="#f2c21c"/>
<rect x="367.1" y="32.9" width="2.35" height="7.1" fill="#1b66bd"/>
<rect x="369.4" y="32.9" width="2.35" height="7.1" fill="#f2c21c"/>
<rect x="371.7" y="32.9" width="3.85" height="7.1" fill="#1b66bd"/>
<rect x="375.5" y="32.9" width="2.85" height="7.1" fill="#f2c21c"/>
<rect x="378.3" y="32.9" width="10.45" height="7.1" fill="#1b66bd"/>
<rect x="388.7" y="32.9" width="4.65" height="7.1" fill="#f2c21c"/>
<rect x="393.3" y="32.9" width="1.85" height="7.1" fill="#d9503a"/>
<rect x="395.1" y="32.9" width="2.95" height="7.1" fill="#1b66bd"/>
<rect x="398.0" y="32.9" width="1.75" height="7.1" fill="#d9503a"/>
<rect x="399.7" y="32.9" width="2.35" height="7.1" fill="#1b66bd"/>
<rect x="402.0" y="32.9" width="2.35" height="7.1" fill="#f2c21c"/>
<rect x="404.3" y="32.9" width="1.75" height="7.1" fill="#1b66bd"/>
<rect x="406.0" y="32.9" width="1.85" height="7.1" fill="#f2c21c"/>
<rect x="407.8" y="32.9" width="2.35" height="7.1" fill="#1b66bd"/>
<rect x="410.1" y="32.9" width="4.65" height="7.1" fill="#f2c21c"/>
<rect x="414.7" y="32.9" width="13.05" height="7.1" fill="#1b66bd"/>
<rect x="427.7" y="32.9" width="2.35" height="7.1" fill="#d9503a"/>
<rect x="430.0" y="32.9" width="1.55" height="7.1" fill="#f2c21c"/>
<rect x="431.5" y="32.9" width="15.85" height="7.1" fill="#1b66bd"/>
<rect x="447.3" y="32.9" width="1.75" height="7.1" fill="#f2c21c"/>
<rect x="38.9" y="41.2" width="2.30" height="7.3" fill="#b8231f"/>
<rect x="45.8" y="41.2" width="1.80" height="7.3" fill="#3d9a3a"/>
<rect x="47.6" y="41.2" width="4.60" height="7.3" fill="#b8231f"/>
<rect x="60.3" y="41.2" width="2.30" height="7.3" fill="#b8231f"/>
<rect x="62.6" y="41.2" width="2.30" height="7.3" fill="#3d9a3a"/>
<rect x="64.9" y="41.2" width="1.70" height="7.3" fill="#b8231f"/>
<rect x="70.0" y="41.2" width="4.10" height="7.3" fill="#b8231f"/>
<rect x="77.6" y="41.2" width="2.30" height="7.3" fill="#b8231f"/>
<rect x="82.2" y="41.2" width="1.70" height="7.3" fill="#b8231f"/>
<rect x="83.9" y="41.2" width="2.30" height="7.3" fill="#3d9a3a"/>
<rect x="94.6" y="41.2" width="2.30" height="7.3" fill="#a7afb7"/>
<rect x="109.6" y="41.2" width="2.30" height="7.3" fill="#b8231f"/>
<rect x="128.1" y="41.2" width="1.10" height="7.3" fill="#e8a01c"/>
<rect x="129.2" y="41.2" width="2.30" height="7.3" fill="#b8231f"/>
<rect x="133.3" y="41.2" width="2.30" height="7.3" fill="#b8231f"/>
<rect x="138.4" y="41.2" width="3.50" height="7.3" fill="#b8231f"/>
<rect x="148.5" y="41.2" width="3.00" height="7.3" fill="#b8231f"/>
<rect x="165.9" y="41.2" width="2.30" height="7.3" fill="#b8231f"/>
<rect x="175.7" y="41.2" width="3.40" height="7.3" fill="#b8231f"/>
<rect x="194.1" y="41.2" width="1.80" height="7.3" fill="#b8231f"/>
<rect x="210.1" y="41.2" width="2.30" height="7.3" fill="#b8231f"/>
<rect x="214.1" y="41.2" width="2.40" height="7.3" fill="#3d9a3a"/>
<rect x="237.8" y="41.2" width="2.30" height="7.3" fill="#3d9a3a"/>
<rect x="259.5" y="41.2" width="2.30" height="7.3" fill="#b8231f"/>
<rect x="265.8" y="41.2" width="2.30" height="7.3" fill="#b8231f"/>
<rect x="291.8" y="41.2" width="2.30" height="7.3" fill="#b8231f"/>
<rect x="309.0" y="41.2" width="1.80" height="7.3" fill="#a7afb7"/>
<rect x="313.1" y="41.2" width="4.40" height="7.3" fill="#3d9a3a"/>
<rect x="344.0" y="41.2" width="2.30" height="7.3" fill="#3d9a3a"/>
<rect x="349.8" y="41.2" width="2.30" height="7.3" fill="#3d9a3a"/>
<rect x="375.5" y="41.2" width="2.80" height="7.3" fill="#b8231f"/>
<rect x="390.5" y="41.2" width="2.30" height="7.3" fill="#3d9a3a"/>
<rect x="428.0" y="41.2" width="2.20" height="7.3" fill="#b8231f"/>
<rect x="38.9" y="49.5" width="2.90" height="7.7" fill="#e58bc6"/>
<rect x="45.8" y="49.5" width="6.40" height="7.7" fill="#e58bc6"/>
<rect x="60.3" y="49.5" width="6.30" height="7.7" fill="#e58bc6"/>
<rect x="68.9" y="49.5" width="2.90" height="7.7" fill="#e58bc6"/>
<rect x="74.1" y="49.5" width="2.30" height="7.7" fill="#e58bc6"/>
<rect x="83.9" y="49.5" width="2.30" height="7.7" fill="#e58bc6"/>
<rect x="94.6" y="49.5" width="2.90" height="7.7" fill="#e58bc6"/>
<rect x="109.6" y="49.5" width="2.30" height="7.7" fill="#e58bc6"/>
<rect x="128.1" y="49.5" width="2.90" height="7.7" fill="#e58bc6"/>
<rect x="133.3" y="49.5" width="2.30" height="7.7" fill="#e58bc6"/>
<rect x="148.5" y="49.5" width="4.70" height="7.7" fill="#e58bc6"/>
<rect x="165.9" y="49.5" width="2.30" height="7.7" fill="#e58bc6"/>
<rect x="174.5" y="49.5" width="4.60" height="7.7" fill="#e58bc6"/>
<rect x="210.1" y="49.5" width="2.30" height="7.7" fill="#e58bc6"/>
<rect x="214.1" y="49.5" width="2.40" height="7.7" fill="#e58bc6"/>
<rect x="237.8" y="49.5" width="2.30" height="7.7" fill="#e58bc6"/>
<rect x="308.5" y="49.5" width="2.90" height="7.7" fill="#e58bc6"/>
<rect x="313.1" y="49.5" width="4.40" height="7.7" fill="#e58bc6"/>
<rect x="344.0" y="49.5" width="2.30" height="7.7" fill="#e58bc6"/>
<rect x="349.8" y="49.5" width="2.30" height="7.7" fill="#e58bc6"/>
<rect x="375.5" y="49.5" width="2.80" height="7.7" fill="#e58bc6"/>
<rect x="390.5" y="49.5" width="2.80" height="7.7" fill="#e58bc6"/>
<rect x="428.0" y="49.5" width="2.20" height="7.7" fill="#e58bc6"/>
<defs><linearGradient id="cb" x1="0" y1="0" x2="0" y2="1"><stop offset="0.0" stop-color="#870f32"/><stop offset="0.09999999999999998" stop-color="#c33424"/><stop offset="0.15000000000000002" stop-color="#da5620"/><stop offset="0.19999999999999996" stop-color="#e87222"/><stop offset="0.25" stop-color="#f08c28"/><stop offset="0.30000000000000004" stop-color="#f2a237"/><stop offset="0.35" stop-color="#f5ba50"/><stop offset="0.4" stop-color="#f7d27d"/><stop offset="0.44999999999999996" stop-color="#f6e8a8"/><stop offset="0.5" stop-color="#f2f4d2"/><stop offset="0.55" stop-color="#d4ead0"/><stop offset="0.6" stop-color="#a5d6c6"/><stop offset="0.65" stop-color="#6ebec0"/><stop offset="0.7" stop-color="#48aabe"/><stop offset="0.75" stop-color="#3098bc"/><stop offset="0.8" stop-color="#2286b8"/><stop offset="0.9" stop-color="#1c69a5"/><stop offset="1.0" stop-color="#30348a"/></linearGradient></defs>
<rect x="454.4" y="80.5" width="6.5" height="33.6" fill="url(#cb)"/>
<rect x="453.3" y="130.9" width="5.6" height="5.2" fill="#f2c21c"/>
<rect x="453.3" y="139.8" width="5.6" height="5.2" fill="#d9453a"/>
<rect x="453.3" y="148.7" width="5.6" height="5.2" fill="#1565c0"/>
<rect x="453.3" y="157.6" width="5.6" height="5.2" fill="#7f7f6f"/>
<rect x="453.3" y="180.1" width="5.6" height="5.2" fill="#1a9bc6"/>
<rect x="453.3" y="189.0" width="5.6" height="5.2" fill="#3d9a3a"/>
<rect x="453.3" y="197.9" width="5.6" height="5.2" fill="#a7afb7"/>
<rect x="453.3" y="206.8" width="5.6" height="5.2" fill="#b8231f"/>
<rect x="453.3" y="215.7" width="5.6" height="5.2" fill="#e8a01c"/>
<rect x="453.3" y="238.2" width="5.6" height="5.2" fill="#38bccb"/>
<rect x="453.3" y="247.1" width="5.6" height="5.2" fill="#e58bc6"/>
<rect x="453.3" y="269.8" width="5.6" height="5.2" fill="#1b73a9"/>
<rect x="453.3" y="278.7" width="5.6" height="5.2" fill="#c8102e"/>
<polyline points="81.3,317.5 92.6,400.2 164,446.2" fill="none" stroke="#f2c14e" stroke-width="1.0" stroke-linejoin="miter" />
<polyline points="148.5,312.9 142.5,390.6 80.3,448.3" fill="none" stroke="#f2c14e" stroke-width="1.0" stroke-linejoin="miter" />
<polyline points="39.3,380 123.5,341.3 198.2,370.8" fill="none" stroke="#f2c14e" stroke-width="1.0" stroke-linejoin="miter" />
<circle cx="44.4" cy="356.7" r="1.7" fill="#2c9cc6"/>
<circle cx="109.3" cy="314.3" r="1.7" fill="#a8102e"/>
<circle cx="125.2" cy="323.0" r="1.7" fill="#a8102e"/>
<circle cx="120.4" cy="327.1" r="1.7" fill="#2c9cc6"/>
<circle cx="123.5" cy="329.2" r="1.7" fill="#a8102e"/>
<circle cx="107.9" cy="329.2" r="1.7" fill="#2c9cc6"/>
<circle cx="124.2" cy="332.9" r="1.7" fill="#2c9cc6"/>
<circle cx="102.3" cy="333.4" r="1.7" fill="#2a923c"/>
<circle cx="119.2" cy="333.4" r="1.7" fill="#2a923c"/>
<circle cx="97.3" cy="334.5" r="1.7" fill="#a8102e"/>
<circle cx="95.4" cy="336.4" r="1.7" fill="#2c9cc6"/>
<circle cx="107.4" cy="335.2" r="1.7" fill="#a8102e"/>
<circle cx="112.5" cy="335.2" r="1.7" fill="#2a923c"/>
<circle cx="112.2" cy="337.4" r="1.7" fill="#2c9cc6"/>
<circle cx="119.4" cy="338.2" r="1.7" fill="#2c9cc6"/>
<circle cx="128.6" cy="337.9" r="1.7" fill="#a8102e"/>
<circle cx="111.3" cy="341.3" r="1.7" fill="#2a923c"/>
<circle cx="117.5" cy="341.3" r="1.7" fill="#a8102e"/>
<circle cx="122.8" cy="341.3" r="1.7" fill="#a8102e"/>
<circle cx="103.8" cy="342.5" r="1.7" fill="#a8102e"/>
<circle cx="116.1" cy="343.7" r="1.7" fill="#2c9cc6"/>
<circle cx="110.3" cy="343.7" r="1.7" fill="#2c9cc6"/>
<circle cx="104.5" cy="347.3" r="1.7" fill="#2c9cc6"/>
<circle cx="116.1" cy="348.0" r="1.7" fill="#a8102e"/>
<circle cx="112.7" cy="349.4" r="1.7" fill="#2c9cc6"/>
<circle cx="115.1" cy="350.4" r="1.7" fill="#2c9cc6"/>
<circle cx="93.0" cy="350.4" r="1.7" fill="#2c9cc6"/>
<circle cx="108.8" cy="352.3" r="1.7" fill="#2c9cc6"/>
<circle cx="123.8" cy="353.3" r="1.7" fill="#2c9cc6"/>
<circle cx="107.9" cy="354.7" r="1.7" fill="#2c9cc6"/>
<circle cx="110.3" cy="355.2" r="1.7" fill="#2c9cc6"/>
<circle cx="104.0" cy="357.1" r="1.7" fill="#2c9cc6"/>
<circle cx="108.8" cy="357.6" r="1.7" fill="#a8102e"/>
<circle cx="124.7" cy="357.1" r="1.7" fill="#2c9cc6"/>
<circle cx="112.7" cy="359.0" r="1.7" fill="#2c9cc6"/>
<circle cx="133.2" cy="323.7" r="1.7" fill="#2c9cc6"/>
<circle cx="146.9" cy="350.4" r="1.7" fill="#a8102e"/>
<circle cx="153.1" cy="348.5" r="1.7" fill="#2c9cc6"/>
<circle cx="156.3" cy="350.6" r="1.7" fill="#2c9cc6"/>
<circle cx="169.2" cy="352.1" r="1.7" fill="#2c9cc6"/>
<circle cx="162.7" cy="357.1" r="1.7" fill="#2c9cc6"/>
<circle cx="166.5" cy="357.1" r="1.7" fill="#a8102e"/>
<circle cx="173.6" cy="359.0" r="1.7" fill="#2c9cc6"/>
<circle cx="181.5" cy="351.3" r="1.7" fill="#2c9cc6"/>
<circle cx="177.7" cy="355.6" r="1.7" fill="#2c9cc6"/>
<circle cx="190.5" cy="355.9" r="1.7" fill="#2c9cc6"/>
<circle cx="170.8" cy="361.2" r="1.7" fill="#2c9cc6"/>
<circle cx="179.4" cy="366.2" r="1.7" fill="#2c9cc6"/>
<circle cx="165.5" cy="368.8" r="1.7" fill="#2c9cc6"/>
<circle cx="168.7" cy="371.5" r="1.7" fill="#2c9cc6"/>
<circle cx="165.8" cy="372.2" r="1.7" fill="#2a923c"/>
<circle cx="169.3" cy="378.3" r="1.7" fill="#a8102e"/>
<circle cx="166.4" cy="379.4" r="1.7" fill="#2a923c"/>
<circle cx="166.0" cy="385.2" r="1.7" fill="#2c9cc6"/>
<circle cx="174.4" cy="387.3" r="1.7" fill="#2c9cc6"/>
<circle cx="182.3" cy="385.2" r="1.7" fill="#2c9cc6"/>
<circle cx="184.7" cy="382.3" r="1.7" fill="#2c9cc6"/>
<circle cx="188.1" cy="384.4" r="1.7" fill="#2c9cc6"/>
<circle cx="192.4" cy="383.3" r="1.7" fill="#2c9cc6"/>
<circle cx="182.8" cy="387.6" r="1.7" fill="#2c9cc6"/>
<circle cx="169.3" cy="389.5" r="1.7" fill="#2c9cc6"/>
<circle cx="89.4" cy="361.0" r="1.7" fill="#2c9cc6"/>
<circle cx="92.5" cy="368.2" r="1.7" fill="#a8102e"/>
<circle cx="97.4" cy="367.1" r="1.7" fill="#2a923c"/>
<circle cx="84.1" cy="372.8" r="1.7" fill="#2c9cc6"/>
<circle cx="99.4" cy="378.3" r="1.7" fill="#2c9cc6"/>
<circle cx="70.2" cy="382.3" r="1.7" fill="#e8891e"/>
<circle cx="83.3" cy="395.0" r="1.7" fill="#2c9cc6"/>
<circle cx="93.3" cy="402.1" r="1.7" fill="#2c9cc6"/>
<circle cx="99.4" cy="400.7" r="1.7" fill="#a8102e"/>
<circle cx="85.6" cy="409.0" r="1.7" fill="#2c9cc6"/>
<circle cx="105.6" cy="362.7" r="1.7" fill="#2c9cc6"/>
<circle cx="108.9" cy="362.9" r="1.7" fill="#2c9cc6"/>
<circle cx="112.1" cy="362.7" r="1.7" fill="#a8102e"/>
<circle cx="103.7" cy="365.8" r="1.7" fill="#2c9cc6"/>
<circle cx="126.3" cy="366.1" r="1.7" fill="#2c9cc6"/>
<circle cx="133.9" cy="368.5" r="1.7" fill="#2c9cc6"/>
<circle cx="142.6" cy="362.7" r="1.7" fill="#2c9cc6"/>
<circle cx="120.2" cy="374.7" r="1.7" fill="#2c9cc6"/>
<circle cx="123.1" cy="374.7" r="1.7" fill="#2c9cc6"/>
<circle cx="142.3" cy="377.9" r="1.7" fill="#a8102e"/>
<circle cx="137.3" cy="379.8" r="1.7" fill="#2c9cc6"/>
<circle cx="123.7" cy="380.8" r="1.7" fill="#2c9cc6"/>
<circle cx="128.2" cy="381.9" r="1.7" fill="#2c9cc6"/>
<circle cx="131.5" cy="382.9" r="1.7" fill="#2c9cc6"/>
<circle cx="133.7" cy="386.3" r="1.7" fill="#a8102e"/>
<circle cx="110.9" cy="384.8" r="1.7" fill="#2c9cc6"/>
<circle cx="110.2" cy="386.7" r="1.7" fill="#2c9cc6"/>
<circle cx="116.3" cy="391.3" r="1.7" fill="#2c9cc6"/>
<circle cx="117.3" cy="394.2" r="1.7" fill="#2c9cc6"/>
<circle cx="121.2" cy="393.0" r="1.7" fill="#2c9cc6"/>
<circle cx="124.6" cy="393.0" r="1.7" fill="#2a923c"/>
<circle cx="110.2" cy="396.5" r="1.7" fill="#a8102e"/>
<circle cx="105.8" cy="398.5" r="1.7" fill="#2c9cc6"/>
<circle cx="102.2" cy="399.0" r="1.7" fill="#a8102e"/>
<circle cx="100.0" cy="401.0" r="1.7" fill="#a8102e"/>
<circle cx="141.9" cy="393.5" r="1.7" fill="#2c9cc6"/>
<circle cx="137.3" cy="395.2" r="1.7" fill="#2a923c"/>
<circle cx="138.8" cy="397.8" r="1.7" fill="#2c9cc6"/>
<circle cx="122.4" cy="402.1" r="1.7" fill="#2c9cc6"/>
<circle cx="103.7" cy="403.6" r="1.7" fill="#2c9cc6"/>
<circle cx="146.3" cy="385.6" r="1.7" fill="#2c9cc6"/>
<circle cx="154.4" cy="387.9" r="1.7" fill="#2c9cc6"/>
<circle cx="155.0" cy="390.8" r="1.7" fill="#2c9cc6"/>
<circle cx="160.2" cy="390.2" r="1.7" fill="#2c9cc6"/>
<circle cx="169.4" cy="390.5" r="1.7" fill="#2c9cc6"/>
<circle cx="164.5" cy="393.3" r="1.7" fill="#2c9cc6"/>
<circle cx="170.6" cy="394.2" r="1.7" fill="#2c9cc6"/>
<circle cx="156.7" cy="395.1" r="1.7" fill="#2c9cc6"/>
<circle cx="156.1" cy="397.5" r="1.7" fill="#2c9cc6"/>
<circle cx="171.1" cy="399.1" r="1.7" fill="#2c9cc6"/>
<circle cx="161.3" cy="400.6" r="1.7" fill="#2c9cc6"/>
<circle cx="163.6" cy="401.7" r="1.7" fill="#2c9cc6"/>
<circle cx="159.6" cy="404.6" r="1.7" fill="#2c9cc6"/>
<circle cx="150.6" cy="406.3" r="1.7" fill="#2c9cc6"/>
<circle cx="179.4" cy="408.3" r="1.7" fill="#2c9cc6"/>
<circle cx="163.6" cy="411.8" r="1.7" fill="#2c9cc6"/>
<circle cx="168.6" cy="411.3" r="1.7" fill="#2c9cc6"/>
<circle cx="168.6" cy="413.3" r="1.7" fill="#2c9cc6"/>
<circle cx="156.4" cy="413.6" r="1.7" fill="#2c9cc6"/>
<circle cx="157.3" cy="415.9" r="1.7" fill="#2c9cc6"/>
<circle cx="142.3" cy="415.2" r="1.7" fill="#2c9cc6"/>
<circle cx="141.7" cy="417.1" r="1.7" fill="#2c9cc6"/>
<circle cx="171.4" cy="416.7" r="1.7" fill="#2c9cc6"/>
<circle cx="145.2" cy="421.7" r="1.7" fill="#2c9cc6"/>
<circle cx="167.9" cy="421.7" r="1.7" fill="#2c9cc6"/>
<circle cx="156.1" cy="423.1" r="1.7" fill="#2c9cc6"/>
<circle cx="157.3" cy="426.0" r="1.7" fill="#2c9cc6"/>
<circle cx="145.2" cy="427.1" r="1.7" fill="#2c9cc6"/>
<circle cx="165.6" cy="426.0" r="1.7" fill="#2c9cc6"/>
<circle cx="164.8" cy="429.4" r="1.7" fill="#2c9cc6"/>
<circle cx="175.2" cy="428.3" r="1.7" fill="#2c9cc6"/>
<circle cx="163.6" cy="433.4" r="1.7" fill="#2c9cc6"/>
<circle cx="155.0" cy="439.2" r="1.7" fill="#2c9cc6"/>
<circle cx="148.1" cy="441.5" r="1.7" fill="#2c9cc6"/>
<circle cx="155.6" cy="443.8" r="1.7" fill="#2c9cc6"/>
<circle cx="110.8" cy="405.5" r="1.7" fill="#2c9cc6"/>
<circle cx="113.6" cy="407.8" r="1.7" fill="#a8102e"/>
<circle cx="103.6" cy="410.1" r="1.7" fill="#2c9cc6"/>
<circle cx="91.4" cy="421.0" r="1.7" fill="#2c9cc6"/>
<circle cx="97.2" cy="419.8" r="1.7" fill="#2c9cc6"/>
<circle cx="129.4" cy="419.6" r="1.7" fill="#2c9cc6"/>
<circle cx="136.7" cy="424.5" r="1.7" fill="#2c9cc6"/>
<circle cx="122.9" cy="426.3" r="1.7" fill="#2a923c"/>
<circle cx="110.2" cy="428.3" r="1.7" fill="#2c9cc6"/>
<circle cx="121.4" cy="434.8" r="1.7" fill="#2c9cc6"/>
<circle cx="123.4" cy="436.3" r="1.7" fill="#2c9cc6"/>
<circle cx="111.3" cy="438.1" r="1.7" fill="#2c9cc6"/>
<circle cx="131.8" cy="438.6" r="1.7" fill="#2c9cc6"/>
<circle cx="113.6" cy="444.4" r="1.7" fill="#2a923c"/>
<circle cx="140.7" cy="444.4" r="1.7" fill="#2c9cc6"/>
<circle cx="142.5" cy="450.5" r="1.7" fill="#2c9cc6"/>
<circle cx="144.0" cy="452.5" r="1.7" fill="#2c9cc6"/>
<circle cx="137.3" cy="454.2" r="1.7" fill="#2c9cc6"/>
<circle cx="157.3" cy="448.7" r="1.7" fill="#2c9cc6"/>
<circle cx="140.2" cy="466.3" r="1.7" fill="#2c9cc6"/>
<circle cx="145.8" cy="362.5" r="1.7" fill="#2c9cc6"/>
<circle cx="147.5" cy="364.8" r="1.7" fill="#2c9cc6"/>
<circle cx="154.8" cy="379.2" r="1.7" fill="#2c9cc6"/>
<circle cx="146.3" cy="384.8" r="1.7" fill="#2c9cc6"/>
<circle cx="166.0" cy="370.9" r="1.7" fill="#2c9cc6"/>
<circle cx="156.1" cy="391.7" r="1.7" fill="#2c9cc6"/>
<polyline points="26.4,340.8 116.3,301.0 211.5,333.5 185.6,418.0 130.0,489.2 55.0,427.0 26.4,340.8" fill="none" stroke="#1a1a1a" stroke-width="1.2" stroke-linejoin="miter" />
<line x1="26.4" y1="340.8" x2="23.799999999999997" y2="341.1" stroke="#1a1a1a" stroke-width="0.9"/>
<line x1="35.6568445475638" y1="368.7" x2="33.0568445475638" y2="369.0" stroke="#1a1a1a" stroke-width="0.9"/>
<line x1="43.38747099767981" y1="392.0" x2="40.78747099767981" y2="392.3" stroke="#1a1a1a" stroke-width="0.9"/>
<line x1="49.62505800464038" y1="410.8" x2="47.02505800464038" y2="411.1" stroke="#1a1a1a" stroke-width="0.9"/>
<line x1="55.0" y1="427.0" x2="52.4" y2="427.3" stroke="#1a1a1a" stroke-width="0.9"/>
<line x1="55" y1="427" x2="53.2" y2="429.0" stroke="#1a1a1a" stroke-width="0.9"/>
<line x1="66.5" y1="438.3" x2="64.7" y2="440.3" stroke="#1a1a1a" stroke-width="0.9"/>
<line x1="80.4" y1="448.3" x2="78.60000000000001" y2="450.3" stroke="#1a1a1a" stroke-width="0.9"/>
<line x1="95.3" y1="461.9" x2="93.5" y2="463.9" stroke="#1a1a1a" stroke-width="0.9"/>
<line x1="112.2" y1="475.9" x2="110.4" y2="477.9" stroke="#1a1a1a" stroke-width="0.9"/>
<line x1="130" y1="489.2" x2="132.2" y2="490.8" stroke="#1a1a1a" stroke-width="0.9"/>
<line x1="143.4" y1="474.2" x2="145.6" y2="475.8" stroke="#1a1a1a" stroke-width="0.9"/>
<line x1="154.6" y1="460.2" x2="156.79999999999998" y2="461.8" stroke="#1a1a1a" stroke-width="0.9"/>
<line x1="164" y1="446.4" x2="166.2" y2="448.0" stroke="#1a1a1a" stroke-width="0.9"/>
<line x1="173.4" y1="435.0" x2="175.6" y2="436.6" stroke="#1a1a1a" stroke-width="0.9"/>
<line x1="181.6" y1="425.4" x2="183.79999999999998" y2="427.0" stroke="#1a1a1a" stroke-width="0.9"/>
<rect x="48" y="508.4" width="6" height="5.6" fill="#e8891e"/>
<rect x="80.4" y="508.4" width="6.0" height="5.6" fill="#2f9e3f"/>
<rect x="110.4" y="508.4" width="6.0" height="5.6" fill="#b3123a"/>
<rect x="152.5" y="508.4" width="6.0" height="5.6" fill="#2f9fd0"/>
<path d="M248.15,480.00 L249.15,480.00 C273.32,480.00 282.53,480.00 306.70,480.00 L307.70,480.00 L307.70,485.60 L306.70,485.60 C282.53,485.60 273.32,485.60 249.15,485.60 L248.15,485.60 Z" fill="#1e89b1" fill-opacity="0.6"/>
<path d="M248.15,478.50 L249.15,478.50 C273.32,478.50 282.53,478.50 306.70,478.50 L307.70,478.50 L307.70,480.00 L306.70,480.00 C282.53,480.00 273.32,480.00 249.15,480.00 L248.15,480.00 Z" fill="#9aa0a8" fill-opacity="0.6"/>
<path d="M248.15,477.00 L249.15,477.00 C273.32,477.00 282.53,477.00 306.70,477.00 L307.70,477.00 L307.70,478.50 L306.70,478.50 C282.53,478.50 273.32,478.50 249.15,478.50 L248.15,478.50 Z" fill="#1e89b1" fill-opacity="0.6"/>
<path d="M248.15,475.50 L249.15,475.50 C273.32,475.50 282.53,475.50 306.70,475.50 L307.70,475.50 L307.70,477.00 L306.70,477.00 C282.53,477.00 273.32,477.00 249.15,477.00 L248.15,477.00 Z" fill="#9aa0a8" fill-opacity="0.6"/>
<path d="M248.15,465.70 L249.15,465.70 C273.32,465.70 282.53,439.40 306.70,439.40 L307.70,439.40 L307.70,449.20 L306.70,449.20 C282.53,449.20 273.32,475.50 249.15,475.50 L248.15,475.50 Z" fill="#1e89b1" fill-opacity="0.6"/>
<path d="M248.15,464.70 L249.15,464.70 C273.32,464.70 282.53,438.40 306.70,438.40 L307.70,438.40 L307.70,439.40 L306.70,439.40 C282.53,439.40 273.32,465.70 249.15,465.70 L248.15,465.70 Z" fill="#d9364f" fill-opacity="0.6"/>
<path d="M248.15,458.00 L249.15,458.00 C273.32,458.00 282.53,415.00 306.70,415.00 L307.70,415.00 L307.70,421.70 L306.70,421.70 C282.53,421.70 273.32,464.70 249.15,464.70 L248.15,464.70 Z" fill="#1e89b1" fill-opacity="0.6"/>
<path d="M248.15,457.00 L249.15,457.00 C273.32,457.00 282.53,414.00 306.70,414.00 L307.70,414.00 L307.70,415.00 L306.70,415.00 C282.53,415.00 273.32,458.00 249.15,458.00 L248.15,458.00 Z" fill="#d9364f" fill-opacity="0.6"/>
<path d="M248.15,445.00 L249.15,445.00 C273.32,445.00 282.53,402.00 306.70,402.00 L307.70,402.00 L307.70,414.00 L306.70,414.00 C282.53,414.00 273.32,457.00 249.15,457.00 L248.15,457.00 Z" fill="#1e89b1" fill-opacity="0.6"/>
<path d="M248.15,444.00 L249.15,444.00 C273.32,444.00 282.53,401.00 306.70,401.00 L307.70,401.00 L307.70,402.00 L306.70,402.00 C282.53,402.00 273.32,445.00 249.15,445.00 L248.15,445.00 Z" fill="#d9364f" fill-opacity="0.6"/>
<path d="M248.15,432.00 L249.15,432.00 C273.32,432.00 282.53,389.00 306.70,389.00 L307.70,389.00 L307.70,401.00 L306.70,401.00 C282.53,401.00 273.32,444.00 249.15,444.00 L248.15,444.00 Z" fill="#1e89b1" fill-opacity="0.6"/>
<path d="M248.15,429.50 L249.15,429.50 C273.32,429.50 282.53,386.50 306.70,386.50 L307.70,386.50 L307.70,389.00 L306.70,389.00 C282.53,389.00 273.32,432.00 249.15,432.00 L248.15,432.00 Z" fill="#d9364f" fill-opacity="0.6"/>
<path d="M248.15,428.00 L249.15,428.00 C273.32,428.00 282.53,385.00 306.70,385.00 L307.70,385.00 L307.70,386.50 L306.70,386.50 C282.53,386.50 273.32,429.50 249.15,429.50 L248.15,429.50 Z" fill="#e69a00" fill-opacity="0.6"/>
<path d="M248.15,425.00 L249.15,425.00 C273.32,425.00 282.53,382.00 306.70,382.00 L307.70,382.00 L307.70,385.00 L306.70,385.00 C282.53,385.00 273.32,428.00 249.15,428.00 L248.15,428.00 Z" fill="#d9364f" fill-opacity="0.6"/>
<path d="M248.15,422.00 L249.15,422.00 C273.32,422.00 282.53,351.00 306.70,351.00 L307.70,351.00 L307.70,354.00 L306.70,354.00 C282.53,354.00 273.32,425.00 249.15,425.00 L248.15,425.00 Z" fill="#1e89b1" fill-opacity="0.6"/>
<path d="M248.15,420.00 L249.15,420.00 C273.32,420.00 282.53,349.00 306.70,349.00 L307.70,349.00 L307.70,351.00 L306.70,351.00 C282.53,351.00 273.32,422.00 249.15,422.00 L248.15,422.00 Z" fill="#d9364f" fill-opacity="0.6"/>
<path d="M248.15,419.00 L249.15,419.00 C273.32,419.00 282.53,328.00 306.70,328.00 L307.70,328.00 L307.70,329.00 L306.70,329.00 C282.53,329.00 273.32,420.00 249.15,420.00 L248.15,420.00 Z" fill="#d9364f" fill-opacity="0.6"/>
<path d="M248.15,415.00 L249.15,415.00 C273.32,415.00 282.53,324.00 306.70,324.00 L307.70,324.00 L307.70,328.00 L306.70,328.00 C282.53,328.00 273.32,419.00 249.15,419.00 L248.15,419.00 Z" fill="#1e89b1" fill-opacity="0.6"/>
<path d="M248.15,388.70 L249.15,388.70 C273.32,388.70 282.53,449.20 306.70,449.20 L307.70,449.20 L307.70,475.50 L306.70,475.50 C282.53,475.50 273.32,415.00 249.15,415.00 L248.15,415.00 Z" fill="#1e89b1" fill-opacity="0.6"/>
<path d="M248.15,372.00 L249.15,372.00 C273.32,372.00 282.53,421.70 306.70,421.70 L307.70,421.70 L307.70,438.40 L306.70,438.40 C282.53,438.40 273.32,388.70 249.15,388.70 L248.15,388.70 Z" fill="#1e89b1" fill-opacity="0.6"/>
<path d="M248.15,344.00 L249.15,344.00 C273.32,344.00 282.53,354.00 306.70,354.00 L307.70,354.00 L307.70,382.00 L306.70,382.00 C282.53,382.00 273.32,372.00 249.15,372.00 L248.15,372.00 Z" fill="#1e89b1" fill-opacity="0.6"/>
<path d="M248.15,338.00 L249.15,338.00 C273.32,338.00 282.53,343.00 306.70,343.00 L307.70,343.00 L307.70,349.00 L306.70,349.00 C282.53,349.00 273.32,344.00 249.15,344.00 L248.15,344.00 Z" fill="#d9364f" fill-opacity="0.6"/>
<path d="M248.15,324.00 L249.15,324.00 C273.32,324.00 282.53,329.00 306.70,329.00 L307.70,329.00 L307.70,343.00 L306.70,343.00 C282.53,343.00 273.32,338.00 249.15,338.00 L248.15,338.00 Z" fill="#1e89b1" fill-opacity="0.6"/>
<path d="M248.15,323.00 L249.15,323.00 C273.32,323.00 282.53,323.00 306.70,323.00 L307.70,323.00 L307.70,324.00 L306.70,324.00 C282.53,324.00 273.32,324.00 249.15,324.00 L248.15,324.00 Z" fill="#d9364f" fill-opacity="0.6"/>
<path d="M248.15,320.60 L249.15,320.60 C273.32,320.60 282.53,320.60 306.70,320.60 L307.70,320.60 L307.70,323.00 L306.70,323.00 C282.53,323.00 273.32,323.00 249.15,323.00 L248.15,323.00 Z" fill="#1e89b1" fill-opacity="0.6"/>
<path d="M248.15,319.30 L249.15,319.30 C273.32,319.30 282.53,319.30 306.70,319.30 L307.70,319.30 L307.70,320.60 L306.70,320.60 C282.53,320.60 273.32,320.60 249.15,320.60 L248.15,320.60 Z" fill="#5aaa28" fill-opacity="0.6"/>
<path d="M334.30,319.30 L335.30,319.30 C359.45,319.30 368.65,319.30 392.80,319.30 L393.80,319.30 L393.80,320.10 L392.80,320.10 C368.65,320.10 359.45,320.10 335.30,320.10 L334.30,320.10 Z" fill="#e69a00" fill-opacity="0.6"/>
<path d="M334.30,320.10 L335.30,320.10 C359.45,320.10 368.65,320.10 392.80,320.10 L393.80,320.10 L393.80,321.70 L392.80,321.70 C368.65,321.70 359.45,321.70 335.30,321.70 L334.30,321.70 Z" fill="#d9364f" fill-opacity="0.6"/>
<path d="M334.30,321.70 L335.30,321.70 C359.45,321.70 368.65,321.70 392.80,321.70 L393.80,321.70 L393.80,322.50 L392.80,322.50 C368.65,322.50 359.45,322.50 335.30,322.50 L334.30,322.50 Z" fill="#5aaa28" fill-opacity="0.6"/>
<path d="M334.30,322.50 L335.30,322.50 C359.45,322.50 368.65,327.30 392.80,327.30 L393.80,327.30 L393.80,328.09 L392.80,328.09 C368.65,328.09 359.45,323.30 335.30,323.30 L334.30,323.30 Z" fill="#1e89b1" fill-opacity="0.6"/>
<path d="M334.30,323.30 L335.30,323.30 C359.45,323.30 368.65,329.69 392.80,329.69 L393.80,329.69 L393.80,330.49 L392.80,330.49 C368.65,330.49 359.45,324.10 335.30,324.10 L334.30,324.10 Z" fill="#d9364f" fill-opacity="0.6"/>
<path d="M334.30,324.10 L335.30,324.10 C359.45,324.10 368.65,350.48 392.80,350.48 L393.80,350.48 L393.80,352.08 L392.80,352.08 C368.65,352.08 359.45,325.70 335.30,325.70 L334.30,325.70 Z" fill="#1e89b1" fill-opacity="0.6"/>
<path d="M334.30,325.70 L335.30,325.70 C359.45,325.70 368.65,323.30 392.80,323.30 L393.80,323.30 L393.80,324.10 L392.80,324.10 C368.65,324.10 359.45,326.50 335.30,326.50 L334.30,326.50 Z" fill="#d9364f" fill-opacity="0.6"/>
<path d="M334.30,326.50 L335.30,326.50 C359.45,326.50 368.65,328.09 392.80,328.09 L393.80,328.09 L393.80,328.89 L392.80,328.89 C368.65,328.89 359.45,327.30 335.30,327.30 L334.30,327.30 Z" fill="#1e89b1" fill-opacity="0.6"/>
<path d="M334.30,327.30 L335.30,327.30 C359.45,327.30 368.65,330.49 392.80,330.49 L393.80,330.49 L393.80,331.29 L392.80,331.29 C368.65,331.29 359.45,328.09 335.30,328.09 L334.30,328.09 Z" fill="#d9364f" fill-opacity="0.6"/>
<path d="M334.30,328.09 L335.30,328.09 C359.45,328.09 368.65,343.29 392.80,343.29 L393.80,343.29 L393.80,344.09 L392.80,344.09 C368.65,344.09 359.45,328.89 335.30,328.89 L334.30,328.89 Z" fill="#5aaa28" fill-opacity="0.6"/>
<path d="M334.30,328.89 L335.30,328.89 C359.45,328.89 368.65,324.10 392.80,324.10 L393.80,324.10 L393.80,325.70 L392.80,325.70 C368.65,325.70 359.45,330.49 335.30,330.49 L334.30,330.49 Z" fill="#d9364f" fill-opacity="0.6"/>
<path d="M334.30,330.49 L335.30,330.49 C359.45,330.49 368.65,331.29 392.80,331.29 L393.80,331.29 L393.80,335.29 L392.80,335.29 C368.65,335.29 359.45,334.49 335.30,334.49 L334.30,334.49 Z" fill="#d9364f" fill-opacity="0.6"/>
<path d="M334.30,334.49 L335.30,334.49 C359.45,334.49 368.65,344.09 392.80,344.09 L393.80,344.09 L393.80,346.48 L392.80,346.48 C368.65,346.48 359.45,336.89 335.30,336.89 L334.30,336.89 Z" fill="#5aaa28" fill-opacity="0.6"/>
<path d="M334.30,336.89 L335.30,336.89 C359.45,336.89 368.65,352.08 392.80,352.08 L393.80,352.08 L393.80,360.08 L392.80,360.08 C368.65,360.08 359.45,344.88 335.30,344.88 L334.30,344.88 Z" fill="#1e89b1" fill-opacity="0.6"/>
<path d="M334.30,344.88 L335.30,344.88 C359.45,344.88 368.65,400.85 392.80,400.85 L393.80,400.85 L393.80,402.45 L392.80,402.45 C368.65,402.45 359.45,346.48 335.30,346.48 L334.30,346.48 Z" fill="#1e89b1" fill-opacity="0.6"/>
<path d="M334.30,346.48 L335.30,346.48 C359.45,346.48 368.65,431.23 392.80,431.23 L393.80,431.23 L393.80,433.63 L392.80,433.63 C368.65,433.63 359.45,348.88 335.30,348.88 L334.30,348.88 Z" fill="#1e89b1" fill-opacity="0.6"/>
<path d="M334.30,348.88 L335.30,348.88 C359.45,348.88 368.65,322.50 392.80,322.50 L393.80,322.50 L393.80,323.30 L392.80,323.30 C368.65,323.30 359.45,349.68 335.30,349.68 L334.30,349.68 Z" fill="#5aaa28" fill-opacity="0.6"/>
<path d="M334.30,349.68 L335.30,349.68 C359.45,349.68 368.65,325.70 392.80,325.70 L393.80,325.70 L393.80,326.50 L392.80,326.50 C368.65,326.50 359.45,350.48 335.30,350.48 L334.30,350.48 Z" fill="#5aaa28" fill-opacity="0.6"/>
<path d="M334.30,350.48 L335.30,350.48 C359.45,350.48 368.65,360.08 392.80,360.08 L393.80,360.08 L393.80,361.67 L392.80,361.67 C368.65,361.67 359.45,352.08 335.30,352.08 L334.30,352.08 Z" fill="#1e89b1" fill-opacity="0.6"/>
<path d="M334.30,352.08 L335.30,352.08 C359.45,352.08 368.65,402.45 392.80,402.45 L393.80,402.45 L393.80,404.05 L392.80,404.05 C368.65,404.05 359.45,353.68 335.30,353.68 L334.30,353.68 Z" fill="#1e89b1" fill-opacity="0.6"/>
<path d="M334.30,353.68 L335.30,353.68 C359.45,353.68 368.65,326.50 392.80,326.50 L393.80,326.50 L393.80,327.30 L392.80,327.30 C368.65,327.30 359.45,354.48 335.30,354.48 L334.30,354.48 Z" fill="#5aaa28" fill-opacity="0.6"/>
<path d="M334.30,354.48 L335.30,354.48 C359.45,354.48 368.65,328.89 392.80,328.89 L393.80,328.89 L393.80,329.69 L392.80,329.69 C368.65,329.69 359.45,355.28 335.30,355.28 L334.30,355.28 Z" fill="#e69a00" fill-opacity="0.6"/>
<path d="M334.30,355.28 L335.30,355.28 C359.45,355.28 368.65,335.29 392.80,335.29 L393.80,335.29 L393.80,337.69 L392.80,337.69 C368.65,337.69 359.45,357.68 335.30,357.68 L334.30,357.68 Z" fill="#d9364f" fill-opacity="0.6"/>
<path d="M334.30,357.68 L335.30,357.68 C359.45,357.68 368.65,346.48 392.80,346.48 L393.80,346.48 L393.80,348.88 L392.80,348.88 C368.65,348.88 359.45,360.08 335.30,360.08 L334.30,360.08 Z" fill="#5aaa28" fill-opacity="0.6"/>
<path d="M334.30,360.08 L335.30,360.08 C359.45,360.08 368.65,361.67 392.80,361.67 L393.80,361.67 L393.80,377.66 L392.80,377.66 C368.65,377.66 359.45,376.07 335.30,376.07 L334.30,376.07 Z" fill="#1e89b1" fill-opacity="0.6"/>
<path d="M334.30,376.07 L335.30,376.07 C359.45,376.07 368.65,397.65 392.80,397.65 L393.80,397.65 L393.80,399.25 L392.80,399.25 C368.65,399.25 359.45,377.66 335.30,377.66 L334.30,377.66 Z" fill="#d9364f" fill-opacity="0.6"/>
<path d="M334.30,377.66 L335.30,377.66 C359.45,377.66 368.65,404.05 392.80,404.05 L393.80,404.05 L393.80,412.04 L392.80,412.04 C368.65,412.04 359.45,385.66 335.30,385.66 L334.30,385.66 Z" fill="#1e89b1" fill-opacity="0.6"/>
<path d="M334.30,385.66 L335.30,385.66 C359.45,385.66 368.65,428.03 392.80,428.03 L393.80,428.03 L393.80,428.83 L392.80,428.83 C368.65,428.83 359.45,386.46 335.30,386.46 L334.30,386.46 Z" fill="#d9364f" fill-opacity="0.6"/>
<path d="M334.30,386.46 L335.30,386.46 C359.45,386.46 368.65,433.63 392.80,433.63 L393.80,433.63 L393.80,442.43 L392.80,442.43 C368.65,442.43 359.45,395.25 335.30,395.25 L334.30,395.25 Z" fill="#1e89b1" fill-opacity="0.6"/>
<path d="M334.30,395.25 L335.30,395.25 C359.45,395.25 368.65,337.69 392.80,337.69 L393.80,337.69 L393.80,341.69 L392.80,341.69 C368.65,341.69 359.45,399.25 335.30,399.25 L334.30,399.25 Z" fill="#d9364f" fill-opacity="0.6"/>
<path d="M334.30,399.25 L335.30,399.25 C359.45,399.25 368.65,348.88 392.80,348.88 L393.80,348.88 L393.80,349.68 L392.80,349.68 C368.65,349.68 359.45,400.05 335.30,400.05 L334.30,400.05 Z" fill="#5aaa28" fill-opacity="0.6"/>
<path d="M334.30,400.05 L335.30,400.05 C359.45,400.05 368.65,377.66 392.80,377.66 L393.80,377.66 L393.80,388.06 L392.80,388.06 C368.65,388.06 359.45,410.45 335.30,410.45 L334.30,410.45 Z" fill="#1e89b1" fill-opacity="0.6"/>
<path d="M334.30,410.45 L335.30,410.45 C359.45,410.45 368.65,400.05 392.80,400.05 L393.80,400.05 L393.80,400.85 L392.80,400.85 C368.65,400.85 359.45,411.24 335.30,411.24 L334.30,411.24 Z" fill="#5aaa28" fill-opacity="0.6"/>
<path d="M334.30,411.24 L335.30,411.24 C359.45,411.24 368.65,412.04 392.80,412.04 L393.80,412.04 L393.80,416.04 L392.80,416.04 C368.65,416.04 359.45,415.24 335.30,415.24 L334.30,415.24 Z" fill="#1e89b1" fill-opacity="0.6"/>
<path d="M334.30,415.24 L335.30,415.24 C359.45,415.24 368.65,442.43 392.80,442.43 L393.80,442.43 L393.80,448.82 L392.80,448.82 C368.65,448.82 359.45,421.64 335.30,421.64 L334.30,421.64 Z" fill="#1e89b1" fill-opacity="0.6"/>
<path d="M334.30,421.64 L335.30,421.64 C359.45,421.64 368.65,341.69 392.80,341.69 L393.80,341.69 L393.80,343.29 L392.80,343.29 C368.65,343.29 359.45,423.24 335.30,423.24 L334.30,423.24 Z" fill="#d9364f" fill-opacity="0.6"/>
<path d="M334.30,423.24 L335.30,423.24 C359.45,423.24 368.65,388.06 392.80,388.06 L393.80,388.06 L393.80,391.26 L392.80,391.26 C368.65,391.26 359.45,426.44 335.30,426.44 L334.30,426.44 Z" fill="#1e89b1" fill-opacity="0.6"/>
<path d="M334.30,426.44 L335.30,426.44 C359.45,426.44 368.65,396.85 392.80,396.85 L393.80,396.85 L393.80,397.65 L392.80,397.65 C368.65,397.65 359.45,427.24 335.30,427.24 L334.30,427.24 Z" fill="#e69a00" fill-opacity="0.6"/>
<path d="M334.30,427.24 L335.30,427.24 C359.45,427.24 368.65,416.04 392.80,416.04 L393.80,416.04 L393.80,418.44 L392.80,418.44 C368.65,418.44 359.45,429.63 335.30,429.63 L334.30,429.63 Z" fill="#1e89b1" fill-opacity="0.6"/>
<path d="M334.30,429.63 L335.30,429.63 C359.45,429.63 368.65,448.82 392.80,448.82 L393.80,448.82 L393.80,452.82 L392.80,452.82 C368.65,452.82 359.45,433.63 335.30,433.63 L334.30,433.63 Z" fill="#1e89b1" fill-opacity="0.6"/>
<path d="M334.30,433.63 L335.30,433.63 C359.45,433.63 368.65,349.68 392.80,349.68 L393.80,349.68 L393.80,350.48 L392.80,350.48 C368.65,350.48 359.45,434.43 335.30,434.43 L334.30,434.43 Z" fill="#5aaa28" fill-opacity="0.6"/>
<path d="M334.30,434.43 L335.30,434.43 C359.45,434.43 368.65,391.26 392.80,391.26 L393.80,391.26 L393.80,392.06 L392.80,392.06 C368.65,392.06 359.45,435.23 335.30,435.23 L334.30,435.23 Z" fill="#1e89b1" fill-opacity="0.6"/>
<path d="M334.30,435.23 L335.30,435.23 C359.45,435.23 368.65,418.44 392.80,418.44 L393.80,418.44 L393.80,423.24 L392.80,423.24 C368.65,423.24 359.45,440.03 335.30,440.03 L334.30,440.03 Z" fill="#1e89b1" fill-opacity="0.6"/>
<path d="M334.30,440.03 L335.30,440.03 C359.45,440.03 368.65,428.83 392.80,428.83 L393.80,428.83 L393.80,429.63 L392.80,429.63 C368.65,429.63 359.45,440.83 335.30,440.83 L334.30,440.83 Z" fill="#d9364f" fill-opacity="0.6"/>
<path d="M334.30,440.83 L335.30,440.83 C359.45,440.83 368.65,452.82 392.80,452.82 L393.80,452.82 L393.80,460.81 L392.80,460.81 C368.65,460.81 359.45,448.82 335.30,448.82 L334.30,448.82 Z" fill="#1e89b1" fill-opacity="0.6"/>
<path d="M334.30,448.82 L335.30,448.82 C359.45,448.82 368.65,392.06 392.80,392.06 L393.80,392.06 L393.80,392.86 L392.80,392.86 C368.65,392.86 359.45,449.62 335.30,449.62 L334.30,449.62 Z" fill="#1e89b1" fill-opacity="0.6"/>
<path d="M334.30,449.62 L335.30,449.62 C359.45,449.62 368.65,399.25 392.80,399.25 L393.80,399.25 L393.80,400.05 L392.80,400.05 C368.65,400.05 359.45,450.42 335.30,450.42 L334.30,450.42 Z" fill="#d9364f" fill-opacity="0.6"/>
<path d="M334.30,450.42 L335.30,450.42 C359.45,450.42 368.65,423.24 392.80,423.24 L393.80,423.24 L393.80,425.64 L392.80,425.64 C368.65,425.64 359.45,452.82 335.30,452.82 L334.30,452.82 Z" fill="#1e89b1" fill-opacity="0.6"/>
<path d="M334.30,452.82 L335.30,452.82 C359.45,452.82 368.65,429.63 392.80,429.63 L393.80,429.63 L393.80,430.43 L392.80,430.43 C368.65,430.43 359.45,453.62 335.30,453.62 L334.30,453.62 Z" fill="#d9364f" fill-opacity="0.6"/>
<path d="M334.30,453.62 L335.30,453.62 C359.45,453.62 368.65,460.81 392.80,460.81 L393.80,460.81 L393.80,472.01 L392.80,472.01 C368.65,472.01 359.45,464.81 335.30,464.81 L334.30,464.81 Z" fill="#1e89b1" fill-opacity="0.6"/>
<path d="M334.30,464.81 L335.30,464.81 C359.45,464.81 368.65,392.86 392.80,392.86 L393.80,392.86 L393.80,396.85 L392.80,396.85 C368.65,396.85 359.45,468.81 335.30,468.81 L334.30,468.81 Z" fill="#1e89b1" fill-opacity="0.6"/>
<path d="M334.30,468.81 L335.30,468.81 C359.45,468.81 368.65,425.64 392.80,425.64 L393.80,425.64 L393.80,428.03 L392.80,428.03 C368.65,428.03 359.45,471.21 335.30,471.21 L334.30,471.21 Z" fill="#1e89b1" fill-opacity="0.6"/>
<path d="M334.30,471.21 L335.30,471.21 C359.45,471.21 368.65,430.43 392.80,430.43 L393.80,430.43 L393.80,431.23 L392.80,431.23 C368.65,431.23 359.45,472.01 335.30,472.01 L334.30,472.01 Z" fill="#5aaa28" fill-opacity="0.6"/>
<path d="M334.30,472.01 L335.30,472.01 C359.45,472.01 368.65,472.01 392.80,472.01 L393.80,472.01 L393.80,485.60 L392.80,485.60 C368.65,485.60 359.45,485.60 335.30,485.60 L334.30,485.60 Z" fill="#1e89b1" fill-opacity="0.6"/>
<path d="M420.40,319.30 L421.40,319.30 C445.74,319.30 455.01,319.30 479.35,319.30 L480.35,319.30 L480.35,320.10 L479.35,320.10 C455.01,320.10 445.74,320.10 421.40,320.10 L420.40,320.10 Z" fill="#e69a00" fill-opacity="0.6"/>
<path d="M420.40,320.10 L421.40,320.10 C445.74,320.10 455.01,321.70 479.35,321.70 L480.35,321.70 L480.35,323.30 L479.35,323.30 C455.01,323.30 445.74,321.70 421.40,321.70 L420.40,321.70 Z" fill="#d9364f" fill-opacity="0.6"/>
<path d="M420.40,321.70 L421.40,321.70 C445.74,321.70 455.01,344.09 479.35,344.09 L480.35,344.09 L480.35,345.68 L479.35,345.68 C455.01,345.68 445.74,323.30 421.40,323.30 L420.40,323.30 Z" fill="#5aaa28" fill-opacity="0.6"/>
<path d="M420.40,323.30 L421.40,323.30 C445.74,323.30 455.01,323.30 479.35,323.30 L480.35,323.30 L480.35,325.70 L479.35,325.70 C455.01,325.70 445.74,325.70 421.40,325.70 L420.40,325.70 Z" fill="#d9364f" fill-opacity="0.6"/>
<path d="M420.40,325.70 L421.40,325.70 C445.74,325.70 455.01,345.68 479.35,345.68 L480.35,345.68 L480.35,347.28 L479.35,347.28 C455.01,347.28 445.74,327.30 421.40,327.30 L420.40,327.30 Z" fill="#5aaa28" fill-opacity="0.6"/>
<path d="M420.40,327.30 L421.40,327.30 C445.74,327.30 455.01,356.08 479.35,356.08 L480.35,356.08 L480.35,357.68 L479.35,357.68 C455.01,357.68 445.74,328.89 421.40,328.89 L420.40,328.89 Z" fill="#1e89b1" fill-opacity="0.6"/>
<path d="M420.40,328.89 L421.40,328.89 C445.74,328.89 455.01,320.10 479.35,320.10 L480.35,320.10 L480.35,320.90 L479.35,320.90 C455.01,320.90 445.74,329.69 421.40,329.69 L420.40,329.69 Z" fill="#e69a00" fill-opacity="0.6"/>
<path d="M420.40,329.69 L421.40,329.69 C445.74,329.69 455.01,325.70 479.35,325.70 L480.35,325.70 L480.35,339.29 L479.35,339.29 C455.01,339.29 445.74,343.29 421.40,343.29 L420.40,343.29 Z" fill="#d9364f" fill-opacity="0.6"/>
<path d="M420.40,343.29 L421.40,343.29 C445.74,343.29 455.01,347.28 479.35,347.28 L480.35,347.28 L480.35,354.48 L479.35,354.48 C455.01,354.48 445.74,350.48 421.40,350.48 L420.40,350.48 Z" fill="#5aaa28" fill-opacity="0.6"/>
<path d="M420.40,350.48 L421.40,350.48 C445.74,350.48 455.01,357.68 479.35,357.68 L480.35,357.68 L480.35,404.05 L479.35,404.05 C455.01,404.05 445.74,396.85 421.40,396.85 L420.40,396.85 Z" fill="#1e89b1" fill-opacity="0.6"/>
<path d="M420.40,396.85 L421.40,396.85 C445.74,396.85 455.01,320.90 479.35,320.90 L480.35,320.90 L480.35,321.70 L479.35,321.70 C455.01,321.70 445.74,397.65 421.40,397.65 L420.40,397.65 Z" fill="#e69a00" fill-opacity="0.6"/>
<path d="M420.40,397.65 L421.40,397.65 C445.74,397.65 455.01,339.29 479.35,339.29 L480.35,339.29 L480.35,341.69 L479.35,341.69 C455.01,341.69 445.74,400.05 421.40,400.05 L420.40,400.05 Z" fill="#d9364f" fill-opacity="0.6"/>
<path d="M420.40,400.05 L421.40,400.05 C445.74,400.05 455.01,354.48 479.35,354.48 L480.35,354.48 L480.35,355.28 L479.35,355.28 C455.01,355.28 445.74,400.85 421.40,400.85 L420.40,400.85 Z" fill="#5aaa28" fill-opacity="0.6"/>
<path d="M420.40,400.85 L421.40,400.85 C445.74,400.85 455.01,404.05 479.35,404.05 L480.35,404.05 L480.35,431.23 L479.35,431.23 C455.01,431.23 445.74,428.03 421.40,428.03 L420.40,428.03 Z" fill="#1e89b1" fill-opacity="0.6"/>
<path d="M420.40,428.03 L421.40,428.03 C445.74,428.03 455.01,341.69 479.35,341.69 L480.35,341.69 L480.35,344.09 L479.35,344.09 C455.01,344.09 445.74,430.43 421.40,430.43 L420.40,430.43 Z" fill="#d9364f" fill-opacity="0.6"/>
<path d="M420.40,430.43 L421.40,430.43 C445.74,430.43 455.01,355.28 479.35,355.28 L480.35,355.28 L480.35,356.08 L479.35,356.08 C455.01,356.08 445.74,431.23 421.40,431.23 L420.40,431.23 Z" fill="#5aaa28" fill-opacity="0.6"/>
<path d="M420.40,431.23 L421.40,431.23 C445.74,431.23 455.01,431.23 479.35,431.23 L480.35,431.23 L480.35,485.60 L479.35,485.60 C455.01,485.60 445.74,485.60 421.40,485.60 L420.40,485.60 Z" fill="#1e89b1" fill-opacity="0.6"/>
<rect x="220.55" y="319.30" width="28.6" height="95.94" fill="#fff" stroke="#1a1a1a" stroke-width="1.2"/>
<rect x="220.55" y="415.24" width="28.6" height="70.36" fill="#fff" stroke="#1a1a1a" stroke-width="1.2"/>
<rect x="306.70" y="319.30" width="28.6" height="9.59" fill="#fff" stroke="#1a1a1a" stroke-width="1.2"/>
<rect x="306.70" y="328.89" width="28.6" height="24.79" fill="#fff" stroke="#1a1a1a" stroke-width="1.2"/>
<rect x="306.70" y="353.68" width="28.6" height="67.96" fill="#fff" stroke="#1a1a1a" stroke-width="1.2"/>
<rect x="306.70" y="421.64" width="28.6" height="27.18" fill="#fff" stroke="#1a1a1a" stroke-width="1.2"/>
<rect x="306.70" y="448.82" width="28.6" height="36.78" fill="#fff" stroke="#1a1a1a" stroke-width="1.2"/>
<rect x="392.80" y="319.30" width="28.6" height="4.00" fill="#fff" stroke="#1a1a1a" stroke-width="1.2"/>
<rect x="392.80" y="323.30" width="28.6" height="5.60" fill="#fff" stroke="#1a1a1a" stroke-width="1.2"/>
<rect x="392.80" y="328.89" width="28.6" height="67.96" fill="#fff" stroke="#1a1a1a" stroke-width="1.2"/>
<rect x="392.80" y="396.85" width="28.6" height="31.18" fill="#fff" stroke="#1a1a1a" stroke-width="1.2"/>
<rect x="392.80" y="428.03" width="28.6" height="57.57" fill="#fff" stroke="#1a1a1a" stroke-width="1.2"/>
<rect x="479.35" y="319.30" width="28.6" height="2.40" fill="#fff"/>
<path d="M507.95,319.30 H479.35 V321.70 H507.95" fill="none" stroke="#1a1a1a" stroke-width="1.2"/>
<line x1="507.95" y1="319.30" x2="507.95" y2="321.70" stroke="#9a9a9a" stroke-width="0.9"/>
<rect x="479.35" y="321.70" width="28.6" height="22.39" fill="#fff"/>
<path d="M507.95,321.70 H479.35 V344.09 H507.95" fill="none" stroke="#1a1a1a" stroke-width="1.2"/>
<line x1="507.95" y1="321.70" x2="507.95" y2="344.09" stroke="#9a9a9a" stroke-width="0.9"/>
<rect x="479.35" y="344.09" width="28.6" height="11.99" fill="#fff"/>
<path d="M507.95,344.09 H479.35 V356.08 H507.95" fill="none" stroke="#1a1a1a" stroke-width="1.2"/>
<line x1="507.95" y1="344.09" x2="507.95" y2="356.08" stroke="#9a9a9a" stroke-width="0.9"/>
<rect x="479.35" y="356.08" width="28.6" height="129.52" fill="#fff"/>
<path d="M507.95,356.08 H479.35 V485.60 H507.95" fill="none" stroke="#1a1a1a" stroke-width="1.2"/>
<line x1="507.95" y1="356.08" x2="507.95" y2="485.60" stroke="#9a9a9a" stroke-width="0.9"/>
<line x1="234.85" y1="488.6" x2="234.85" y2="494.1" stroke="#e2e2e2" stroke-width="0.8"/>
<line x1="321.0" y1="488.6" x2="321.0" y2="494.1" stroke="#e2e2e2" stroke-width="0.8"/>
<line x1="407.1" y1="488.6" x2="407.1" y2="494.1" stroke="#e2e2e2" stroke-width="0.8"/>
<line x1="493.65" y1="488.6" x2="493.65" y2="494.1" stroke="#e2e2e2" stroke-width="0.8"/>
<defs><filter id="idf" filterUnits="userSpaceOnUse" x="0" y="0" width="520" height="522"><feOffset dx="0" dy="0"/></filter></defs>
<g filter="url(#idf)"><text transform="translate(13.3,65.4) rotate(-90)" font-size="8" fill="#1a1a1a" stroke="#1a1a1a" stroke-width="0.15" textLength="18.8" lengthAdjust="spacingAndGlyphs">CD34</text><text transform="translate(21.9,65.4) rotate(-90)" font-size="8" fill="#1a1a1a" stroke="#1a1a1a" stroke-width="0.15" textLength="14.9" lengthAdjust="spacingAndGlyphs">CD3</text><text transform="translate(30.2,65.4) rotate(-90)" font-size="8" fill="#1a1a1a" stroke="#1a1a1a" stroke-width="0.15" textLength="43.4" lengthAdjust="spacingAndGlyphs">Lymph node</text><text x="453.5" y="39.7" font-size="8" text-anchor="start" fill="#333" font-weight="normal" stroke="#333" stroke-width="0.15" textLength="60" lengthAdjust="spacingAndGlyphs" >Risk stratification</text><text x="453.5" y="47.9" font-size="8" text-anchor="start" fill="#333" font-weight="normal" stroke="#333" stroke-width="0.15" >Outcome</text><text x="453.5" y="56.2" font-size="8" text-anchor="start" fill="#333" font-weight="normal" stroke="#333" stroke-width="0.15" >Death</text><text x="453.5" y="64.3" font-size="8" text-anchor="start" fill="#333" font-weight="normal" stroke="#333" stroke-width="0.15" >CIMP</text><text x="453.5" y="78.2" font-size="8" text-anchor="start" fill="#333" font-weight="normal" stroke="#333" stroke-width="0.15" textLength="26.5" lengthAdjust="spacingAndGlyphs" >β-values</text><text x="464" y="85.8" font-size="8" text-anchor="start" fill="#333" font-weight="normal" stroke="#333" stroke-width="0.15" >1</text><text x="464" y="100.8" font-size="8" text-anchor="start" fill="#333" font-weight="normal" stroke="#333" stroke-width="0.15" >0.5</text><text x="464" y="115.8" font-size="8" text-anchor="start" fill="#333" font-weight="normal" stroke="#333" stroke-width="0.15" >0</text><text x="453.5" y="127.39999999999999" font-size="8" text-anchor="start" fill="#333" font-weight="normal" stroke="#333" stroke-width="0.15" textLength="55.63" lengthAdjust="spacingAndGlyphs" >Risk stratification</text><text x="461.7" y="136.3" font-size="8" text-anchor="start" fill="#333" font-weight="normal" stroke="#333" stroke-width="0.15" textLength="34.79" lengthAdjust="spacingAndGlyphs" >HR-chemo</text><text x="461.7" y="145.20000000000002" font-size="8" text-anchor="start" fill="#333" font-weight="normal" stroke="#333" stroke-width="0.15" textLength="27.5" lengthAdjust="spacingAndGlyphs" >HR-SCT</text><text x="461.7" y="154.10000000000002" font-size="8" text-anchor="start" fill="#333" font-weight="normal" stroke="#333" stroke-width="0.15" textLength="7.28" lengthAdjust="spacingAndGlyphs" >IR</text><text x="461.7" y="163.0" font-size="8" text-anchor="start" fill="#333" font-weight="normal" stroke="#333" stroke-width="0.15" textLength="10.11" lengthAdjust="spacingAndGlyphs" >NS</text><text x="453.5" y="176.60000000000002" font-size="8" text-anchor="start" fill="#333" font-weight="normal" stroke="#333" stroke-width="0.15" textLength="29.86" lengthAdjust="spacingAndGlyphs" >Outcome</text><text x="461.7" y="185.50000000000003" font-size="8" text-anchor="start" fill="#333" font-weight="normal" stroke="#333" stroke-width="0.15" textLength="10.52" lengthAdjust="spacingAndGlyphs" >CR</text><text x="461.7" y="194.40000000000003" font-size="8" text-anchor="start" fill="#333" font-weight="normal" stroke="#333" stroke-width="0.15" textLength="15.77" lengthAdjust="spacingAndGlyphs" >DCR</text><text x="461.7" y="203.3" font-size="8" text-anchor="start" fill="#333" font-weight="normal" stroke="#333" stroke-width="0.15" textLength="6.47" lengthAdjust="spacingAndGlyphs" >IF</text><text x="461.7" y="212.20000000000002" font-size="8" text-anchor="start" fill="#333" font-weight="normal" stroke="#333" stroke-width="0.15" textLength="26.71" lengthAdjust="spacingAndGlyphs" >Relapse</text><text x="461.7" y="221.10000000000002" font-size="8" text-anchor="start" fill="#333" font-weight="normal" stroke="#333" stroke-width="0.15" textLength="16.18" lengthAdjust="spacingAndGlyphs" >SMN</text><text x="453.5" y="234.70000000000002" font-size="8" text-anchor="start" fill="#333" font-weight="normal" stroke="#333" stroke-width="0.15" textLength="19.64" lengthAdjust="spacingAndGlyphs" >Death</text><text x="461.7" y="243.60000000000002" font-size="8" text-anchor="start" fill="#333" font-weight="normal" stroke="#333" stroke-width="0.15" textLength="14.98" lengthAdjust="spacingAndGlyphs" >alive</text><text x="461.7" y="252.50000000000003" font-size="8" text-anchor="start" fill="#333" font-weight="normal" stroke="#333" stroke-width="0.15" textLength="31.58" lengthAdjust="spacingAndGlyphs" >deceased</text><text x="453.5" y="266.3" font-size="8" text-anchor="start" fill="#333" font-weight="normal" stroke="#333" stroke-width="0.15" textLength="18.4" lengthAdjust="spacingAndGlyphs" >CIMP</text><text x="461.7" y="275.2" font-size="8" text-anchor="start" fill="#333" font-weight="normal" stroke="#333" stroke-width="0.15" textLength="31.02" lengthAdjust="spacingAndGlyphs" >CIMP low</text><text x="461.7" y="284.1" font-size="8" text-anchor="start" fill="#333" font-weight="normal" stroke="#333" stroke-width="0.15" textLength="33.86" lengthAdjust="spacingAndGlyphs" >CIMP high</text><text x="6.6" y="16.1" font-size="11.6" text-anchor="start" fill="#111" font-weight="bold" stroke="#111" stroke-width="0.15" >A</text><text x="7.2" y="310.3" font-size="11.2" text-anchor="start" fill="#111" font-weight="bold" stroke="#111" stroke-width="0.15" >B</text><text x="220.3" y="310.0" font-size="11.2" text-anchor="start" fill="#111" font-weight="bold" stroke="#111" stroke-width="0.15" >C</text><text x="17.8" y="343.4" font-size="8" text-anchor="middle" fill="#333" font-weight="normal" stroke="#333" stroke-width="0.15" >2</text><text x="25.2" y="371.9" font-size="8" text-anchor="middle" fill="#333" font-weight="normal" stroke="#333" stroke-width="0.15" >0</text><text x="33.6" y="395.09999999999997" font-size="8" text-anchor="middle" fill="#333" font-weight="normal" stroke="#333" stroke-width="0.15" >−2</text><text x="40.6" y="414.09999999999997" font-size="8" text-anchor="middle" fill="#333" font-weight="normal" stroke="#333" stroke-width="0.15" >−4</text><text x="45.9" y="431.0" font-size="8" text-anchor="middle" fill="#333" font-weight="normal" stroke="#333" stroke-width="0.15" >−6</text><text x="63" y="447.7" font-size="8" text-anchor="middle" fill="#333" font-weight="normal" stroke="#333" stroke-width="0.15" >20</text><text x="76.3" y="459.9" font-size="8" text-anchor="middle" fill="#333" font-weight="normal" stroke="#333" stroke-width="0.15" >40</text><text x="90.8" y="472.29999999999995" font-size="8" text-anchor="middle" fill="#333" font-weight="normal" stroke="#333" stroke-width="0.15" >60</text><text x="108.1" y="487.5" font-size="8" text-anchor="middle" fill="#333" font-weight="normal" stroke="#333" stroke-width="0.15" >80</text><text x="185.1" y="434.0" font-size="8" text-anchor="middle" fill="#333" font-weight="normal" stroke="#333" stroke-width="0.15" >1.0</text><text x="176.4" y="444.5" font-size="8" text-anchor="middle" fill="#333" font-weight="normal" stroke="#333" stroke-width="0.15" >0.5</text><text x="167.8" y="456.59999999999997" font-size="8" text-anchor="middle" fill="#333" font-weight="normal" stroke="#333" stroke-width="0.15" >0.0</text><text x="158.7" y="470.0" font-size="8" text-anchor="middle" fill="#333" font-weight="normal" stroke="#333" stroke-width="0.15" >−0.5</text><text x="147" y="484.59999999999997" font-size="8" text-anchor="middle" fill="#333" font-weight="normal" stroke="#333" stroke-width="0.15" >−1.0</text><text x="132.5" y="498.9" font-size="8" text-anchor="middle" fill="#333" font-weight="normal" stroke="#333" stroke-width="0.15" >−1.5</text><text transform="translate(21.3,389.2) rotate(70)" font-size="7.6" fill="#333" stroke="#333" stroke-width="0.15" text-anchor="middle" dy="2.8" textLength="61" lengthAdjust="spacingAndGlyphs">Log 10(D29 MRD)</text><text transform="translate(75.0,469.9) rotate(40)" font-size="7.6" fill="#333" stroke="#333" stroke-width="0.15" text-anchor="middle" dy="2.8" textLength="25.6" lengthAdjust="spacingAndGlyphs">CIMP%</text><text transform="translate(175.1,466.4) rotate(-47.5)" font-size="7.6" fill="#333" stroke="#333" stroke-width="0.15" text-anchor="middle" dy="2.8" textLength="45.2" lengthAdjust="spacingAndGlyphs">Log 10(WBC)</text><text x="56.6" y="514.0" font-size="8" text-anchor="start" fill="#333" font-weight="normal" stroke="#333" stroke-width="0.15" textLength="16.36" lengthAdjust="spacingAndGlyphs" >SMN</text><text x="88.5" y="514.0" font-size="8" text-anchor="start" fill="#333" font-weight="normal" stroke="#333" stroke-width="0.15" textLength="15.95" lengthAdjust="spacingAndGlyphs" >DCR</text><text x="118.5" y="514.0" font-size="8" text-anchor="start" fill="#333" font-weight="normal" stroke="#333" stroke-width="0.15" textLength="27.01" lengthAdjust="spacingAndGlyphs" >Relapse</text><text x="160.2" y="514.0" font-size="8" text-anchor="start" fill="#333" font-weight="normal" stroke="#333" stroke-width="0.15" textLength="10.63" lengthAdjust="spacingAndGlyphs" >CR</text><text x="234.85" y="364.97" font-size="8" text-anchor="middle" fill="#333" font-weight="normal" stroke="#333" stroke-width="0.15" >CIMP</text><text x="234.85" y="374.17" font-size="8" text-anchor="middle" fill="#333" font-weight="normal" stroke="#333" stroke-width="0.15" >high</text><text x="234.85" y="448.12" font-size="8" text-anchor="middle" fill="#333" font-weight="normal" stroke="#333" stroke-width="0.15" >CIMP</text><text x="234.85" y="457.32" font-size="8" text-anchor="middle" fill="#333" font-weight="normal" stroke="#333" stroke-width="0.15" >low</text><text x="321.0" y="326.4" font-size="8" text-anchor="middle" fill="#333" font-weight="normal" stroke="#333" stroke-width="0.15" textLength="24.9" lengthAdjust="spacingAndGlyphs" >&gt;25.0%</text><text x="321.0" y="343.59" font-size="8" text-anchor="middle" fill="#333" font-weight="normal" stroke="#333" stroke-width="0.15" textLength="24.9" lengthAdjust="spacingAndGlyphs" >&lt;25.0%</text><text x="321.0" y="389.96" font-size="8" text-anchor="middle" fill="#333" font-weight="normal" stroke="#333" stroke-width="0.15" textLength="20.85" lengthAdjust="spacingAndGlyphs" >&lt;5.0%</text><text x="321.0" y="437.53" font-size="8" text-anchor="middle" fill="#333" font-weight="normal" stroke="#333" stroke-width="0.15" textLength="20.85" lengthAdjust="spacingAndGlyphs" >&lt;0.1%</text><text x="321.0" y="469.51" font-size="8" text-anchor="middle" fill="#333" font-weight="normal" stroke="#333" stroke-width="0.15" textLength="24.9" lengthAdjust="spacingAndGlyphs" >&lt;0.01%</text><text x="407.1" y="323.6" font-size="8" text-anchor="middle" fill="#333" font-weight="normal" stroke="#333" stroke-width="0.15" textLength="24.9" lengthAdjust="spacingAndGlyphs" >&gt;25.0%</text><text x="407.1" y="328.4" font-size="8" text-anchor="middle" fill="#333" font-weight="normal" stroke="#333" stroke-width="0.15" textLength="24.9" lengthAdjust="spacingAndGlyphs" >&lt;25.0%</text><text x="407.1" y="365.17" font-size="8" text-anchor="middle" fill="#333" font-weight="normal" stroke="#333" stroke-width="0.15" textLength="20.85" lengthAdjust="spacingAndGlyphs" >&lt;5.0%</text><text x="407.1" y="414.74" font-size="8" text-anchor="middle" fill="#333" font-weight="normal" stroke="#333" stroke-width="0.15" textLength="20.85" lengthAdjust="spacingAndGlyphs" >&lt;0.1%</text><text x="407.1" y="459.12" font-size="8" text-anchor="middle" fill="#333" font-weight="normal" stroke="#333" stroke-width="0.15" textLength="24.9" lengthAdjust="spacingAndGlyphs" >&lt;0.01%</text><text x="493.65" y="322.8" font-size="8" text-anchor="middle" fill="#333" font-weight="normal" stroke="#333" stroke-width="0.15" textLength="16.4" lengthAdjust="spacingAndGlyphs" >SMN</text><text x="493.65" y="335.19" font-size="8" text-anchor="middle" fill="#333" font-weight="normal" stroke="#333" stroke-width="0.15" textLength="25.8" lengthAdjust="spacingAndGlyphs" >Relapse</text><text x="493.65" y="352.38" font-size="8" text-anchor="middle" fill="#333" font-weight="normal" stroke="#333" stroke-width="0.15" textLength="14.8" lengthAdjust="spacingAndGlyphs" >DCR</text><text x="493.65" y="423.14" font-size="8" text-anchor="middle" fill="#333" font-weight="normal" stroke="#333" stroke-width="0.15" textLength="9.8" lengthAdjust="spacingAndGlyphs" >CR</text><text x="234.85" y="503.1" font-size="8" text-anchor="middle" fill="#333" font-weight="normal" stroke="#333" stroke-width="0.15" >CIMP</text><text x="321.0" y="503.1" font-size="8" text-anchor="middle" fill="#333" font-weight="normal" stroke="#333" stroke-width="0.15" >D15 MRD</text><text x="407.1" y="503.1" font-size="8" text-anchor="middle" fill="#333" font-weight="normal" stroke="#333" stroke-width="0.15" >D29 MRD</text><text x="493.65" y="503.1" font-size="8" text-anchor="middle" fill="#333" font-weight="normal" stroke="#333" stroke-width="0.15" >Outcome</text></g>
<rect x="0.5" y="0.5" width="519" height="521" fill="none" stroke="#555" stroke-width="1"/>
</svg>
</body></html>
